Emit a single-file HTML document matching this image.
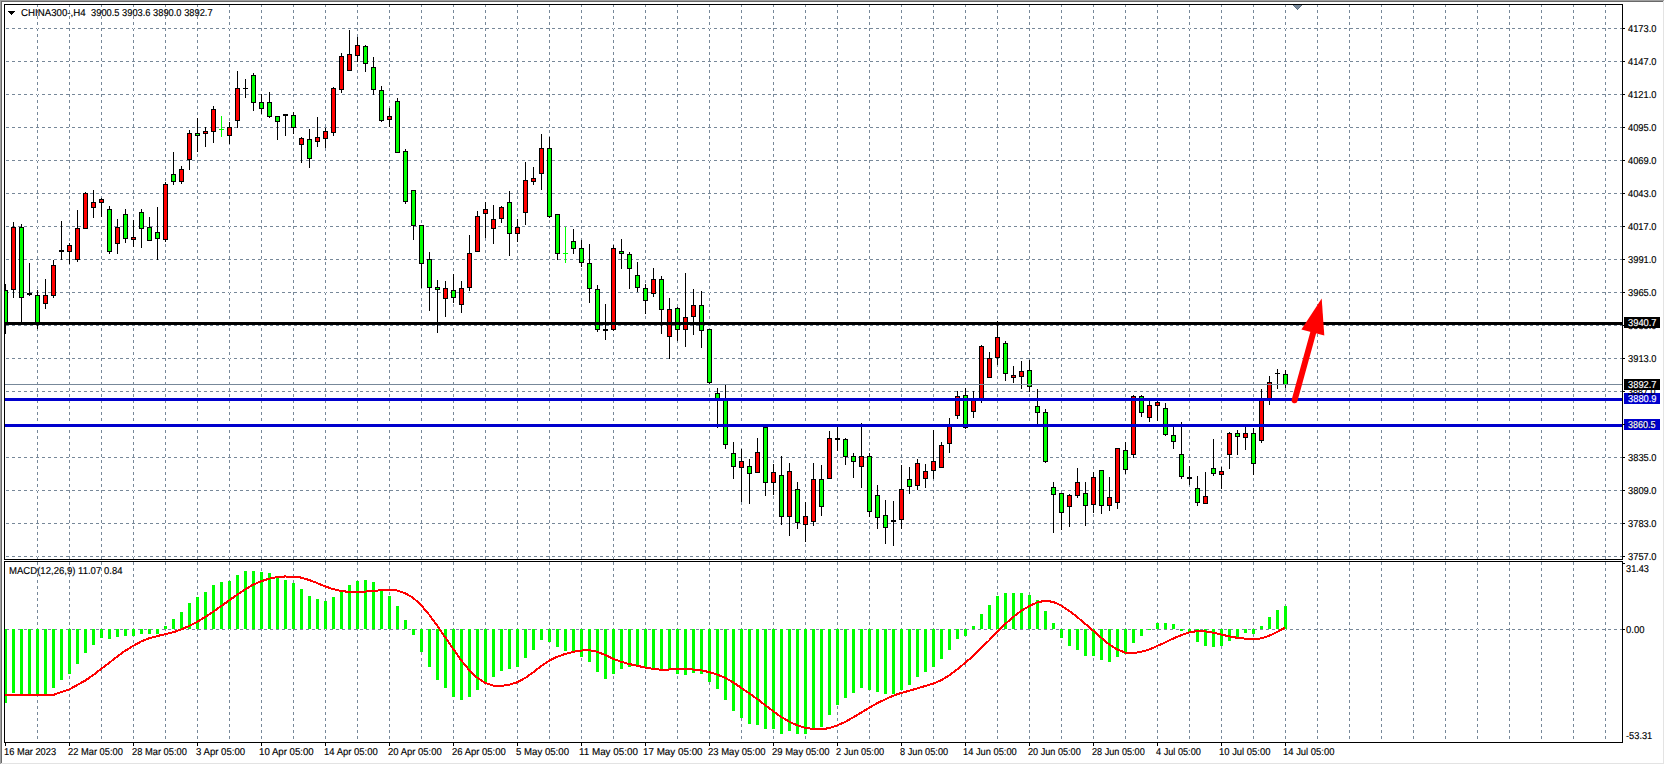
<!DOCTYPE html>
<html><head><meta charset="utf-8"><title>CHINA300-,H4</title>
<style>html,body{margin:0;padding:0;background:#fff;}body{width:1665px;height:765px;overflow:hidden;}svg{display:block;}</style>
</head><body><svg width="1665" height="765" viewBox="0 0 1665 765" shape-rendering="crispEdges"><rect x="0" y="0" width="1665" height="765" fill="#ffffff"/><rect x="0" y="0" width="1664" height="1" fill="#a0a0a0"/><rect x="0" y="0" width="1" height="764" fill="#a0a0a0"/><rect x="1" y="1" width="1662" height="1" fill="#696969"/><rect x="1" y="1" width="1" height="762" fill="#696969"/><rect x="1663" y="1" width="1" height="763" fill="#e3e3e3"/><rect x="1" y="763" width="1663" height="1" fill="#e3e3e3"/><path d="M6 28h3v1h-3zM12 28h3v1h-3zM18 28h3v1h-3zM24 28h3v1h-3zM30 28h3v1h-3zM36 28h3v1h-3zM42 28h3v1h-3zM48 28h3v1h-3zM54 28h3v1h-3zM60 28h3v1h-3zM66 28h3v1h-3zM72 28h3v1h-3zM78 28h3v1h-3zM84 28h3v1h-3zM90 28h3v1h-3zM96 28h3v1h-3zM102 28h3v1h-3zM108 28h3v1h-3zM114 28h3v1h-3zM120 28h3v1h-3zM126 28h3v1h-3zM132 28h3v1h-3zM138 28h3v1h-3zM144 28h3v1h-3zM150 28h3v1h-3zM156 28h3v1h-3zM162 28h3v1h-3zM168 28h3v1h-3zM174 28h3v1h-3zM180 28h3v1h-3zM186 28h3v1h-3zM192 28h3v1h-3zM198 28h3v1h-3zM204 28h3v1h-3zM210 28h3v1h-3zM216 28h3v1h-3zM222 28h3v1h-3zM228 28h3v1h-3zM234 28h3v1h-3zM240 28h3v1h-3zM246 28h3v1h-3zM252 28h3v1h-3zM258 28h3v1h-3zM264 28h3v1h-3zM270 28h3v1h-3zM276 28h3v1h-3zM282 28h3v1h-3zM288 28h3v1h-3zM294 28h3v1h-3zM300 28h3v1h-3zM306 28h3v1h-3zM312 28h3v1h-3zM318 28h3v1h-3zM324 28h3v1h-3zM330 28h3v1h-3zM336 28h3v1h-3zM342 28h3v1h-3zM348 28h3v1h-3zM354 28h3v1h-3zM360 28h3v1h-3zM366 28h3v1h-3zM372 28h3v1h-3zM378 28h3v1h-3zM384 28h3v1h-3zM390 28h3v1h-3zM396 28h3v1h-3zM402 28h3v1h-3zM408 28h3v1h-3zM414 28h3v1h-3zM420 28h3v1h-3zM426 28h3v1h-3zM432 28h3v1h-3zM438 28h3v1h-3zM444 28h3v1h-3zM450 28h3v1h-3zM456 28h3v1h-3zM462 28h3v1h-3zM468 28h3v1h-3zM474 28h3v1h-3zM480 28h3v1h-3zM486 28h3v1h-3zM492 28h3v1h-3zM498 28h3v1h-3zM504 28h3v1h-3zM510 28h3v1h-3zM516 28h3v1h-3zM522 28h3v1h-3zM528 28h3v1h-3zM534 28h3v1h-3zM540 28h3v1h-3zM546 28h3v1h-3zM552 28h3v1h-3zM558 28h3v1h-3zM564 28h3v1h-3zM570 28h3v1h-3zM576 28h3v1h-3zM582 28h3v1h-3zM588 28h3v1h-3zM594 28h3v1h-3zM600 28h3v1h-3zM606 28h3v1h-3zM612 28h3v1h-3zM618 28h3v1h-3zM624 28h3v1h-3zM630 28h3v1h-3zM636 28h3v1h-3zM642 28h3v1h-3zM648 28h3v1h-3zM654 28h3v1h-3zM660 28h3v1h-3zM666 28h3v1h-3zM672 28h3v1h-3zM678 28h3v1h-3zM684 28h3v1h-3zM690 28h3v1h-3zM696 28h3v1h-3zM702 28h3v1h-3zM708 28h3v1h-3zM714 28h3v1h-3zM720 28h3v1h-3zM726 28h3v1h-3zM732 28h3v1h-3zM738 28h3v1h-3zM744 28h3v1h-3zM750 28h3v1h-3zM756 28h3v1h-3zM762 28h3v1h-3zM768 28h3v1h-3zM774 28h3v1h-3zM780 28h3v1h-3zM786 28h3v1h-3zM792 28h3v1h-3zM798 28h3v1h-3zM804 28h3v1h-3zM810 28h3v1h-3zM816 28h3v1h-3zM822 28h3v1h-3zM828 28h3v1h-3zM834 28h3v1h-3zM840 28h3v1h-3zM846 28h3v1h-3zM852 28h3v1h-3zM858 28h3v1h-3zM864 28h3v1h-3zM870 28h3v1h-3zM876 28h3v1h-3zM882 28h3v1h-3zM888 28h3v1h-3zM894 28h3v1h-3zM900 28h3v1h-3zM906 28h3v1h-3zM912 28h3v1h-3zM918 28h3v1h-3zM924 28h3v1h-3zM930 28h3v1h-3zM936 28h3v1h-3zM942 28h3v1h-3zM948 28h3v1h-3zM954 28h3v1h-3zM960 28h3v1h-3zM966 28h3v1h-3zM972 28h3v1h-3zM978 28h3v1h-3zM984 28h3v1h-3zM990 28h3v1h-3zM996 28h3v1h-3zM1002 28h3v1h-3zM1008 28h3v1h-3zM1014 28h3v1h-3zM1020 28h3v1h-3zM1026 28h3v1h-3zM1032 28h3v1h-3zM1038 28h3v1h-3zM1044 28h3v1h-3zM1050 28h3v1h-3zM1056 28h3v1h-3zM1062 28h3v1h-3zM1068 28h3v1h-3zM1074 28h3v1h-3zM1080 28h3v1h-3zM1086 28h3v1h-3zM1092 28h3v1h-3zM1098 28h3v1h-3zM1104 28h3v1h-3zM1110 28h3v1h-3zM1116 28h3v1h-3zM1122 28h3v1h-3zM1128 28h3v1h-3zM1134 28h3v1h-3zM1140 28h3v1h-3zM1146 28h3v1h-3zM1152 28h3v1h-3zM1158 28h3v1h-3zM1164 28h3v1h-3zM1170 28h3v1h-3zM1176 28h3v1h-3zM1182 28h3v1h-3zM1188 28h3v1h-3zM1194 28h3v1h-3zM1200 28h3v1h-3zM1206 28h3v1h-3zM1212 28h3v1h-3zM1218 28h3v1h-3zM1224 28h3v1h-3zM1230 28h3v1h-3zM1236 28h3v1h-3zM1242 28h3v1h-3zM1248 28h3v1h-3zM1254 28h3v1h-3zM1260 28h3v1h-3zM1266 28h3v1h-3zM1272 28h3v1h-3zM1278 28h3v1h-3zM1284 28h3v1h-3zM1290 28h3v1h-3zM1296 28h3v1h-3zM1302 28h3v1h-3zM1308 28h3v1h-3zM1314 28h3v1h-3zM1320 28h3v1h-3zM1326 28h3v1h-3zM1332 28h3v1h-3zM1338 28h3v1h-3zM1344 28h3v1h-3zM1350 28h3v1h-3zM1356 28h3v1h-3zM1362 28h3v1h-3zM1368 28h3v1h-3zM1374 28h3v1h-3zM1380 28h3v1h-3zM1386 28h3v1h-3zM1392 28h3v1h-3zM1398 28h3v1h-3zM1404 28h3v1h-3zM1410 28h3v1h-3zM1416 28h3v1h-3zM1422 28h3v1h-3zM1428 28h3v1h-3zM1434 28h3v1h-3zM1440 28h3v1h-3zM1446 28h3v1h-3zM1452 28h3v1h-3zM1458 28h3v1h-3zM1464 28h3v1h-3zM1470 28h3v1h-3zM1476 28h3v1h-3zM1482 28h3v1h-3zM1488 28h3v1h-3zM1494 28h3v1h-3zM1500 28h3v1h-3zM1506 28h3v1h-3zM1512 28h3v1h-3zM1518 28h3v1h-3zM1524 28h3v1h-3zM1530 28h3v1h-3zM1536 28h3v1h-3zM1542 28h3v1h-3zM1548 28h3v1h-3zM1554 28h3v1h-3zM1560 28h3v1h-3zM1566 28h3v1h-3zM1572 28h3v1h-3zM1578 28h3v1h-3zM1584 28h3v1h-3zM1590 28h3v1h-3zM1596 28h3v1h-3zM1602 28h3v1h-3zM1608 28h3v1h-3zM1614 28h3v1h-3zM1620 28h2v1h-2zM6 61h3v1h-3zM12 61h3v1h-3zM18 61h3v1h-3zM24 61h3v1h-3zM30 61h3v1h-3zM36 61h3v1h-3zM42 61h3v1h-3zM48 61h3v1h-3zM54 61h3v1h-3zM60 61h3v1h-3zM66 61h3v1h-3zM72 61h3v1h-3zM78 61h3v1h-3zM84 61h3v1h-3zM90 61h3v1h-3zM96 61h3v1h-3zM102 61h3v1h-3zM108 61h3v1h-3zM114 61h3v1h-3zM120 61h3v1h-3zM126 61h3v1h-3zM132 61h3v1h-3zM138 61h3v1h-3zM144 61h3v1h-3zM150 61h3v1h-3zM156 61h3v1h-3zM162 61h3v1h-3zM168 61h3v1h-3zM174 61h3v1h-3zM180 61h3v1h-3zM186 61h3v1h-3zM192 61h3v1h-3zM198 61h3v1h-3zM204 61h3v1h-3zM210 61h3v1h-3zM216 61h3v1h-3zM222 61h3v1h-3zM228 61h3v1h-3zM234 61h3v1h-3zM240 61h3v1h-3zM246 61h3v1h-3zM252 61h3v1h-3zM258 61h3v1h-3zM264 61h3v1h-3zM270 61h3v1h-3zM276 61h3v1h-3zM282 61h3v1h-3zM288 61h3v1h-3zM294 61h3v1h-3zM300 61h3v1h-3zM306 61h3v1h-3zM312 61h3v1h-3zM318 61h3v1h-3zM324 61h3v1h-3zM330 61h3v1h-3zM336 61h3v1h-3zM342 61h3v1h-3zM348 61h3v1h-3zM354 61h3v1h-3zM360 61h3v1h-3zM366 61h3v1h-3zM372 61h3v1h-3zM378 61h3v1h-3zM384 61h3v1h-3zM390 61h3v1h-3zM396 61h3v1h-3zM402 61h3v1h-3zM408 61h3v1h-3zM414 61h3v1h-3zM420 61h3v1h-3zM426 61h3v1h-3zM432 61h3v1h-3zM438 61h3v1h-3zM444 61h3v1h-3zM450 61h3v1h-3zM456 61h3v1h-3zM462 61h3v1h-3zM468 61h3v1h-3zM474 61h3v1h-3zM480 61h3v1h-3zM486 61h3v1h-3zM492 61h3v1h-3zM498 61h3v1h-3zM504 61h3v1h-3zM510 61h3v1h-3zM516 61h3v1h-3zM522 61h3v1h-3zM528 61h3v1h-3zM534 61h3v1h-3zM540 61h3v1h-3zM546 61h3v1h-3zM552 61h3v1h-3zM558 61h3v1h-3zM564 61h3v1h-3zM570 61h3v1h-3zM576 61h3v1h-3zM582 61h3v1h-3zM588 61h3v1h-3zM594 61h3v1h-3zM600 61h3v1h-3zM606 61h3v1h-3zM612 61h3v1h-3zM618 61h3v1h-3zM624 61h3v1h-3zM630 61h3v1h-3zM636 61h3v1h-3zM642 61h3v1h-3zM648 61h3v1h-3zM654 61h3v1h-3zM660 61h3v1h-3zM666 61h3v1h-3zM672 61h3v1h-3zM678 61h3v1h-3zM684 61h3v1h-3zM690 61h3v1h-3zM696 61h3v1h-3zM702 61h3v1h-3zM708 61h3v1h-3zM714 61h3v1h-3zM720 61h3v1h-3zM726 61h3v1h-3zM732 61h3v1h-3zM738 61h3v1h-3zM744 61h3v1h-3zM750 61h3v1h-3zM756 61h3v1h-3zM762 61h3v1h-3zM768 61h3v1h-3zM774 61h3v1h-3zM780 61h3v1h-3zM786 61h3v1h-3zM792 61h3v1h-3zM798 61h3v1h-3zM804 61h3v1h-3zM810 61h3v1h-3zM816 61h3v1h-3zM822 61h3v1h-3zM828 61h3v1h-3zM834 61h3v1h-3zM840 61h3v1h-3zM846 61h3v1h-3zM852 61h3v1h-3zM858 61h3v1h-3zM864 61h3v1h-3zM870 61h3v1h-3zM876 61h3v1h-3zM882 61h3v1h-3zM888 61h3v1h-3zM894 61h3v1h-3zM900 61h3v1h-3zM906 61h3v1h-3zM912 61h3v1h-3zM918 61h3v1h-3zM924 61h3v1h-3zM930 61h3v1h-3zM936 61h3v1h-3zM942 61h3v1h-3zM948 61h3v1h-3zM954 61h3v1h-3zM960 61h3v1h-3zM966 61h3v1h-3zM972 61h3v1h-3zM978 61h3v1h-3zM984 61h3v1h-3zM990 61h3v1h-3zM996 61h3v1h-3zM1002 61h3v1h-3zM1008 61h3v1h-3zM1014 61h3v1h-3zM1020 61h3v1h-3zM1026 61h3v1h-3zM1032 61h3v1h-3zM1038 61h3v1h-3zM1044 61h3v1h-3zM1050 61h3v1h-3zM1056 61h3v1h-3zM1062 61h3v1h-3zM1068 61h3v1h-3zM1074 61h3v1h-3zM1080 61h3v1h-3zM1086 61h3v1h-3zM1092 61h3v1h-3zM1098 61h3v1h-3zM1104 61h3v1h-3zM1110 61h3v1h-3zM1116 61h3v1h-3zM1122 61h3v1h-3zM1128 61h3v1h-3zM1134 61h3v1h-3zM1140 61h3v1h-3zM1146 61h3v1h-3zM1152 61h3v1h-3zM1158 61h3v1h-3zM1164 61h3v1h-3zM1170 61h3v1h-3zM1176 61h3v1h-3zM1182 61h3v1h-3zM1188 61h3v1h-3zM1194 61h3v1h-3zM1200 61h3v1h-3zM1206 61h3v1h-3zM1212 61h3v1h-3zM1218 61h3v1h-3zM1224 61h3v1h-3zM1230 61h3v1h-3zM1236 61h3v1h-3zM1242 61h3v1h-3zM1248 61h3v1h-3zM1254 61h3v1h-3zM1260 61h3v1h-3zM1266 61h3v1h-3zM1272 61h3v1h-3zM1278 61h3v1h-3zM1284 61h3v1h-3zM1290 61h3v1h-3zM1296 61h3v1h-3zM1302 61h3v1h-3zM1308 61h3v1h-3zM1314 61h3v1h-3zM1320 61h3v1h-3zM1326 61h3v1h-3zM1332 61h3v1h-3zM1338 61h3v1h-3zM1344 61h3v1h-3zM1350 61h3v1h-3zM1356 61h3v1h-3zM1362 61h3v1h-3zM1368 61h3v1h-3zM1374 61h3v1h-3zM1380 61h3v1h-3zM1386 61h3v1h-3zM1392 61h3v1h-3zM1398 61h3v1h-3zM1404 61h3v1h-3zM1410 61h3v1h-3zM1416 61h3v1h-3zM1422 61h3v1h-3zM1428 61h3v1h-3zM1434 61h3v1h-3zM1440 61h3v1h-3zM1446 61h3v1h-3zM1452 61h3v1h-3zM1458 61h3v1h-3zM1464 61h3v1h-3zM1470 61h3v1h-3zM1476 61h3v1h-3zM1482 61h3v1h-3zM1488 61h3v1h-3zM1494 61h3v1h-3zM1500 61h3v1h-3zM1506 61h3v1h-3zM1512 61h3v1h-3zM1518 61h3v1h-3zM1524 61h3v1h-3zM1530 61h3v1h-3zM1536 61h3v1h-3zM1542 61h3v1h-3zM1548 61h3v1h-3zM1554 61h3v1h-3zM1560 61h3v1h-3zM1566 61h3v1h-3zM1572 61h3v1h-3zM1578 61h3v1h-3zM1584 61h3v1h-3zM1590 61h3v1h-3zM1596 61h3v1h-3zM1602 61h3v1h-3zM1608 61h3v1h-3zM1614 61h3v1h-3zM1620 61h2v1h-2zM6 94h3v1h-3zM12 94h3v1h-3zM18 94h3v1h-3zM24 94h3v1h-3zM30 94h3v1h-3zM36 94h3v1h-3zM42 94h3v1h-3zM48 94h3v1h-3zM54 94h3v1h-3zM60 94h3v1h-3zM66 94h3v1h-3zM72 94h3v1h-3zM78 94h3v1h-3zM84 94h3v1h-3zM90 94h3v1h-3zM96 94h3v1h-3zM102 94h3v1h-3zM108 94h3v1h-3zM114 94h3v1h-3zM120 94h3v1h-3zM126 94h3v1h-3zM132 94h3v1h-3zM138 94h3v1h-3zM144 94h3v1h-3zM150 94h3v1h-3zM156 94h3v1h-3zM162 94h3v1h-3zM168 94h3v1h-3zM174 94h3v1h-3zM180 94h3v1h-3zM186 94h3v1h-3zM192 94h3v1h-3zM198 94h3v1h-3zM204 94h3v1h-3zM210 94h3v1h-3zM216 94h3v1h-3zM222 94h3v1h-3zM228 94h3v1h-3zM234 94h3v1h-3zM240 94h3v1h-3zM246 94h3v1h-3zM252 94h3v1h-3zM258 94h3v1h-3zM264 94h3v1h-3zM270 94h3v1h-3zM276 94h3v1h-3zM282 94h3v1h-3zM288 94h3v1h-3zM294 94h3v1h-3zM300 94h3v1h-3zM306 94h3v1h-3zM312 94h3v1h-3zM318 94h3v1h-3zM324 94h3v1h-3zM330 94h3v1h-3zM336 94h3v1h-3zM342 94h3v1h-3zM348 94h3v1h-3zM354 94h3v1h-3zM360 94h3v1h-3zM366 94h3v1h-3zM372 94h3v1h-3zM378 94h3v1h-3zM384 94h3v1h-3zM390 94h3v1h-3zM396 94h3v1h-3zM402 94h3v1h-3zM408 94h3v1h-3zM414 94h3v1h-3zM420 94h3v1h-3zM426 94h3v1h-3zM432 94h3v1h-3zM438 94h3v1h-3zM444 94h3v1h-3zM450 94h3v1h-3zM456 94h3v1h-3zM462 94h3v1h-3zM468 94h3v1h-3zM474 94h3v1h-3zM480 94h3v1h-3zM486 94h3v1h-3zM492 94h3v1h-3zM498 94h3v1h-3zM504 94h3v1h-3zM510 94h3v1h-3zM516 94h3v1h-3zM522 94h3v1h-3zM528 94h3v1h-3zM534 94h3v1h-3zM540 94h3v1h-3zM546 94h3v1h-3zM552 94h3v1h-3zM558 94h3v1h-3zM564 94h3v1h-3zM570 94h3v1h-3zM576 94h3v1h-3zM582 94h3v1h-3zM588 94h3v1h-3zM594 94h3v1h-3zM600 94h3v1h-3zM606 94h3v1h-3zM612 94h3v1h-3zM618 94h3v1h-3zM624 94h3v1h-3zM630 94h3v1h-3zM636 94h3v1h-3zM642 94h3v1h-3zM648 94h3v1h-3zM654 94h3v1h-3zM660 94h3v1h-3zM666 94h3v1h-3zM672 94h3v1h-3zM678 94h3v1h-3zM684 94h3v1h-3zM690 94h3v1h-3zM696 94h3v1h-3zM702 94h3v1h-3zM708 94h3v1h-3zM714 94h3v1h-3zM720 94h3v1h-3zM726 94h3v1h-3zM732 94h3v1h-3zM738 94h3v1h-3zM744 94h3v1h-3zM750 94h3v1h-3zM756 94h3v1h-3zM762 94h3v1h-3zM768 94h3v1h-3zM774 94h3v1h-3zM780 94h3v1h-3zM786 94h3v1h-3zM792 94h3v1h-3zM798 94h3v1h-3zM804 94h3v1h-3zM810 94h3v1h-3zM816 94h3v1h-3zM822 94h3v1h-3zM828 94h3v1h-3zM834 94h3v1h-3zM840 94h3v1h-3zM846 94h3v1h-3zM852 94h3v1h-3zM858 94h3v1h-3zM864 94h3v1h-3zM870 94h3v1h-3zM876 94h3v1h-3zM882 94h3v1h-3zM888 94h3v1h-3zM894 94h3v1h-3zM900 94h3v1h-3zM906 94h3v1h-3zM912 94h3v1h-3zM918 94h3v1h-3zM924 94h3v1h-3zM930 94h3v1h-3zM936 94h3v1h-3zM942 94h3v1h-3zM948 94h3v1h-3zM954 94h3v1h-3zM960 94h3v1h-3zM966 94h3v1h-3zM972 94h3v1h-3zM978 94h3v1h-3zM984 94h3v1h-3zM990 94h3v1h-3zM996 94h3v1h-3zM1002 94h3v1h-3zM1008 94h3v1h-3zM1014 94h3v1h-3zM1020 94h3v1h-3zM1026 94h3v1h-3zM1032 94h3v1h-3zM1038 94h3v1h-3zM1044 94h3v1h-3zM1050 94h3v1h-3zM1056 94h3v1h-3zM1062 94h3v1h-3zM1068 94h3v1h-3zM1074 94h3v1h-3zM1080 94h3v1h-3zM1086 94h3v1h-3zM1092 94h3v1h-3zM1098 94h3v1h-3zM1104 94h3v1h-3zM1110 94h3v1h-3zM1116 94h3v1h-3zM1122 94h3v1h-3zM1128 94h3v1h-3zM1134 94h3v1h-3zM1140 94h3v1h-3zM1146 94h3v1h-3zM1152 94h3v1h-3zM1158 94h3v1h-3zM1164 94h3v1h-3zM1170 94h3v1h-3zM1176 94h3v1h-3zM1182 94h3v1h-3zM1188 94h3v1h-3zM1194 94h3v1h-3zM1200 94h3v1h-3zM1206 94h3v1h-3zM1212 94h3v1h-3zM1218 94h3v1h-3zM1224 94h3v1h-3zM1230 94h3v1h-3zM1236 94h3v1h-3zM1242 94h3v1h-3zM1248 94h3v1h-3zM1254 94h3v1h-3zM1260 94h3v1h-3zM1266 94h3v1h-3zM1272 94h3v1h-3zM1278 94h3v1h-3zM1284 94h3v1h-3zM1290 94h3v1h-3zM1296 94h3v1h-3zM1302 94h3v1h-3zM1308 94h3v1h-3zM1314 94h3v1h-3zM1320 94h3v1h-3zM1326 94h3v1h-3zM1332 94h3v1h-3zM1338 94h3v1h-3zM1344 94h3v1h-3zM1350 94h3v1h-3zM1356 94h3v1h-3zM1362 94h3v1h-3zM1368 94h3v1h-3zM1374 94h3v1h-3zM1380 94h3v1h-3zM1386 94h3v1h-3zM1392 94h3v1h-3zM1398 94h3v1h-3zM1404 94h3v1h-3zM1410 94h3v1h-3zM1416 94h3v1h-3zM1422 94h3v1h-3zM1428 94h3v1h-3zM1434 94h3v1h-3zM1440 94h3v1h-3zM1446 94h3v1h-3zM1452 94h3v1h-3zM1458 94h3v1h-3zM1464 94h3v1h-3zM1470 94h3v1h-3zM1476 94h3v1h-3zM1482 94h3v1h-3zM1488 94h3v1h-3zM1494 94h3v1h-3zM1500 94h3v1h-3zM1506 94h3v1h-3zM1512 94h3v1h-3zM1518 94h3v1h-3zM1524 94h3v1h-3zM1530 94h3v1h-3zM1536 94h3v1h-3zM1542 94h3v1h-3zM1548 94h3v1h-3zM1554 94h3v1h-3zM1560 94h3v1h-3zM1566 94h3v1h-3zM1572 94h3v1h-3zM1578 94h3v1h-3zM1584 94h3v1h-3zM1590 94h3v1h-3zM1596 94h3v1h-3zM1602 94h3v1h-3zM1608 94h3v1h-3zM1614 94h3v1h-3zM1620 94h2v1h-2zM6 127h3v1h-3zM12 127h3v1h-3zM18 127h3v1h-3zM24 127h3v1h-3zM30 127h3v1h-3zM36 127h3v1h-3zM42 127h3v1h-3zM48 127h3v1h-3zM54 127h3v1h-3zM60 127h3v1h-3zM66 127h3v1h-3zM72 127h3v1h-3zM78 127h3v1h-3zM84 127h3v1h-3zM90 127h3v1h-3zM96 127h3v1h-3zM102 127h3v1h-3zM108 127h3v1h-3zM114 127h3v1h-3zM120 127h3v1h-3zM126 127h3v1h-3zM132 127h3v1h-3zM138 127h3v1h-3zM144 127h3v1h-3zM150 127h3v1h-3zM156 127h3v1h-3zM162 127h3v1h-3zM168 127h3v1h-3zM174 127h3v1h-3zM180 127h3v1h-3zM186 127h3v1h-3zM192 127h3v1h-3zM198 127h3v1h-3zM204 127h3v1h-3zM210 127h3v1h-3zM216 127h3v1h-3zM222 127h3v1h-3zM228 127h3v1h-3zM234 127h3v1h-3zM240 127h3v1h-3zM246 127h3v1h-3zM252 127h3v1h-3zM258 127h3v1h-3zM264 127h3v1h-3zM270 127h3v1h-3zM276 127h3v1h-3zM282 127h3v1h-3zM288 127h3v1h-3zM294 127h3v1h-3zM300 127h3v1h-3zM306 127h3v1h-3zM312 127h3v1h-3zM318 127h3v1h-3zM324 127h3v1h-3zM330 127h3v1h-3zM336 127h3v1h-3zM342 127h3v1h-3zM348 127h3v1h-3zM354 127h3v1h-3zM360 127h3v1h-3zM366 127h3v1h-3zM372 127h3v1h-3zM378 127h3v1h-3zM384 127h3v1h-3zM390 127h3v1h-3zM396 127h3v1h-3zM402 127h3v1h-3zM408 127h3v1h-3zM414 127h3v1h-3zM420 127h3v1h-3zM426 127h3v1h-3zM432 127h3v1h-3zM438 127h3v1h-3zM444 127h3v1h-3zM450 127h3v1h-3zM456 127h3v1h-3zM462 127h3v1h-3zM468 127h3v1h-3zM474 127h3v1h-3zM480 127h3v1h-3zM486 127h3v1h-3zM492 127h3v1h-3zM498 127h3v1h-3zM504 127h3v1h-3zM510 127h3v1h-3zM516 127h3v1h-3zM522 127h3v1h-3zM528 127h3v1h-3zM534 127h3v1h-3zM540 127h3v1h-3zM546 127h3v1h-3zM552 127h3v1h-3zM558 127h3v1h-3zM564 127h3v1h-3zM570 127h3v1h-3zM576 127h3v1h-3zM582 127h3v1h-3zM588 127h3v1h-3zM594 127h3v1h-3zM600 127h3v1h-3zM606 127h3v1h-3zM612 127h3v1h-3zM618 127h3v1h-3zM624 127h3v1h-3zM630 127h3v1h-3zM636 127h3v1h-3zM642 127h3v1h-3zM648 127h3v1h-3zM654 127h3v1h-3zM660 127h3v1h-3zM666 127h3v1h-3zM672 127h3v1h-3zM678 127h3v1h-3zM684 127h3v1h-3zM690 127h3v1h-3zM696 127h3v1h-3zM702 127h3v1h-3zM708 127h3v1h-3zM714 127h3v1h-3zM720 127h3v1h-3zM726 127h3v1h-3zM732 127h3v1h-3zM738 127h3v1h-3zM744 127h3v1h-3zM750 127h3v1h-3zM756 127h3v1h-3zM762 127h3v1h-3zM768 127h3v1h-3zM774 127h3v1h-3zM780 127h3v1h-3zM786 127h3v1h-3zM792 127h3v1h-3zM798 127h3v1h-3zM804 127h3v1h-3zM810 127h3v1h-3zM816 127h3v1h-3zM822 127h3v1h-3zM828 127h3v1h-3zM834 127h3v1h-3zM840 127h3v1h-3zM846 127h3v1h-3zM852 127h3v1h-3zM858 127h3v1h-3zM864 127h3v1h-3zM870 127h3v1h-3zM876 127h3v1h-3zM882 127h3v1h-3zM888 127h3v1h-3zM894 127h3v1h-3zM900 127h3v1h-3zM906 127h3v1h-3zM912 127h3v1h-3zM918 127h3v1h-3zM924 127h3v1h-3zM930 127h3v1h-3zM936 127h3v1h-3zM942 127h3v1h-3zM948 127h3v1h-3zM954 127h3v1h-3zM960 127h3v1h-3zM966 127h3v1h-3zM972 127h3v1h-3zM978 127h3v1h-3zM984 127h3v1h-3zM990 127h3v1h-3zM996 127h3v1h-3zM1002 127h3v1h-3zM1008 127h3v1h-3zM1014 127h3v1h-3zM1020 127h3v1h-3zM1026 127h3v1h-3zM1032 127h3v1h-3zM1038 127h3v1h-3zM1044 127h3v1h-3zM1050 127h3v1h-3zM1056 127h3v1h-3zM1062 127h3v1h-3zM1068 127h3v1h-3zM1074 127h3v1h-3zM1080 127h3v1h-3zM1086 127h3v1h-3zM1092 127h3v1h-3zM1098 127h3v1h-3zM1104 127h3v1h-3zM1110 127h3v1h-3zM1116 127h3v1h-3zM1122 127h3v1h-3zM1128 127h3v1h-3zM1134 127h3v1h-3zM1140 127h3v1h-3zM1146 127h3v1h-3zM1152 127h3v1h-3zM1158 127h3v1h-3zM1164 127h3v1h-3zM1170 127h3v1h-3zM1176 127h3v1h-3zM1182 127h3v1h-3zM1188 127h3v1h-3zM1194 127h3v1h-3zM1200 127h3v1h-3zM1206 127h3v1h-3zM1212 127h3v1h-3zM1218 127h3v1h-3zM1224 127h3v1h-3zM1230 127h3v1h-3zM1236 127h3v1h-3zM1242 127h3v1h-3zM1248 127h3v1h-3zM1254 127h3v1h-3zM1260 127h3v1h-3zM1266 127h3v1h-3zM1272 127h3v1h-3zM1278 127h3v1h-3zM1284 127h3v1h-3zM1290 127h3v1h-3zM1296 127h3v1h-3zM1302 127h3v1h-3zM1308 127h3v1h-3zM1314 127h3v1h-3zM1320 127h3v1h-3zM1326 127h3v1h-3zM1332 127h3v1h-3zM1338 127h3v1h-3zM1344 127h3v1h-3zM1350 127h3v1h-3zM1356 127h3v1h-3zM1362 127h3v1h-3zM1368 127h3v1h-3zM1374 127h3v1h-3zM1380 127h3v1h-3zM1386 127h3v1h-3zM1392 127h3v1h-3zM1398 127h3v1h-3zM1404 127h3v1h-3zM1410 127h3v1h-3zM1416 127h3v1h-3zM1422 127h3v1h-3zM1428 127h3v1h-3zM1434 127h3v1h-3zM1440 127h3v1h-3zM1446 127h3v1h-3zM1452 127h3v1h-3zM1458 127h3v1h-3zM1464 127h3v1h-3zM1470 127h3v1h-3zM1476 127h3v1h-3zM1482 127h3v1h-3zM1488 127h3v1h-3zM1494 127h3v1h-3zM1500 127h3v1h-3zM1506 127h3v1h-3zM1512 127h3v1h-3zM1518 127h3v1h-3zM1524 127h3v1h-3zM1530 127h3v1h-3zM1536 127h3v1h-3zM1542 127h3v1h-3zM1548 127h3v1h-3zM1554 127h3v1h-3zM1560 127h3v1h-3zM1566 127h3v1h-3zM1572 127h3v1h-3zM1578 127h3v1h-3zM1584 127h3v1h-3zM1590 127h3v1h-3zM1596 127h3v1h-3zM1602 127h3v1h-3zM1608 127h3v1h-3zM1614 127h3v1h-3zM1620 127h2v1h-2zM6 160h3v1h-3zM12 160h3v1h-3zM18 160h3v1h-3zM24 160h3v1h-3zM30 160h3v1h-3zM36 160h3v1h-3zM42 160h3v1h-3zM48 160h3v1h-3zM54 160h3v1h-3zM60 160h3v1h-3zM66 160h3v1h-3zM72 160h3v1h-3zM78 160h3v1h-3zM84 160h3v1h-3zM90 160h3v1h-3zM96 160h3v1h-3zM102 160h3v1h-3zM108 160h3v1h-3zM114 160h3v1h-3zM120 160h3v1h-3zM126 160h3v1h-3zM132 160h3v1h-3zM138 160h3v1h-3zM144 160h3v1h-3zM150 160h3v1h-3zM156 160h3v1h-3zM162 160h3v1h-3zM168 160h3v1h-3zM174 160h3v1h-3zM180 160h3v1h-3zM186 160h3v1h-3zM192 160h3v1h-3zM198 160h3v1h-3zM204 160h3v1h-3zM210 160h3v1h-3zM216 160h3v1h-3zM222 160h3v1h-3zM228 160h3v1h-3zM234 160h3v1h-3zM240 160h3v1h-3zM246 160h3v1h-3zM252 160h3v1h-3zM258 160h3v1h-3zM264 160h3v1h-3zM270 160h3v1h-3zM276 160h3v1h-3zM282 160h3v1h-3zM288 160h3v1h-3zM294 160h3v1h-3zM300 160h3v1h-3zM306 160h3v1h-3zM312 160h3v1h-3zM318 160h3v1h-3zM324 160h3v1h-3zM330 160h3v1h-3zM336 160h3v1h-3zM342 160h3v1h-3zM348 160h3v1h-3zM354 160h3v1h-3zM360 160h3v1h-3zM366 160h3v1h-3zM372 160h3v1h-3zM378 160h3v1h-3zM384 160h3v1h-3zM390 160h3v1h-3zM396 160h3v1h-3zM402 160h3v1h-3zM408 160h3v1h-3zM414 160h3v1h-3zM420 160h3v1h-3zM426 160h3v1h-3zM432 160h3v1h-3zM438 160h3v1h-3zM444 160h3v1h-3zM450 160h3v1h-3zM456 160h3v1h-3zM462 160h3v1h-3zM468 160h3v1h-3zM474 160h3v1h-3zM480 160h3v1h-3zM486 160h3v1h-3zM492 160h3v1h-3zM498 160h3v1h-3zM504 160h3v1h-3zM510 160h3v1h-3zM516 160h3v1h-3zM522 160h3v1h-3zM528 160h3v1h-3zM534 160h3v1h-3zM540 160h3v1h-3zM546 160h3v1h-3zM552 160h3v1h-3zM558 160h3v1h-3zM564 160h3v1h-3zM570 160h3v1h-3zM576 160h3v1h-3zM582 160h3v1h-3zM588 160h3v1h-3zM594 160h3v1h-3zM600 160h3v1h-3zM606 160h3v1h-3zM612 160h3v1h-3zM618 160h3v1h-3zM624 160h3v1h-3zM630 160h3v1h-3zM636 160h3v1h-3zM642 160h3v1h-3zM648 160h3v1h-3zM654 160h3v1h-3zM660 160h3v1h-3zM666 160h3v1h-3zM672 160h3v1h-3zM678 160h3v1h-3zM684 160h3v1h-3zM690 160h3v1h-3zM696 160h3v1h-3zM702 160h3v1h-3zM708 160h3v1h-3zM714 160h3v1h-3zM720 160h3v1h-3zM726 160h3v1h-3zM732 160h3v1h-3zM738 160h3v1h-3zM744 160h3v1h-3zM750 160h3v1h-3zM756 160h3v1h-3zM762 160h3v1h-3zM768 160h3v1h-3zM774 160h3v1h-3zM780 160h3v1h-3zM786 160h3v1h-3zM792 160h3v1h-3zM798 160h3v1h-3zM804 160h3v1h-3zM810 160h3v1h-3zM816 160h3v1h-3zM822 160h3v1h-3zM828 160h3v1h-3zM834 160h3v1h-3zM840 160h3v1h-3zM846 160h3v1h-3zM852 160h3v1h-3zM858 160h3v1h-3zM864 160h3v1h-3zM870 160h3v1h-3zM876 160h3v1h-3zM882 160h3v1h-3zM888 160h3v1h-3zM894 160h3v1h-3zM900 160h3v1h-3zM906 160h3v1h-3zM912 160h3v1h-3zM918 160h3v1h-3zM924 160h3v1h-3zM930 160h3v1h-3zM936 160h3v1h-3zM942 160h3v1h-3zM948 160h3v1h-3zM954 160h3v1h-3zM960 160h3v1h-3zM966 160h3v1h-3zM972 160h3v1h-3zM978 160h3v1h-3zM984 160h3v1h-3zM990 160h3v1h-3zM996 160h3v1h-3zM1002 160h3v1h-3zM1008 160h3v1h-3zM1014 160h3v1h-3zM1020 160h3v1h-3zM1026 160h3v1h-3zM1032 160h3v1h-3zM1038 160h3v1h-3zM1044 160h3v1h-3zM1050 160h3v1h-3zM1056 160h3v1h-3zM1062 160h3v1h-3zM1068 160h3v1h-3zM1074 160h3v1h-3zM1080 160h3v1h-3zM1086 160h3v1h-3zM1092 160h3v1h-3zM1098 160h3v1h-3zM1104 160h3v1h-3zM1110 160h3v1h-3zM1116 160h3v1h-3zM1122 160h3v1h-3zM1128 160h3v1h-3zM1134 160h3v1h-3zM1140 160h3v1h-3zM1146 160h3v1h-3zM1152 160h3v1h-3zM1158 160h3v1h-3zM1164 160h3v1h-3zM1170 160h3v1h-3zM1176 160h3v1h-3zM1182 160h3v1h-3zM1188 160h3v1h-3zM1194 160h3v1h-3zM1200 160h3v1h-3zM1206 160h3v1h-3zM1212 160h3v1h-3zM1218 160h3v1h-3zM1224 160h3v1h-3zM1230 160h3v1h-3zM1236 160h3v1h-3zM1242 160h3v1h-3zM1248 160h3v1h-3zM1254 160h3v1h-3zM1260 160h3v1h-3zM1266 160h3v1h-3zM1272 160h3v1h-3zM1278 160h3v1h-3zM1284 160h3v1h-3zM1290 160h3v1h-3zM1296 160h3v1h-3zM1302 160h3v1h-3zM1308 160h3v1h-3zM1314 160h3v1h-3zM1320 160h3v1h-3zM1326 160h3v1h-3zM1332 160h3v1h-3zM1338 160h3v1h-3zM1344 160h3v1h-3zM1350 160h3v1h-3zM1356 160h3v1h-3zM1362 160h3v1h-3zM1368 160h3v1h-3zM1374 160h3v1h-3zM1380 160h3v1h-3zM1386 160h3v1h-3zM1392 160h3v1h-3zM1398 160h3v1h-3zM1404 160h3v1h-3zM1410 160h3v1h-3zM1416 160h3v1h-3zM1422 160h3v1h-3zM1428 160h3v1h-3zM1434 160h3v1h-3zM1440 160h3v1h-3zM1446 160h3v1h-3zM1452 160h3v1h-3zM1458 160h3v1h-3zM1464 160h3v1h-3zM1470 160h3v1h-3zM1476 160h3v1h-3zM1482 160h3v1h-3zM1488 160h3v1h-3zM1494 160h3v1h-3zM1500 160h3v1h-3zM1506 160h3v1h-3zM1512 160h3v1h-3zM1518 160h3v1h-3zM1524 160h3v1h-3zM1530 160h3v1h-3zM1536 160h3v1h-3zM1542 160h3v1h-3zM1548 160h3v1h-3zM1554 160h3v1h-3zM1560 160h3v1h-3zM1566 160h3v1h-3zM1572 160h3v1h-3zM1578 160h3v1h-3zM1584 160h3v1h-3zM1590 160h3v1h-3zM1596 160h3v1h-3zM1602 160h3v1h-3zM1608 160h3v1h-3zM1614 160h3v1h-3zM1620 160h2v1h-2zM6 193h3v1h-3zM12 193h3v1h-3zM18 193h3v1h-3zM24 193h3v1h-3zM30 193h3v1h-3zM36 193h3v1h-3zM42 193h3v1h-3zM48 193h3v1h-3zM54 193h3v1h-3zM60 193h3v1h-3zM66 193h3v1h-3zM72 193h3v1h-3zM78 193h3v1h-3zM84 193h3v1h-3zM90 193h3v1h-3zM96 193h3v1h-3zM102 193h3v1h-3zM108 193h3v1h-3zM114 193h3v1h-3zM120 193h3v1h-3zM126 193h3v1h-3zM132 193h3v1h-3zM138 193h3v1h-3zM144 193h3v1h-3zM150 193h3v1h-3zM156 193h3v1h-3zM162 193h3v1h-3zM168 193h3v1h-3zM174 193h3v1h-3zM180 193h3v1h-3zM186 193h3v1h-3zM192 193h3v1h-3zM198 193h3v1h-3zM204 193h3v1h-3zM210 193h3v1h-3zM216 193h3v1h-3zM222 193h3v1h-3zM228 193h3v1h-3zM234 193h3v1h-3zM240 193h3v1h-3zM246 193h3v1h-3zM252 193h3v1h-3zM258 193h3v1h-3zM264 193h3v1h-3zM270 193h3v1h-3zM276 193h3v1h-3zM282 193h3v1h-3zM288 193h3v1h-3zM294 193h3v1h-3zM300 193h3v1h-3zM306 193h3v1h-3zM312 193h3v1h-3zM318 193h3v1h-3zM324 193h3v1h-3zM330 193h3v1h-3zM336 193h3v1h-3zM342 193h3v1h-3zM348 193h3v1h-3zM354 193h3v1h-3zM360 193h3v1h-3zM366 193h3v1h-3zM372 193h3v1h-3zM378 193h3v1h-3zM384 193h3v1h-3zM390 193h3v1h-3zM396 193h3v1h-3zM402 193h3v1h-3zM408 193h3v1h-3zM414 193h3v1h-3zM420 193h3v1h-3zM426 193h3v1h-3zM432 193h3v1h-3zM438 193h3v1h-3zM444 193h3v1h-3zM450 193h3v1h-3zM456 193h3v1h-3zM462 193h3v1h-3zM468 193h3v1h-3zM474 193h3v1h-3zM480 193h3v1h-3zM486 193h3v1h-3zM492 193h3v1h-3zM498 193h3v1h-3zM504 193h3v1h-3zM510 193h3v1h-3zM516 193h3v1h-3zM522 193h3v1h-3zM528 193h3v1h-3zM534 193h3v1h-3zM540 193h3v1h-3zM546 193h3v1h-3zM552 193h3v1h-3zM558 193h3v1h-3zM564 193h3v1h-3zM570 193h3v1h-3zM576 193h3v1h-3zM582 193h3v1h-3zM588 193h3v1h-3zM594 193h3v1h-3zM600 193h3v1h-3zM606 193h3v1h-3zM612 193h3v1h-3zM618 193h3v1h-3zM624 193h3v1h-3zM630 193h3v1h-3zM636 193h3v1h-3zM642 193h3v1h-3zM648 193h3v1h-3zM654 193h3v1h-3zM660 193h3v1h-3zM666 193h3v1h-3zM672 193h3v1h-3zM678 193h3v1h-3zM684 193h3v1h-3zM690 193h3v1h-3zM696 193h3v1h-3zM702 193h3v1h-3zM708 193h3v1h-3zM714 193h3v1h-3zM720 193h3v1h-3zM726 193h3v1h-3zM732 193h3v1h-3zM738 193h3v1h-3zM744 193h3v1h-3zM750 193h3v1h-3zM756 193h3v1h-3zM762 193h3v1h-3zM768 193h3v1h-3zM774 193h3v1h-3zM780 193h3v1h-3zM786 193h3v1h-3zM792 193h3v1h-3zM798 193h3v1h-3zM804 193h3v1h-3zM810 193h3v1h-3zM816 193h3v1h-3zM822 193h3v1h-3zM828 193h3v1h-3zM834 193h3v1h-3zM840 193h3v1h-3zM846 193h3v1h-3zM852 193h3v1h-3zM858 193h3v1h-3zM864 193h3v1h-3zM870 193h3v1h-3zM876 193h3v1h-3zM882 193h3v1h-3zM888 193h3v1h-3zM894 193h3v1h-3zM900 193h3v1h-3zM906 193h3v1h-3zM912 193h3v1h-3zM918 193h3v1h-3zM924 193h3v1h-3zM930 193h3v1h-3zM936 193h3v1h-3zM942 193h3v1h-3zM948 193h3v1h-3zM954 193h3v1h-3zM960 193h3v1h-3zM966 193h3v1h-3zM972 193h3v1h-3zM978 193h3v1h-3zM984 193h3v1h-3zM990 193h3v1h-3zM996 193h3v1h-3zM1002 193h3v1h-3zM1008 193h3v1h-3zM1014 193h3v1h-3zM1020 193h3v1h-3zM1026 193h3v1h-3zM1032 193h3v1h-3zM1038 193h3v1h-3zM1044 193h3v1h-3zM1050 193h3v1h-3zM1056 193h3v1h-3zM1062 193h3v1h-3zM1068 193h3v1h-3zM1074 193h3v1h-3zM1080 193h3v1h-3zM1086 193h3v1h-3zM1092 193h3v1h-3zM1098 193h3v1h-3zM1104 193h3v1h-3zM1110 193h3v1h-3zM1116 193h3v1h-3zM1122 193h3v1h-3zM1128 193h3v1h-3zM1134 193h3v1h-3zM1140 193h3v1h-3zM1146 193h3v1h-3zM1152 193h3v1h-3zM1158 193h3v1h-3zM1164 193h3v1h-3zM1170 193h3v1h-3zM1176 193h3v1h-3zM1182 193h3v1h-3zM1188 193h3v1h-3zM1194 193h3v1h-3zM1200 193h3v1h-3zM1206 193h3v1h-3zM1212 193h3v1h-3zM1218 193h3v1h-3zM1224 193h3v1h-3zM1230 193h3v1h-3zM1236 193h3v1h-3zM1242 193h3v1h-3zM1248 193h3v1h-3zM1254 193h3v1h-3zM1260 193h3v1h-3zM1266 193h3v1h-3zM1272 193h3v1h-3zM1278 193h3v1h-3zM1284 193h3v1h-3zM1290 193h3v1h-3zM1296 193h3v1h-3zM1302 193h3v1h-3zM1308 193h3v1h-3zM1314 193h3v1h-3zM1320 193h3v1h-3zM1326 193h3v1h-3zM1332 193h3v1h-3zM1338 193h3v1h-3zM1344 193h3v1h-3zM1350 193h3v1h-3zM1356 193h3v1h-3zM1362 193h3v1h-3zM1368 193h3v1h-3zM1374 193h3v1h-3zM1380 193h3v1h-3zM1386 193h3v1h-3zM1392 193h3v1h-3zM1398 193h3v1h-3zM1404 193h3v1h-3zM1410 193h3v1h-3zM1416 193h3v1h-3zM1422 193h3v1h-3zM1428 193h3v1h-3zM1434 193h3v1h-3zM1440 193h3v1h-3zM1446 193h3v1h-3zM1452 193h3v1h-3zM1458 193h3v1h-3zM1464 193h3v1h-3zM1470 193h3v1h-3zM1476 193h3v1h-3zM1482 193h3v1h-3zM1488 193h3v1h-3zM1494 193h3v1h-3zM1500 193h3v1h-3zM1506 193h3v1h-3zM1512 193h3v1h-3zM1518 193h3v1h-3zM1524 193h3v1h-3zM1530 193h3v1h-3zM1536 193h3v1h-3zM1542 193h3v1h-3zM1548 193h3v1h-3zM1554 193h3v1h-3zM1560 193h3v1h-3zM1566 193h3v1h-3zM1572 193h3v1h-3zM1578 193h3v1h-3zM1584 193h3v1h-3zM1590 193h3v1h-3zM1596 193h3v1h-3zM1602 193h3v1h-3zM1608 193h3v1h-3zM1614 193h3v1h-3zM1620 193h2v1h-2zM6 226h3v1h-3zM12 226h3v1h-3zM18 226h3v1h-3zM24 226h3v1h-3zM30 226h3v1h-3zM36 226h3v1h-3zM42 226h3v1h-3zM48 226h3v1h-3zM54 226h3v1h-3zM60 226h3v1h-3zM66 226h3v1h-3zM72 226h3v1h-3zM78 226h3v1h-3zM84 226h3v1h-3zM90 226h3v1h-3zM96 226h3v1h-3zM102 226h3v1h-3zM108 226h3v1h-3zM114 226h3v1h-3zM120 226h3v1h-3zM126 226h3v1h-3zM132 226h3v1h-3zM138 226h3v1h-3zM144 226h3v1h-3zM150 226h3v1h-3zM156 226h3v1h-3zM162 226h3v1h-3zM168 226h3v1h-3zM174 226h3v1h-3zM180 226h3v1h-3zM186 226h3v1h-3zM192 226h3v1h-3zM198 226h3v1h-3zM204 226h3v1h-3zM210 226h3v1h-3zM216 226h3v1h-3zM222 226h3v1h-3zM228 226h3v1h-3zM234 226h3v1h-3zM240 226h3v1h-3zM246 226h3v1h-3zM252 226h3v1h-3zM258 226h3v1h-3zM264 226h3v1h-3zM270 226h3v1h-3zM276 226h3v1h-3zM282 226h3v1h-3zM288 226h3v1h-3zM294 226h3v1h-3zM300 226h3v1h-3zM306 226h3v1h-3zM312 226h3v1h-3zM318 226h3v1h-3zM324 226h3v1h-3zM330 226h3v1h-3zM336 226h3v1h-3zM342 226h3v1h-3zM348 226h3v1h-3zM354 226h3v1h-3zM360 226h3v1h-3zM366 226h3v1h-3zM372 226h3v1h-3zM378 226h3v1h-3zM384 226h3v1h-3zM390 226h3v1h-3zM396 226h3v1h-3zM402 226h3v1h-3zM408 226h3v1h-3zM414 226h3v1h-3zM420 226h3v1h-3zM426 226h3v1h-3zM432 226h3v1h-3zM438 226h3v1h-3zM444 226h3v1h-3zM450 226h3v1h-3zM456 226h3v1h-3zM462 226h3v1h-3zM468 226h3v1h-3zM474 226h3v1h-3zM480 226h3v1h-3zM486 226h3v1h-3zM492 226h3v1h-3zM498 226h3v1h-3zM504 226h3v1h-3zM510 226h3v1h-3zM516 226h3v1h-3zM522 226h3v1h-3zM528 226h3v1h-3zM534 226h3v1h-3zM540 226h3v1h-3zM546 226h3v1h-3zM552 226h3v1h-3zM558 226h3v1h-3zM564 226h3v1h-3zM570 226h3v1h-3zM576 226h3v1h-3zM582 226h3v1h-3zM588 226h3v1h-3zM594 226h3v1h-3zM600 226h3v1h-3zM606 226h3v1h-3zM612 226h3v1h-3zM618 226h3v1h-3zM624 226h3v1h-3zM630 226h3v1h-3zM636 226h3v1h-3zM642 226h3v1h-3zM648 226h3v1h-3zM654 226h3v1h-3zM660 226h3v1h-3zM666 226h3v1h-3zM672 226h3v1h-3zM678 226h3v1h-3zM684 226h3v1h-3zM690 226h3v1h-3zM696 226h3v1h-3zM702 226h3v1h-3zM708 226h3v1h-3zM714 226h3v1h-3zM720 226h3v1h-3zM726 226h3v1h-3zM732 226h3v1h-3zM738 226h3v1h-3zM744 226h3v1h-3zM750 226h3v1h-3zM756 226h3v1h-3zM762 226h3v1h-3zM768 226h3v1h-3zM774 226h3v1h-3zM780 226h3v1h-3zM786 226h3v1h-3zM792 226h3v1h-3zM798 226h3v1h-3zM804 226h3v1h-3zM810 226h3v1h-3zM816 226h3v1h-3zM822 226h3v1h-3zM828 226h3v1h-3zM834 226h3v1h-3zM840 226h3v1h-3zM846 226h3v1h-3zM852 226h3v1h-3zM858 226h3v1h-3zM864 226h3v1h-3zM870 226h3v1h-3zM876 226h3v1h-3zM882 226h3v1h-3zM888 226h3v1h-3zM894 226h3v1h-3zM900 226h3v1h-3zM906 226h3v1h-3zM912 226h3v1h-3zM918 226h3v1h-3zM924 226h3v1h-3zM930 226h3v1h-3zM936 226h3v1h-3zM942 226h3v1h-3zM948 226h3v1h-3zM954 226h3v1h-3zM960 226h3v1h-3zM966 226h3v1h-3zM972 226h3v1h-3zM978 226h3v1h-3zM984 226h3v1h-3zM990 226h3v1h-3zM996 226h3v1h-3zM1002 226h3v1h-3zM1008 226h3v1h-3zM1014 226h3v1h-3zM1020 226h3v1h-3zM1026 226h3v1h-3zM1032 226h3v1h-3zM1038 226h3v1h-3zM1044 226h3v1h-3zM1050 226h3v1h-3zM1056 226h3v1h-3zM1062 226h3v1h-3zM1068 226h3v1h-3zM1074 226h3v1h-3zM1080 226h3v1h-3zM1086 226h3v1h-3zM1092 226h3v1h-3zM1098 226h3v1h-3zM1104 226h3v1h-3zM1110 226h3v1h-3zM1116 226h3v1h-3zM1122 226h3v1h-3zM1128 226h3v1h-3zM1134 226h3v1h-3zM1140 226h3v1h-3zM1146 226h3v1h-3zM1152 226h3v1h-3zM1158 226h3v1h-3zM1164 226h3v1h-3zM1170 226h3v1h-3zM1176 226h3v1h-3zM1182 226h3v1h-3zM1188 226h3v1h-3zM1194 226h3v1h-3zM1200 226h3v1h-3zM1206 226h3v1h-3zM1212 226h3v1h-3zM1218 226h3v1h-3zM1224 226h3v1h-3zM1230 226h3v1h-3zM1236 226h3v1h-3zM1242 226h3v1h-3zM1248 226h3v1h-3zM1254 226h3v1h-3zM1260 226h3v1h-3zM1266 226h3v1h-3zM1272 226h3v1h-3zM1278 226h3v1h-3zM1284 226h3v1h-3zM1290 226h3v1h-3zM1296 226h3v1h-3zM1302 226h3v1h-3zM1308 226h3v1h-3zM1314 226h3v1h-3zM1320 226h3v1h-3zM1326 226h3v1h-3zM1332 226h3v1h-3zM1338 226h3v1h-3zM1344 226h3v1h-3zM1350 226h3v1h-3zM1356 226h3v1h-3zM1362 226h3v1h-3zM1368 226h3v1h-3zM1374 226h3v1h-3zM1380 226h3v1h-3zM1386 226h3v1h-3zM1392 226h3v1h-3zM1398 226h3v1h-3zM1404 226h3v1h-3zM1410 226h3v1h-3zM1416 226h3v1h-3zM1422 226h3v1h-3zM1428 226h3v1h-3zM1434 226h3v1h-3zM1440 226h3v1h-3zM1446 226h3v1h-3zM1452 226h3v1h-3zM1458 226h3v1h-3zM1464 226h3v1h-3zM1470 226h3v1h-3zM1476 226h3v1h-3zM1482 226h3v1h-3zM1488 226h3v1h-3zM1494 226h3v1h-3zM1500 226h3v1h-3zM1506 226h3v1h-3zM1512 226h3v1h-3zM1518 226h3v1h-3zM1524 226h3v1h-3zM1530 226h3v1h-3zM1536 226h3v1h-3zM1542 226h3v1h-3zM1548 226h3v1h-3zM1554 226h3v1h-3zM1560 226h3v1h-3zM1566 226h3v1h-3zM1572 226h3v1h-3zM1578 226h3v1h-3zM1584 226h3v1h-3zM1590 226h3v1h-3zM1596 226h3v1h-3zM1602 226h3v1h-3zM1608 226h3v1h-3zM1614 226h3v1h-3zM1620 226h2v1h-2zM6 259h3v1h-3zM12 259h3v1h-3zM18 259h3v1h-3zM24 259h3v1h-3zM30 259h3v1h-3zM36 259h3v1h-3zM42 259h3v1h-3zM48 259h3v1h-3zM54 259h3v1h-3zM60 259h3v1h-3zM66 259h3v1h-3zM72 259h3v1h-3zM78 259h3v1h-3zM84 259h3v1h-3zM90 259h3v1h-3zM96 259h3v1h-3zM102 259h3v1h-3zM108 259h3v1h-3zM114 259h3v1h-3zM120 259h3v1h-3zM126 259h3v1h-3zM132 259h3v1h-3zM138 259h3v1h-3zM144 259h3v1h-3zM150 259h3v1h-3zM156 259h3v1h-3zM162 259h3v1h-3zM168 259h3v1h-3zM174 259h3v1h-3zM180 259h3v1h-3zM186 259h3v1h-3zM192 259h3v1h-3zM198 259h3v1h-3zM204 259h3v1h-3zM210 259h3v1h-3zM216 259h3v1h-3zM222 259h3v1h-3zM228 259h3v1h-3zM234 259h3v1h-3zM240 259h3v1h-3zM246 259h3v1h-3zM252 259h3v1h-3zM258 259h3v1h-3zM264 259h3v1h-3zM270 259h3v1h-3zM276 259h3v1h-3zM282 259h3v1h-3zM288 259h3v1h-3zM294 259h3v1h-3zM300 259h3v1h-3zM306 259h3v1h-3zM312 259h3v1h-3zM318 259h3v1h-3zM324 259h3v1h-3zM330 259h3v1h-3zM336 259h3v1h-3zM342 259h3v1h-3zM348 259h3v1h-3zM354 259h3v1h-3zM360 259h3v1h-3zM366 259h3v1h-3zM372 259h3v1h-3zM378 259h3v1h-3zM384 259h3v1h-3zM390 259h3v1h-3zM396 259h3v1h-3zM402 259h3v1h-3zM408 259h3v1h-3zM414 259h3v1h-3zM420 259h3v1h-3zM426 259h3v1h-3zM432 259h3v1h-3zM438 259h3v1h-3zM444 259h3v1h-3zM450 259h3v1h-3zM456 259h3v1h-3zM462 259h3v1h-3zM468 259h3v1h-3zM474 259h3v1h-3zM480 259h3v1h-3zM486 259h3v1h-3zM492 259h3v1h-3zM498 259h3v1h-3zM504 259h3v1h-3zM510 259h3v1h-3zM516 259h3v1h-3zM522 259h3v1h-3zM528 259h3v1h-3zM534 259h3v1h-3zM540 259h3v1h-3zM546 259h3v1h-3zM552 259h3v1h-3zM558 259h3v1h-3zM564 259h3v1h-3zM570 259h3v1h-3zM576 259h3v1h-3zM582 259h3v1h-3zM588 259h3v1h-3zM594 259h3v1h-3zM600 259h3v1h-3zM606 259h3v1h-3zM612 259h3v1h-3zM618 259h3v1h-3zM624 259h3v1h-3zM630 259h3v1h-3zM636 259h3v1h-3zM642 259h3v1h-3zM648 259h3v1h-3zM654 259h3v1h-3zM660 259h3v1h-3zM666 259h3v1h-3zM672 259h3v1h-3zM678 259h3v1h-3zM684 259h3v1h-3zM690 259h3v1h-3zM696 259h3v1h-3zM702 259h3v1h-3zM708 259h3v1h-3zM714 259h3v1h-3zM720 259h3v1h-3zM726 259h3v1h-3zM732 259h3v1h-3zM738 259h3v1h-3zM744 259h3v1h-3zM750 259h3v1h-3zM756 259h3v1h-3zM762 259h3v1h-3zM768 259h3v1h-3zM774 259h3v1h-3zM780 259h3v1h-3zM786 259h3v1h-3zM792 259h3v1h-3zM798 259h3v1h-3zM804 259h3v1h-3zM810 259h3v1h-3zM816 259h3v1h-3zM822 259h3v1h-3zM828 259h3v1h-3zM834 259h3v1h-3zM840 259h3v1h-3zM846 259h3v1h-3zM852 259h3v1h-3zM858 259h3v1h-3zM864 259h3v1h-3zM870 259h3v1h-3zM876 259h3v1h-3zM882 259h3v1h-3zM888 259h3v1h-3zM894 259h3v1h-3zM900 259h3v1h-3zM906 259h3v1h-3zM912 259h3v1h-3zM918 259h3v1h-3zM924 259h3v1h-3zM930 259h3v1h-3zM936 259h3v1h-3zM942 259h3v1h-3zM948 259h3v1h-3zM954 259h3v1h-3zM960 259h3v1h-3zM966 259h3v1h-3zM972 259h3v1h-3zM978 259h3v1h-3zM984 259h3v1h-3zM990 259h3v1h-3zM996 259h3v1h-3zM1002 259h3v1h-3zM1008 259h3v1h-3zM1014 259h3v1h-3zM1020 259h3v1h-3zM1026 259h3v1h-3zM1032 259h3v1h-3zM1038 259h3v1h-3zM1044 259h3v1h-3zM1050 259h3v1h-3zM1056 259h3v1h-3zM1062 259h3v1h-3zM1068 259h3v1h-3zM1074 259h3v1h-3zM1080 259h3v1h-3zM1086 259h3v1h-3zM1092 259h3v1h-3zM1098 259h3v1h-3zM1104 259h3v1h-3zM1110 259h3v1h-3zM1116 259h3v1h-3zM1122 259h3v1h-3zM1128 259h3v1h-3zM1134 259h3v1h-3zM1140 259h3v1h-3zM1146 259h3v1h-3zM1152 259h3v1h-3zM1158 259h3v1h-3zM1164 259h3v1h-3zM1170 259h3v1h-3zM1176 259h3v1h-3zM1182 259h3v1h-3zM1188 259h3v1h-3zM1194 259h3v1h-3zM1200 259h3v1h-3zM1206 259h3v1h-3zM1212 259h3v1h-3zM1218 259h3v1h-3zM1224 259h3v1h-3zM1230 259h3v1h-3zM1236 259h3v1h-3zM1242 259h3v1h-3zM1248 259h3v1h-3zM1254 259h3v1h-3zM1260 259h3v1h-3zM1266 259h3v1h-3zM1272 259h3v1h-3zM1278 259h3v1h-3zM1284 259h3v1h-3zM1290 259h3v1h-3zM1296 259h3v1h-3zM1302 259h3v1h-3zM1308 259h3v1h-3zM1314 259h3v1h-3zM1320 259h3v1h-3zM1326 259h3v1h-3zM1332 259h3v1h-3zM1338 259h3v1h-3zM1344 259h3v1h-3zM1350 259h3v1h-3zM1356 259h3v1h-3zM1362 259h3v1h-3zM1368 259h3v1h-3zM1374 259h3v1h-3zM1380 259h3v1h-3zM1386 259h3v1h-3zM1392 259h3v1h-3zM1398 259h3v1h-3zM1404 259h3v1h-3zM1410 259h3v1h-3zM1416 259h3v1h-3zM1422 259h3v1h-3zM1428 259h3v1h-3zM1434 259h3v1h-3zM1440 259h3v1h-3zM1446 259h3v1h-3zM1452 259h3v1h-3zM1458 259h3v1h-3zM1464 259h3v1h-3zM1470 259h3v1h-3zM1476 259h3v1h-3zM1482 259h3v1h-3zM1488 259h3v1h-3zM1494 259h3v1h-3zM1500 259h3v1h-3zM1506 259h3v1h-3zM1512 259h3v1h-3zM1518 259h3v1h-3zM1524 259h3v1h-3zM1530 259h3v1h-3zM1536 259h3v1h-3zM1542 259h3v1h-3zM1548 259h3v1h-3zM1554 259h3v1h-3zM1560 259h3v1h-3zM1566 259h3v1h-3zM1572 259h3v1h-3zM1578 259h3v1h-3zM1584 259h3v1h-3zM1590 259h3v1h-3zM1596 259h3v1h-3zM1602 259h3v1h-3zM1608 259h3v1h-3zM1614 259h3v1h-3zM1620 259h2v1h-2zM6 292h3v1h-3zM12 292h3v1h-3zM18 292h3v1h-3zM24 292h3v1h-3zM30 292h3v1h-3zM36 292h3v1h-3zM42 292h3v1h-3zM48 292h3v1h-3zM54 292h3v1h-3zM60 292h3v1h-3zM66 292h3v1h-3zM72 292h3v1h-3zM78 292h3v1h-3zM84 292h3v1h-3zM90 292h3v1h-3zM96 292h3v1h-3zM102 292h3v1h-3zM108 292h3v1h-3zM114 292h3v1h-3zM120 292h3v1h-3zM126 292h3v1h-3zM132 292h3v1h-3zM138 292h3v1h-3zM144 292h3v1h-3zM150 292h3v1h-3zM156 292h3v1h-3zM162 292h3v1h-3zM168 292h3v1h-3zM174 292h3v1h-3zM180 292h3v1h-3zM186 292h3v1h-3zM192 292h3v1h-3zM198 292h3v1h-3zM204 292h3v1h-3zM210 292h3v1h-3zM216 292h3v1h-3zM222 292h3v1h-3zM228 292h3v1h-3zM234 292h3v1h-3zM240 292h3v1h-3zM246 292h3v1h-3zM252 292h3v1h-3zM258 292h3v1h-3zM264 292h3v1h-3zM270 292h3v1h-3zM276 292h3v1h-3zM282 292h3v1h-3zM288 292h3v1h-3zM294 292h3v1h-3zM300 292h3v1h-3zM306 292h3v1h-3zM312 292h3v1h-3zM318 292h3v1h-3zM324 292h3v1h-3zM330 292h3v1h-3zM336 292h3v1h-3zM342 292h3v1h-3zM348 292h3v1h-3zM354 292h3v1h-3zM360 292h3v1h-3zM366 292h3v1h-3zM372 292h3v1h-3zM378 292h3v1h-3zM384 292h3v1h-3zM390 292h3v1h-3zM396 292h3v1h-3zM402 292h3v1h-3zM408 292h3v1h-3zM414 292h3v1h-3zM420 292h3v1h-3zM426 292h3v1h-3zM432 292h3v1h-3zM438 292h3v1h-3zM444 292h3v1h-3zM450 292h3v1h-3zM456 292h3v1h-3zM462 292h3v1h-3zM468 292h3v1h-3zM474 292h3v1h-3zM480 292h3v1h-3zM486 292h3v1h-3zM492 292h3v1h-3zM498 292h3v1h-3zM504 292h3v1h-3zM510 292h3v1h-3zM516 292h3v1h-3zM522 292h3v1h-3zM528 292h3v1h-3zM534 292h3v1h-3zM540 292h3v1h-3zM546 292h3v1h-3zM552 292h3v1h-3zM558 292h3v1h-3zM564 292h3v1h-3zM570 292h3v1h-3zM576 292h3v1h-3zM582 292h3v1h-3zM588 292h3v1h-3zM594 292h3v1h-3zM600 292h3v1h-3zM606 292h3v1h-3zM612 292h3v1h-3zM618 292h3v1h-3zM624 292h3v1h-3zM630 292h3v1h-3zM636 292h3v1h-3zM642 292h3v1h-3zM648 292h3v1h-3zM654 292h3v1h-3zM660 292h3v1h-3zM666 292h3v1h-3zM672 292h3v1h-3zM678 292h3v1h-3zM684 292h3v1h-3zM690 292h3v1h-3zM696 292h3v1h-3zM702 292h3v1h-3zM708 292h3v1h-3zM714 292h3v1h-3zM720 292h3v1h-3zM726 292h3v1h-3zM732 292h3v1h-3zM738 292h3v1h-3zM744 292h3v1h-3zM750 292h3v1h-3zM756 292h3v1h-3zM762 292h3v1h-3zM768 292h3v1h-3zM774 292h3v1h-3zM780 292h3v1h-3zM786 292h3v1h-3zM792 292h3v1h-3zM798 292h3v1h-3zM804 292h3v1h-3zM810 292h3v1h-3zM816 292h3v1h-3zM822 292h3v1h-3zM828 292h3v1h-3zM834 292h3v1h-3zM840 292h3v1h-3zM846 292h3v1h-3zM852 292h3v1h-3zM858 292h3v1h-3zM864 292h3v1h-3zM870 292h3v1h-3zM876 292h3v1h-3zM882 292h3v1h-3zM888 292h3v1h-3zM894 292h3v1h-3zM900 292h3v1h-3zM906 292h3v1h-3zM912 292h3v1h-3zM918 292h3v1h-3zM924 292h3v1h-3zM930 292h3v1h-3zM936 292h3v1h-3zM942 292h3v1h-3zM948 292h3v1h-3zM954 292h3v1h-3zM960 292h3v1h-3zM966 292h3v1h-3zM972 292h3v1h-3zM978 292h3v1h-3zM984 292h3v1h-3zM990 292h3v1h-3zM996 292h3v1h-3zM1002 292h3v1h-3zM1008 292h3v1h-3zM1014 292h3v1h-3zM1020 292h3v1h-3zM1026 292h3v1h-3zM1032 292h3v1h-3zM1038 292h3v1h-3zM1044 292h3v1h-3zM1050 292h3v1h-3zM1056 292h3v1h-3zM1062 292h3v1h-3zM1068 292h3v1h-3zM1074 292h3v1h-3zM1080 292h3v1h-3zM1086 292h3v1h-3zM1092 292h3v1h-3zM1098 292h3v1h-3zM1104 292h3v1h-3zM1110 292h3v1h-3zM1116 292h3v1h-3zM1122 292h3v1h-3zM1128 292h3v1h-3zM1134 292h3v1h-3zM1140 292h3v1h-3zM1146 292h3v1h-3zM1152 292h3v1h-3zM1158 292h3v1h-3zM1164 292h3v1h-3zM1170 292h3v1h-3zM1176 292h3v1h-3zM1182 292h3v1h-3zM1188 292h3v1h-3zM1194 292h3v1h-3zM1200 292h3v1h-3zM1206 292h3v1h-3zM1212 292h3v1h-3zM1218 292h3v1h-3zM1224 292h3v1h-3zM1230 292h3v1h-3zM1236 292h3v1h-3zM1242 292h3v1h-3zM1248 292h3v1h-3zM1254 292h3v1h-3zM1260 292h3v1h-3zM1266 292h3v1h-3zM1272 292h3v1h-3zM1278 292h3v1h-3zM1284 292h3v1h-3zM1290 292h3v1h-3zM1296 292h3v1h-3zM1302 292h3v1h-3zM1308 292h3v1h-3zM1314 292h3v1h-3zM1320 292h3v1h-3zM1326 292h3v1h-3zM1332 292h3v1h-3zM1338 292h3v1h-3zM1344 292h3v1h-3zM1350 292h3v1h-3zM1356 292h3v1h-3zM1362 292h3v1h-3zM1368 292h3v1h-3zM1374 292h3v1h-3zM1380 292h3v1h-3zM1386 292h3v1h-3zM1392 292h3v1h-3zM1398 292h3v1h-3zM1404 292h3v1h-3zM1410 292h3v1h-3zM1416 292h3v1h-3zM1422 292h3v1h-3zM1428 292h3v1h-3zM1434 292h3v1h-3zM1440 292h3v1h-3zM1446 292h3v1h-3zM1452 292h3v1h-3zM1458 292h3v1h-3zM1464 292h3v1h-3zM1470 292h3v1h-3zM1476 292h3v1h-3zM1482 292h3v1h-3zM1488 292h3v1h-3zM1494 292h3v1h-3zM1500 292h3v1h-3zM1506 292h3v1h-3zM1512 292h3v1h-3zM1518 292h3v1h-3zM1524 292h3v1h-3zM1530 292h3v1h-3zM1536 292h3v1h-3zM1542 292h3v1h-3zM1548 292h3v1h-3zM1554 292h3v1h-3zM1560 292h3v1h-3zM1566 292h3v1h-3zM1572 292h3v1h-3zM1578 292h3v1h-3zM1584 292h3v1h-3zM1590 292h3v1h-3zM1596 292h3v1h-3zM1602 292h3v1h-3zM1608 292h3v1h-3zM1614 292h3v1h-3zM1620 292h2v1h-2zM6 325h3v1h-3zM12 325h3v1h-3zM18 325h3v1h-3zM24 325h3v1h-3zM30 325h3v1h-3zM36 325h3v1h-3zM42 325h3v1h-3zM48 325h3v1h-3zM54 325h3v1h-3zM60 325h3v1h-3zM66 325h3v1h-3zM72 325h3v1h-3zM78 325h3v1h-3zM84 325h3v1h-3zM90 325h3v1h-3zM96 325h3v1h-3zM102 325h3v1h-3zM108 325h3v1h-3zM114 325h3v1h-3zM120 325h3v1h-3zM126 325h3v1h-3zM132 325h3v1h-3zM138 325h3v1h-3zM144 325h3v1h-3zM150 325h3v1h-3zM156 325h3v1h-3zM162 325h3v1h-3zM168 325h3v1h-3zM174 325h3v1h-3zM180 325h3v1h-3zM186 325h3v1h-3zM192 325h3v1h-3zM198 325h3v1h-3zM204 325h3v1h-3zM210 325h3v1h-3zM216 325h3v1h-3zM222 325h3v1h-3zM228 325h3v1h-3zM234 325h3v1h-3zM240 325h3v1h-3zM246 325h3v1h-3zM252 325h3v1h-3zM258 325h3v1h-3zM264 325h3v1h-3zM270 325h3v1h-3zM276 325h3v1h-3zM282 325h3v1h-3zM288 325h3v1h-3zM294 325h3v1h-3zM300 325h3v1h-3zM306 325h3v1h-3zM312 325h3v1h-3zM318 325h3v1h-3zM324 325h3v1h-3zM330 325h3v1h-3zM336 325h3v1h-3zM342 325h3v1h-3zM348 325h3v1h-3zM354 325h3v1h-3zM360 325h3v1h-3zM366 325h3v1h-3zM372 325h3v1h-3zM378 325h3v1h-3zM384 325h3v1h-3zM390 325h3v1h-3zM396 325h3v1h-3zM402 325h3v1h-3zM408 325h3v1h-3zM414 325h3v1h-3zM420 325h3v1h-3zM426 325h3v1h-3zM432 325h3v1h-3zM438 325h3v1h-3zM444 325h3v1h-3zM450 325h3v1h-3zM456 325h3v1h-3zM462 325h3v1h-3zM468 325h3v1h-3zM474 325h3v1h-3zM480 325h3v1h-3zM486 325h3v1h-3zM492 325h3v1h-3zM498 325h3v1h-3zM504 325h3v1h-3zM510 325h3v1h-3zM516 325h3v1h-3zM522 325h3v1h-3zM528 325h3v1h-3zM534 325h3v1h-3zM540 325h3v1h-3zM546 325h3v1h-3zM552 325h3v1h-3zM558 325h3v1h-3zM564 325h3v1h-3zM570 325h3v1h-3zM576 325h3v1h-3zM582 325h3v1h-3zM588 325h3v1h-3zM594 325h3v1h-3zM600 325h3v1h-3zM606 325h3v1h-3zM612 325h3v1h-3zM618 325h3v1h-3zM624 325h3v1h-3zM630 325h3v1h-3zM636 325h3v1h-3zM642 325h3v1h-3zM648 325h3v1h-3zM654 325h3v1h-3zM660 325h3v1h-3zM666 325h3v1h-3zM672 325h3v1h-3zM678 325h3v1h-3zM684 325h3v1h-3zM690 325h3v1h-3zM696 325h3v1h-3zM702 325h3v1h-3zM708 325h3v1h-3zM714 325h3v1h-3zM720 325h3v1h-3zM726 325h3v1h-3zM732 325h3v1h-3zM738 325h3v1h-3zM744 325h3v1h-3zM750 325h3v1h-3zM756 325h3v1h-3zM762 325h3v1h-3zM768 325h3v1h-3zM774 325h3v1h-3zM780 325h3v1h-3zM786 325h3v1h-3zM792 325h3v1h-3zM798 325h3v1h-3zM804 325h3v1h-3zM810 325h3v1h-3zM816 325h3v1h-3zM822 325h3v1h-3zM828 325h3v1h-3zM834 325h3v1h-3zM840 325h3v1h-3zM846 325h3v1h-3zM852 325h3v1h-3zM858 325h3v1h-3zM864 325h3v1h-3zM870 325h3v1h-3zM876 325h3v1h-3zM882 325h3v1h-3zM888 325h3v1h-3zM894 325h3v1h-3zM900 325h3v1h-3zM906 325h3v1h-3zM912 325h3v1h-3zM918 325h3v1h-3zM924 325h3v1h-3zM930 325h3v1h-3zM936 325h3v1h-3zM942 325h3v1h-3zM948 325h3v1h-3zM954 325h3v1h-3zM960 325h3v1h-3zM966 325h3v1h-3zM972 325h3v1h-3zM978 325h3v1h-3zM984 325h3v1h-3zM990 325h3v1h-3zM996 325h3v1h-3zM1002 325h3v1h-3zM1008 325h3v1h-3zM1014 325h3v1h-3zM1020 325h3v1h-3zM1026 325h3v1h-3zM1032 325h3v1h-3zM1038 325h3v1h-3zM1044 325h3v1h-3zM1050 325h3v1h-3zM1056 325h3v1h-3zM1062 325h3v1h-3zM1068 325h3v1h-3zM1074 325h3v1h-3zM1080 325h3v1h-3zM1086 325h3v1h-3zM1092 325h3v1h-3zM1098 325h3v1h-3zM1104 325h3v1h-3zM1110 325h3v1h-3zM1116 325h3v1h-3zM1122 325h3v1h-3zM1128 325h3v1h-3zM1134 325h3v1h-3zM1140 325h3v1h-3zM1146 325h3v1h-3zM1152 325h3v1h-3zM1158 325h3v1h-3zM1164 325h3v1h-3zM1170 325h3v1h-3zM1176 325h3v1h-3zM1182 325h3v1h-3zM1188 325h3v1h-3zM1194 325h3v1h-3zM1200 325h3v1h-3zM1206 325h3v1h-3zM1212 325h3v1h-3zM1218 325h3v1h-3zM1224 325h3v1h-3zM1230 325h3v1h-3zM1236 325h3v1h-3zM1242 325h3v1h-3zM1248 325h3v1h-3zM1254 325h3v1h-3zM1260 325h3v1h-3zM1266 325h3v1h-3zM1272 325h3v1h-3zM1278 325h3v1h-3zM1284 325h3v1h-3zM1290 325h3v1h-3zM1296 325h3v1h-3zM1302 325h3v1h-3zM1308 325h3v1h-3zM1314 325h3v1h-3zM1320 325h3v1h-3zM1326 325h3v1h-3zM1332 325h3v1h-3zM1338 325h3v1h-3zM1344 325h3v1h-3zM1350 325h3v1h-3zM1356 325h3v1h-3zM1362 325h3v1h-3zM1368 325h3v1h-3zM1374 325h3v1h-3zM1380 325h3v1h-3zM1386 325h3v1h-3zM1392 325h3v1h-3zM1398 325h3v1h-3zM1404 325h3v1h-3zM1410 325h3v1h-3zM1416 325h3v1h-3zM1422 325h3v1h-3zM1428 325h3v1h-3zM1434 325h3v1h-3zM1440 325h3v1h-3zM1446 325h3v1h-3zM1452 325h3v1h-3zM1458 325h3v1h-3zM1464 325h3v1h-3zM1470 325h3v1h-3zM1476 325h3v1h-3zM1482 325h3v1h-3zM1488 325h3v1h-3zM1494 325h3v1h-3zM1500 325h3v1h-3zM1506 325h3v1h-3zM1512 325h3v1h-3zM1518 325h3v1h-3zM1524 325h3v1h-3zM1530 325h3v1h-3zM1536 325h3v1h-3zM1542 325h3v1h-3zM1548 325h3v1h-3zM1554 325h3v1h-3zM1560 325h3v1h-3zM1566 325h3v1h-3zM1572 325h3v1h-3zM1578 325h3v1h-3zM1584 325h3v1h-3zM1590 325h3v1h-3zM1596 325h3v1h-3zM1602 325h3v1h-3zM1608 325h3v1h-3zM1614 325h3v1h-3zM1620 325h2v1h-2zM6 358h3v1h-3zM12 358h3v1h-3zM18 358h3v1h-3zM24 358h3v1h-3zM30 358h3v1h-3zM36 358h3v1h-3zM42 358h3v1h-3zM48 358h3v1h-3zM54 358h3v1h-3zM60 358h3v1h-3zM66 358h3v1h-3zM72 358h3v1h-3zM78 358h3v1h-3zM84 358h3v1h-3zM90 358h3v1h-3zM96 358h3v1h-3zM102 358h3v1h-3zM108 358h3v1h-3zM114 358h3v1h-3zM120 358h3v1h-3zM126 358h3v1h-3zM132 358h3v1h-3zM138 358h3v1h-3zM144 358h3v1h-3zM150 358h3v1h-3zM156 358h3v1h-3zM162 358h3v1h-3zM168 358h3v1h-3zM174 358h3v1h-3zM180 358h3v1h-3zM186 358h3v1h-3zM192 358h3v1h-3zM198 358h3v1h-3zM204 358h3v1h-3zM210 358h3v1h-3zM216 358h3v1h-3zM222 358h3v1h-3zM228 358h3v1h-3zM234 358h3v1h-3zM240 358h3v1h-3zM246 358h3v1h-3zM252 358h3v1h-3zM258 358h3v1h-3zM264 358h3v1h-3zM270 358h3v1h-3zM276 358h3v1h-3zM282 358h3v1h-3zM288 358h3v1h-3zM294 358h3v1h-3zM300 358h3v1h-3zM306 358h3v1h-3zM312 358h3v1h-3zM318 358h3v1h-3zM324 358h3v1h-3zM330 358h3v1h-3zM336 358h3v1h-3zM342 358h3v1h-3zM348 358h3v1h-3zM354 358h3v1h-3zM360 358h3v1h-3zM366 358h3v1h-3zM372 358h3v1h-3zM378 358h3v1h-3zM384 358h3v1h-3zM390 358h3v1h-3zM396 358h3v1h-3zM402 358h3v1h-3zM408 358h3v1h-3zM414 358h3v1h-3zM420 358h3v1h-3zM426 358h3v1h-3zM432 358h3v1h-3zM438 358h3v1h-3zM444 358h3v1h-3zM450 358h3v1h-3zM456 358h3v1h-3zM462 358h3v1h-3zM468 358h3v1h-3zM474 358h3v1h-3zM480 358h3v1h-3zM486 358h3v1h-3zM492 358h3v1h-3zM498 358h3v1h-3zM504 358h3v1h-3zM510 358h3v1h-3zM516 358h3v1h-3zM522 358h3v1h-3zM528 358h3v1h-3zM534 358h3v1h-3zM540 358h3v1h-3zM546 358h3v1h-3zM552 358h3v1h-3zM558 358h3v1h-3zM564 358h3v1h-3zM570 358h3v1h-3zM576 358h3v1h-3zM582 358h3v1h-3zM588 358h3v1h-3zM594 358h3v1h-3zM600 358h3v1h-3zM606 358h3v1h-3zM612 358h3v1h-3zM618 358h3v1h-3zM624 358h3v1h-3zM630 358h3v1h-3zM636 358h3v1h-3zM642 358h3v1h-3zM648 358h3v1h-3zM654 358h3v1h-3zM660 358h3v1h-3zM666 358h3v1h-3zM672 358h3v1h-3zM678 358h3v1h-3zM684 358h3v1h-3zM690 358h3v1h-3zM696 358h3v1h-3zM702 358h3v1h-3zM708 358h3v1h-3zM714 358h3v1h-3zM720 358h3v1h-3zM726 358h3v1h-3zM732 358h3v1h-3zM738 358h3v1h-3zM744 358h3v1h-3zM750 358h3v1h-3zM756 358h3v1h-3zM762 358h3v1h-3zM768 358h3v1h-3zM774 358h3v1h-3zM780 358h3v1h-3zM786 358h3v1h-3zM792 358h3v1h-3zM798 358h3v1h-3zM804 358h3v1h-3zM810 358h3v1h-3zM816 358h3v1h-3zM822 358h3v1h-3zM828 358h3v1h-3zM834 358h3v1h-3zM840 358h3v1h-3zM846 358h3v1h-3zM852 358h3v1h-3zM858 358h3v1h-3zM864 358h3v1h-3zM870 358h3v1h-3zM876 358h3v1h-3zM882 358h3v1h-3zM888 358h3v1h-3zM894 358h3v1h-3zM900 358h3v1h-3zM906 358h3v1h-3zM912 358h3v1h-3zM918 358h3v1h-3zM924 358h3v1h-3zM930 358h3v1h-3zM936 358h3v1h-3zM942 358h3v1h-3zM948 358h3v1h-3zM954 358h3v1h-3zM960 358h3v1h-3zM966 358h3v1h-3zM972 358h3v1h-3zM978 358h3v1h-3zM984 358h3v1h-3zM990 358h3v1h-3zM996 358h3v1h-3zM1002 358h3v1h-3zM1008 358h3v1h-3zM1014 358h3v1h-3zM1020 358h3v1h-3zM1026 358h3v1h-3zM1032 358h3v1h-3zM1038 358h3v1h-3zM1044 358h3v1h-3zM1050 358h3v1h-3zM1056 358h3v1h-3zM1062 358h3v1h-3zM1068 358h3v1h-3zM1074 358h3v1h-3zM1080 358h3v1h-3zM1086 358h3v1h-3zM1092 358h3v1h-3zM1098 358h3v1h-3zM1104 358h3v1h-3zM1110 358h3v1h-3zM1116 358h3v1h-3zM1122 358h3v1h-3zM1128 358h3v1h-3zM1134 358h3v1h-3zM1140 358h3v1h-3zM1146 358h3v1h-3zM1152 358h3v1h-3zM1158 358h3v1h-3zM1164 358h3v1h-3zM1170 358h3v1h-3zM1176 358h3v1h-3zM1182 358h3v1h-3zM1188 358h3v1h-3zM1194 358h3v1h-3zM1200 358h3v1h-3zM1206 358h3v1h-3zM1212 358h3v1h-3zM1218 358h3v1h-3zM1224 358h3v1h-3zM1230 358h3v1h-3zM1236 358h3v1h-3zM1242 358h3v1h-3zM1248 358h3v1h-3zM1254 358h3v1h-3zM1260 358h3v1h-3zM1266 358h3v1h-3zM1272 358h3v1h-3zM1278 358h3v1h-3zM1284 358h3v1h-3zM1290 358h3v1h-3zM1296 358h3v1h-3zM1302 358h3v1h-3zM1308 358h3v1h-3zM1314 358h3v1h-3zM1320 358h3v1h-3zM1326 358h3v1h-3zM1332 358h3v1h-3zM1338 358h3v1h-3zM1344 358h3v1h-3zM1350 358h3v1h-3zM1356 358h3v1h-3zM1362 358h3v1h-3zM1368 358h3v1h-3zM1374 358h3v1h-3zM1380 358h3v1h-3zM1386 358h3v1h-3zM1392 358h3v1h-3zM1398 358h3v1h-3zM1404 358h3v1h-3zM1410 358h3v1h-3zM1416 358h3v1h-3zM1422 358h3v1h-3zM1428 358h3v1h-3zM1434 358h3v1h-3zM1440 358h3v1h-3zM1446 358h3v1h-3zM1452 358h3v1h-3zM1458 358h3v1h-3zM1464 358h3v1h-3zM1470 358h3v1h-3zM1476 358h3v1h-3zM1482 358h3v1h-3zM1488 358h3v1h-3zM1494 358h3v1h-3zM1500 358h3v1h-3zM1506 358h3v1h-3zM1512 358h3v1h-3zM1518 358h3v1h-3zM1524 358h3v1h-3zM1530 358h3v1h-3zM1536 358h3v1h-3zM1542 358h3v1h-3zM1548 358h3v1h-3zM1554 358h3v1h-3zM1560 358h3v1h-3zM1566 358h3v1h-3zM1572 358h3v1h-3zM1578 358h3v1h-3zM1584 358h3v1h-3zM1590 358h3v1h-3zM1596 358h3v1h-3zM1602 358h3v1h-3zM1608 358h3v1h-3zM1614 358h3v1h-3zM1620 358h2v1h-2zM6 391h3v1h-3zM12 391h3v1h-3zM18 391h3v1h-3zM24 391h3v1h-3zM30 391h3v1h-3zM36 391h3v1h-3zM42 391h3v1h-3zM48 391h3v1h-3zM54 391h3v1h-3zM60 391h3v1h-3zM66 391h3v1h-3zM72 391h3v1h-3zM78 391h3v1h-3zM84 391h3v1h-3zM90 391h3v1h-3zM96 391h3v1h-3zM102 391h3v1h-3zM108 391h3v1h-3zM114 391h3v1h-3zM120 391h3v1h-3zM126 391h3v1h-3zM132 391h3v1h-3zM138 391h3v1h-3zM144 391h3v1h-3zM150 391h3v1h-3zM156 391h3v1h-3zM162 391h3v1h-3zM168 391h3v1h-3zM174 391h3v1h-3zM180 391h3v1h-3zM186 391h3v1h-3zM192 391h3v1h-3zM198 391h3v1h-3zM204 391h3v1h-3zM210 391h3v1h-3zM216 391h3v1h-3zM222 391h3v1h-3zM228 391h3v1h-3zM234 391h3v1h-3zM240 391h3v1h-3zM246 391h3v1h-3zM252 391h3v1h-3zM258 391h3v1h-3zM264 391h3v1h-3zM270 391h3v1h-3zM276 391h3v1h-3zM282 391h3v1h-3zM288 391h3v1h-3zM294 391h3v1h-3zM300 391h3v1h-3zM306 391h3v1h-3zM312 391h3v1h-3zM318 391h3v1h-3zM324 391h3v1h-3zM330 391h3v1h-3zM336 391h3v1h-3zM342 391h3v1h-3zM348 391h3v1h-3zM354 391h3v1h-3zM360 391h3v1h-3zM366 391h3v1h-3zM372 391h3v1h-3zM378 391h3v1h-3zM384 391h3v1h-3zM390 391h3v1h-3zM396 391h3v1h-3zM402 391h3v1h-3zM408 391h3v1h-3zM414 391h3v1h-3zM420 391h3v1h-3zM426 391h3v1h-3zM432 391h3v1h-3zM438 391h3v1h-3zM444 391h3v1h-3zM450 391h3v1h-3zM456 391h3v1h-3zM462 391h3v1h-3zM468 391h3v1h-3zM474 391h3v1h-3zM480 391h3v1h-3zM486 391h3v1h-3zM492 391h3v1h-3zM498 391h3v1h-3zM504 391h3v1h-3zM510 391h3v1h-3zM516 391h3v1h-3zM522 391h3v1h-3zM528 391h3v1h-3zM534 391h3v1h-3zM540 391h3v1h-3zM546 391h3v1h-3zM552 391h3v1h-3zM558 391h3v1h-3zM564 391h3v1h-3zM570 391h3v1h-3zM576 391h3v1h-3zM582 391h3v1h-3zM588 391h3v1h-3zM594 391h3v1h-3zM600 391h3v1h-3zM606 391h3v1h-3zM612 391h3v1h-3zM618 391h3v1h-3zM624 391h3v1h-3zM630 391h3v1h-3zM636 391h3v1h-3zM642 391h3v1h-3zM648 391h3v1h-3zM654 391h3v1h-3zM660 391h3v1h-3zM666 391h3v1h-3zM672 391h3v1h-3zM678 391h3v1h-3zM684 391h3v1h-3zM690 391h3v1h-3zM696 391h3v1h-3zM702 391h3v1h-3zM708 391h3v1h-3zM714 391h3v1h-3zM720 391h3v1h-3zM726 391h3v1h-3zM732 391h3v1h-3zM738 391h3v1h-3zM744 391h3v1h-3zM750 391h3v1h-3zM756 391h3v1h-3zM762 391h3v1h-3zM768 391h3v1h-3zM774 391h3v1h-3zM780 391h3v1h-3zM786 391h3v1h-3zM792 391h3v1h-3zM798 391h3v1h-3zM804 391h3v1h-3zM810 391h3v1h-3zM816 391h3v1h-3zM822 391h3v1h-3zM828 391h3v1h-3zM834 391h3v1h-3zM840 391h3v1h-3zM846 391h3v1h-3zM852 391h3v1h-3zM858 391h3v1h-3zM864 391h3v1h-3zM870 391h3v1h-3zM876 391h3v1h-3zM882 391h3v1h-3zM888 391h3v1h-3zM894 391h3v1h-3zM900 391h3v1h-3zM906 391h3v1h-3zM912 391h3v1h-3zM918 391h3v1h-3zM924 391h3v1h-3zM930 391h3v1h-3zM936 391h3v1h-3zM942 391h3v1h-3zM948 391h3v1h-3zM954 391h3v1h-3zM960 391h3v1h-3zM966 391h3v1h-3zM972 391h3v1h-3zM978 391h3v1h-3zM984 391h3v1h-3zM990 391h3v1h-3zM996 391h3v1h-3zM1002 391h3v1h-3zM1008 391h3v1h-3zM1014 391h3v1h-3zM1020 391h3v1h-3zM1026 391h3v1h-3zM1032 391h3v1h-3zM1038 391h3v1h-3zM1044 391h3v1h-3zM1050 391h3v1h-3zM1056 391h3v1h-3zM1062 391h3v1h-3zM1068 391h3v1h-3zM1074 391h3v1h-3zM1080 391h3v1h-3zM1086 391h3v1h-3zM1092 391h3v1h-3zM1098 391h3v1h-3zM1104 391h3v1h-3zM1110 391h3v1h-3zM1116 391h3v1h-3zM1122 391h3v1h-3zM1128 391h3v1h-3zM1134 391h3v1h-3zM1140 391h3v1h-3zM1146 391h3v1h-3zM1152 391h3v1h-3zM1158 391h3v1h-3zM1164 391h3v1h-3zM1170 391h3v1h-3zM1176 391h3v1h-3zM1182 391h3v1h-3zM1188 391h3v1h-3zM1194 391h3v1h-3zM1200 391h3v1h-3zM1206 391h3v1h-3zM1212 391h3v1h-3zM1218 391h3v1h-3zM1224 391h3v1h-3zM1230 391h3v1h-3zM1236 391h3v1h-3zM1242 391h3v1h-3zM1248 391h3v1h-3zM1254 391h3v1h-3zM1260 391h3v1h-3zM1266 391h3v1h-3zM1272 391h3v1h-3zM1278 391h3v1h-3zM1284 391h3v1h-3zM1290 391h3v1h-3zM1296 391h3v1h-3zM1302 391h3v1h-3zM1308 391h3v1h-3zM1314 391h3v1h-3zM1320 391h3v1h-3zM1326 391h3v1h-3zM1332 391h3v1h-3zM1338 391h3v1h-3zM1344 391h3v1h-3zM1350 391h3v1h-3zM1356 391h3v1h-3zM1362 391h3v1h-3zM1368 391h3v1h-3zM1374 391h3v1h-3zM1380 391h3v1h-3zM1386 391h3v1h-3zM1392 391h3v1h-3zM1398 391h3v1h-3zM1404 391h3v1h-3zM1410 391h3v1h-3zM1416 391h3v1h-3zM1422 391h3v1h-3zM1428 391h3v1h-3zM1434 391h3v1h-3zM1440 391h3v1h-3zM1446 391h3v1h-3zM1452 391h3v1h-3zM1458 391h3v1h-3zM1464 391h3v1h-3zM1470 391h3v1h-3zM1476 391h3v1h-3zM1482 391h3v1h-3zM1488 391h3v1h-3zM1494 391h3v1h-3zM1500 391h3v1h-3zM1506 391h3v1h-3zM1512 391h3v1h-3zM1518 391h3v1h-3zM1524 391h3v1h-3zM1530 391h3v1h-3zM1536 391h3v1h-3zM1542 391h3v1h-3zM1548 391h3v1h-3zM1554 391h3v1h-3zM1560 391h3v1h-3zM1566 391h3v1h-3zM1572 391h3v1h-3zM1578 391h3v1h-3zM1584 391h3v1h-3zM1590 391h3v1h-3zM1596 391h3v1h-3zM1602 391h3v1h-3zM1608 391h3v1h-3zM1614 391h3v1h-3zM1620 391h2v1h-2zM6 424h3v1h-3zM12 424h3v1h-3zM18 424h3v1h-3zM24 424h3v1h-3zM30 424h3v1h-3zM36 424h3v1h-3zM42 424h3v1h-3zM48 424h3v1h-3zM54 424h3v1h-3zM60 424h3v1h-3zM66 424h3v1h-3zM72 424h3v1h-3zM78 424h3v1h-3zM84 424h3v1h-3zM90 424h3v1h-3zM96 424h3v1h-3zM102 424h3v1h-3zM108 424h3v1h-3zM114 424h3v1h-3zM120 424h3v1h-3zM126 424h3v1h-3zM132 424h3v1h-3zM138 424h3v1h-3zM144 424h3v1h-3zM150 424h3v1h-3zM156 424h3v1h-3zM162 424h3v1h-3zM168 424h3v1h-3zM174 424h3v1h-3zM180 424h3v1h-3zM186 424h3v1h-3zM192 424h3v1h-3zM198 424h3v1h-3zM204 424h3v1h-3zM210 424h3v1h-3zM216 424h3v1h-3zM222 424h3v1h-3zM228 424h3v1h-3zM234 424h3v1h-3zM240 424h3v1h-3zM246 424h3v1h-3zM252 424h3v1h-3zM258 424h3v1h-3zM264 424h3v1h-3zM270 424h3v1h-3zM276 424h3v1h-3zM282 424h3v1h-3zM288 424h3v1h-3zM294 424h3v1h-3zM300 424h3v1h-3zM306 424h3v1h-3zM312 424h3v1h-3zM318 424h3v1h-3zM324 424h3v1h-3zM330 424h3v1h-3zM336 424h3v1h-3zM342 424h3v1h-3zM348 424h3v1h-3zM354 424h3v1h-3zM360 424h3v1h-3zM366 424h3v1h-3zM372 424h3v1h-3zM378 424h3v1h-3zM384 424h3v1h-3zM390 424h3v1h-3zM396 424h3v1h-3zM402 424h3v1h-3zM408 424h3v1h-3zM414 424h3v1h-3zM420 424h3v1h-3zM426 424h3v1h-3zM432 424h3v1h-3zM438 424h3v1h-3zM444 424h3v1h-3zM450 424h3v1h-3zM456 424h3v1h-3zM462 424h3v1h-3zM468 424h3v1h-3zM474 424h3v1h-3zM480 424h3v1h-3zM486 424h3v1h-3zM492 424h3v1h-3zM498 424h3v1h-3zM504 424h3v1h-3zM510 424h3v1h-3zM516 424h3v1h-3zM522 424h3v1h-3zM528 424h3v1h-3zM534 424h3v1h-3zM540 424h3v1h-3zM546 424h3v1h-3zM552 424h3v1h-3zM558 424h3v1h-3zM564 424h3v1h-3zM570 424h3v1h-3zM576 424h3v1h-3zM582 424h3v1h-3zM588 424h3v1h-3zM594 424h3v1h-3zM600 424h3v1h-3zM606 424h3v1h-3zM612 424h3v1h-3zM618 424h3v1h-3zM624 424h3v1h-3zM630 424h3v1h-3zM636 424h3v1h-3zM642 424h3v1h-3zM648 424h3v1h-3zM654 424h3v1h-3zM660 424h3v1h-3zM666 424h3v1h-3zM672 424h3v1h-3zM678 424h3v1h-3zM684 424h3v1h-3zM690 424h3v1h-3zM696 424h3v1h-3zM702 424h3v1h-3zM708 424h3v1h-3zM714 424h3v1h-3zM720 424h3v1h-3zM726 424h3v1h-3zM732 424h3v1h-3zM738 424h3v1h-3zM744 424h3v1h-3zM750 424h3v1h-3zM756 424h3v1h-3zM762 424h3v1h-3zM768 424h3v1h-3zM774 424h3v1h-3zM780 424h3v1h-3zM786 424h3v1h-3zM792 424h3v1h-3zM798 424h3v1h-3zM804 424h3v1h-3zM810 424h3v1h-3zM816 424h3v1h-3zM822 424h3v1h-3zM828 424h3v1h-3zM834 424h3v1h-3zM840 424h3v1h-3zM846 424h3v1h-3zM852 424h3v1h-3zM858 424h3v1h-3zM864 424h3v1h-3zM870 424h3v1h-3zM876 424h3v1h-3zM882 424h3v1h-3zM888 424h3v1h-3zM894 424h3v1h-3zM900 424h3v1h-3zM906 424h3v1h-3zM912 424h3v1h-3zM918 424h3v1h-3zM924 424h3v1h-3zM930 424h3v1h-3zM936 424h3v1h-3zM942 424h3v1h-3zM948 424h3v1h-3zM954 424h3v1h-3zM960 424h3v1h-3zM966 424h3v1h-3zM972 424h3v1h-3zM978 424h3v1h-3zM984 424h3v1h-3zM990 424h3v1h-3zM996 424h3v1h-3zM1002 424h3v1h-3zM1008 424h3v1h-3zM1014 424h3v1h-3zM1020 424h3v1h-3zM1026 424h3v1h-3zM1032 424h3v1h-3zM1038 424h3v1h-3zM1044 424h3v1h-3zM1050 424h3v1h-3zM1056 424h3v1h-3zM1062 424h3v1h-3zM1068 424h3v1h-3zM1074 424h3v1h-3zM1080 424h3v1h-3zM1086 424h3v1h-3zM1092 424h3v1h-3zM1098 424h3v1h-3zM1104 424h3v1h-3zM1110 424h3v1h-3zM1116 424h3v1h-3zM1122 424h3v1h-3zM1128 424h3v1h-3zM1134 424h3v1h-3zM1140 424h3v1h-3zM1146 424h3v1h-3zM1152 424h3v1h-3zM1158 424h3v1h-3zM1164 424h3v1h-3zM1170 424h3v1h-3zM1176 424h3v1h-3zM1182 424h3v1h-3zM1188 424h3v1h-3zM1194 424h3v1h-3zM1200 424h3v1h-3zM1206 424h3v1h-3zM1212 424h3v1h-3zM1218 424h3v1h-3zM1224 424h3v1h-3zM1230 424h3v1h-3zM1236 424h3v1h-3zM1242 424h3v1h-3zM1248 424h3v1h-3zM1254 424h3v1h-3zM1260 424h3v1h-3zM1266 424h3v1h-3zM1272 424h3v1h-3zM1278 424h3v1h-3zM1284 424h3v1h-3zM1290 424h3v1h-3zM1296 424h3v1h-3zM1302 424h3v1h-3zM1308 424h3v1h-3zM1314 424h3v1h-3zM1320 424h3v1h-3zM1326 424h3v1h-3zM1332 424h3v1h-3zM1338 424h3v1h-3zM1344 424h3v1h-3zM1350 424h3v1h-3zM1356 424h3v1h-3zM1362 424h3v1h-3zM1368 424h3v1h-3zM1374 424h3v1h-3zM1380 424h3v1h-3zM1386 424h3v1h-3zM1392 424h3v1h-3zM1398 424h3v1h-3zM1404 424h3v1h-3zM1410 424h3v1h-3zM1416 424h3v1h-3zM1422 424h3v1h-3zM1428 424h3v1h-3zM1434 424h3v1h-3zM1440 424h3v1h-3zM1446 424h3v1h-3zM1452 424h3v1h-3zM1458 424h3v1h-3zM1464 424h3v1h-3zM1470 424h3v1h-3zM1476 424h3v1h-3zM1482 424h3v1h-3zM1488 424h3v1h-3zM1494 424h3v1h-3zM1500 424h3v1h-3zM1506 424h3v1h-3zM1512 424h3v1h-3zM1518 424h3v1h-3zM1524 424h3v1h-3zM1530 424h3v1h-3zM1536 424h3v1h-3zM1542 424h3v1h-3zM1548 424h3v1h-3zM1554 424h3v1h-3zM1560 424h3v1h-3zM1566 424h3v1h-3zM1572 424h3v1h-3zM1578 424h3v1h-3zM1584 424h3v1h-3zM1590 424h3v1h-3zM1596 424h3v1h-3zM1602 424h3v1h-3zM1608 424h3v1h-3zM1614 424h3v1h-3zM1620 424h2v1h-2zM6 457h3v1h-3zM12 457h3v1h-3zM18 457h3v1h-3zM24 457h3v1h-3zM30 457h3v1h-3zM36 457h3v1h-3zM42 457h3v1h-3zM48 457h3v1h-3zM54 457h3v1h-3zM60 457h3v1h-3zM66 457h3v1h-3zM72 457h3v1h-3zM78 457h3v1h-3zM84 457h3v1h-3zM90 457h3v1h-3zM96 457h3v1h-3zM102 457h3v1h-3zM108 457h3v1h-3zM114 457h3v1h-3zM120 457h3v1h-3zM126 457h3v1h-3zM132 457h3v1h-3zM138 457h3v1h-3zM144 457h3v1h-3zM150 457h3v1h-3zM156 457h3v1h-3zM162 457h3v1h-3zM168 457h3v1h-3zM174 457h3v1h-3zM180 457h3v1h-3zM186 457h3v1h-3zM192 457h3v1h-3zM198 457h3v1h-3zM204 457h3v1h-3zM210 457h3v1h-3zM216 457h3v1h-3zM222 457h3v1h-3zM228 457h3v1h-3zM234 457h3v1h-3zM240 457h3v1h-3zM246 457h3v1h-3zM252 457h3v1h-3zM258 457h3v1h-3zM264 457h3v1h-3zM270 457h3v1h-3zM276 457h3v1h-3zM282 457h3v1h-3zM288 457h3v1h-3zM294 457h3v1h-3zM300 457h3v1h-3zM306 457h3v1h-3zM312 457h3v1h-3zM318 457h3v1h-3zM324 457h3v1h-3zM330 457h3v1h-3zM336 457h3v1h-3zM342 457h3v1h-3zM348 457h3v1h-3zM354 457h3v1h-3zM360 457h3v1h-3zM366 457h3v1h-3zM372 457h3v1h-3zM378 457h3v1h-3zM384 457h3v1h-3zM390 457h3v1h-3zM396 457h3v1h-3zM402 457h3v1h-3zM408 457h3v1h-3zM414 457h3v1h-3zM420 457h3v1h-3zM426 457h3v1h-3zM432 457h3v1h-3zM438 457h3v1h-3zM444 457h3v1h-3zM450 457h3v1h-3zM456 457h3v1h-3zM462 457h3v1h-3zM468 457h3v1h-3zM474 457h3v1h-3zM480 457h3v1h-3zM486 457h3v1h-3zM492 457h3v1h-3zM498 457h3v1h-3zM504 457h3v1h-3zM510 457h3v1h-3zM516 457h3v1h-3zM522 457h3v1h-3zM528 457h3v1h-3zM534 457h3v1h-3zM540 457h3v1h-3zM546 457h3v1h-3zM552 457h3v1h-3zM558 457h3v1h-3zM564 457h3v1h-3zM570 457h3v1h-3zM576 457h3v1h-3zM582 457h3v1h-3zM588 457h3v1h-3zM594 457h3v1h-3zM600 457h3v1h-3zM606 457h3v1h-3zM612 457h3v1h-3zM618 457h3v1h-3zM624 457h3v1h-3zM630 457h3v1h-3zM636 457h3v1h-3zM642 457h3v1h-3zM648 457h3v1h-3zM654 457h3v1h-3zM660 457h3v1h-3zM666 457h3v1h-3zM672 457h3v1h-3zM678 457h3v1h-3zM684 457h3v1h-3zM690 457h3v1h-3zM696 457h3v1h-3zM702 457h3v1h-3zM708 457h3v1h-3zM714 457h3v1h-3zM720 457h3v1h-3zM726 457h3v1h-3zM732 457h3v1h-3zM738 457h3v1h-3zM744 457h3v1h-3zM750 457h3v1h-3zM756 457h3v1h-3zM762 457h3v1h-3zM768 457h3v1h-3zM774 457h3v1h-3zM780 457h3v1h-3zM786 457h3v1h-3zM792 457h3v1h-3zM798 457h3v1h-3zM804 457h3v1h-3zM810 457h3v1h-3zM816 457h3v1h-3zM822 457h3v1h-3zM828 457h3v1h-3zM834 457h3v1h-3zM840 457h3v1h-3zM846 457h3v1h-3zM852 457h3v1h-3zM858 457h3v1h-3zM864 457h3v1h-3zM870 457h3v1h-3zM876 457h3v1h-3zM882 457h3v1h-3zM888 457h3v1h-3zM894 457h3v1h-3zM900 457h3v1h-3zM906 457h3v1h-3zM912 457h3v1h-3zM918 457h3v1h-3zM924 457h3v1h-3zM930 457h3v1h-3zM936 457h3v1h-3zM942 457h3v1h-3zM948 457h3v1h-3zM954 457h3v1h-3zM960 457h3v1h-3zM966 457h3v1h-3zM972 457h3v1h-3zM978 457h3v1h-3zM984 457h3v1h-3zM990 457h3v1h-3zM996 457h3v1h-3zM1002 457h3v1h-3zM1008 457h3v1h-3zM1014 457h3v1h-3zM1020 457h3v1h-3zM1026 457h3v1h-3zM1032 457h3v1h-3zM1038 457h3v1h-3zM1044 457h3v1h-3zM1050 457h3v1h-3zM1056 457h3v1h-3zM1062 457h3v1h-3zM1068 457h3v1h-3zM1074 457h3v1h-3zM1080 457h3v1h-3zM1086 457h3v1h-3zM1092 457h3v1h-3zM1098 457h3v1h-3zM1104 457h3v1h-3zM1110 457h3v1h-3zM1116 457h3v1h-3zM1122 457h3v1h-3zM1128 457h3v1h-3zM1134 457h3v1h-3zM1140 457h3v1h-3zM1146 457h3v1h-3zM1152 457h3v1h-3zM1158 457h3v1h-3zM1164 457h3v1h-3zM1170 457h3v1h-3zM1176 457h3v1h-3zM1182 457h3v1h-3zM1188 457h3v1h-3zM1194 457h3v1h-3zM1200 457h3v1h-3zM1206 457h3v1h-3zM1212 457h3v1h-3zM1218 457h3v1h-3zM1224 457h3v1h-3zM1230 457h3v1h-3zM1236 457h3v1h-3zM1242 457h3v1h-3zM1248 457h3v1h-3zM1254 457h3v1h-3zM1260 457h3v1h-3zM1266 457h3v1h-3zM1272 457h3v1h-3zM1278 457h3v1h-3zM1284 457h3v1h-3zM1290 457h3v1h-3zM1296 457h3v1h-3zM1302 457h3v1h-3zM1308 457h3v1h-3zM1314 457h3v1h-3zM1320 457h3v1h-3zM1326 457h3v1h-3zM1332 457h3v1h-3zM1338 457h3v1h-3zM1344 457h3v1h-3zM1350 457h3v1h-3zM1356 457h3v1h-3zM1362 457h3v1h-3zM1368 457h3v1h-3zM1374 457h3v1h-3zM1380 457h3v1h-3zM1386 457h3v1h-3zM1392 457h3v1h-3zM1398 457h3v1h-3zM1404 457h3v1h-3zM1410 457h3v1h-3zM1416 457h3v1h-3zM1422 457h3v1h-3zM1428 457h3v1h-3zM1434 457h3v1h-3zM1440 457h3v1h-3zM1446 457h3v1h-3zM1452 457h3v1h-3zM1458 457h3v1h-3zM1464 457h3v1h-3zM1470 457h3v1h-3zM1476 457h3v1h-3zM1482 457h3v1h-3zM1488 457h3v1h-3zM1494 457h3v1h-3zM1500 457h3v1h-3zM1506 457h3v1h-3zM1512 457h3v1h-3zM1518 457h3v1h-3zM1524 457h3v1h-3zM1530 457h3v1h-3zM1536 457h3v1h-3zM1542 457h3v1h-3zM1548 457h3v1h-3zM1554 457h3v1h-3zM1560 457h3v1h-3zM1566 457h3v1h-3zM1572 457h3v1h-3zM1578 457h3v1h-3zM1584 457h3v1h-3zM1590 457h3v1h-3zM1596 457h3v1h-3zM1602 457h3v1h-3zM1608 457h3v1h-3zM1614 457h3v1h-3zM1620 457h2v1h-2zM6 490h3v1h-3zM12 490h3v1h-3zM18 490h3v1h-3zM24 490h3v1h-3zM30 490h3v1h-3zM36 490h3v1h-3zM42 490h3v1h-3zM48 490h3v1h-3zM54 490h3v1h-3zM60 490h3v1h-3zM66 490h3v1h-3zM72 490h3v1h-3zM78 490h3v1h-3zM84 490h3v1h-3zM90 490h3v1h-3zM96 490h3v1h-3zM102 490h3v1h-3zM108 490h3v1h-3zM114 490h3v1h-3zM120 490h3v1h-3zM126 490h3v1h-3zM132 490h3v1h-3zM138 490h3v1h-3zM144 490h3v1h-3zM150 490h3v1h-3zM156 490h3v1h-3zM162 490h3v1h-3zM168 490h3v1h-3zM174 490h3v1h-3zM180 490h3v1h-3zM186 490h3v1h-3zM192 490h3v1h-3zM198 490h3v1h-3zM204 490h3v1h-3zM210 490h3v1h-3zM216 490h3v1h-3zM222 490h3v1h-3zM228 490h3v1h-3zM234 490h3v1h-3zM240 490h3v1h-3zM246 490h3v1h-3zM252 490h3v1h-3zM258 490h3v1h-3zM264 490h3v1h-3zM270 490h3v1h-3zM276 490h3v1h-3zM282 490h3v1h-3zM288 490h3v1h-3zM294 490h3v1h-3zM300 490h3v1h-3zM306 490h3v1h-3zM312 490h3v1h-3zM318 490h3v1h-3zM324 490h3v1h-3zM330 490h3v1h-3zM336 490h3v1h-3zM342 490h3v1h-3zM348 490h3v1h-3zM354 490h3v1h-3zM360 490h3v1h-3zM366 490h3v1h-3zM372 490h3v1h-3zM378 490h3v1h-3zM384 490h3v1h-3zM390 490h3v1h-3zM396 490h3v1h-3zM402 490h3v1h-3zM408 490h3v1h-3zM414 490h3v1h-3zM420 490h3v1h-3zM426 490h3v1h-3zM432 490h3v1h-3zM438 490h3v1h-3zM444 490h3v1h-3zM450 490h3v1h-3zM456 490h3v1h-3zM462 490h3v1h-3zM468 490h3v1h-3zM474 490h3v1h-3zM480 490h3v1h-3zM486 490h3v1h-3zM492 490h3v1h-3zM498 490h3v1h-3zM504 490h3v1h-3zM510 490h3v1h-3zM516 490h3v1h-3zM522 490h3v1h-3zM528 490h3v1h-3zM534 490h3v1h-3zM540 490h3v1h-3zM546 490h3v1h-3zM552 490h3v1h-3zM558 490h3v1h-3zM564 490h3v1h-3zM570 490h3v1h-3zM576 490h3v1h-3zM582 490h3v1h-3zM588 490h3v1h-3zM594 490h3v1h-3zM600 490h3v1h-3zM606 490h3v1h-3zM612 490h3v1h-3zM618 490h3v1h-3zM624 490h3v1h-3zM630 490h3v1h-3zM636 490h3v1h-3zM642 490h3v1h-3zM648 490h3v1h-3zM654 490h3v1h-3zM660 490h3v1h-3zM666 490h3v1h-3zM672 490h3v1h-3zM678 490h3v1h-3zM684 490h3v1h-3zM690 490h3v1h-3zM696 490h3v1h-3zM702 490h3v1h-3zM708 490h3v1h-3zM714 490h3v1h-3zM720 490h3v1h-3zM726 490h3v1h-3zM732 490h3v1h-3zM738 490h3v1h-3zM744 490h3v1h-3zM750 490h3v1h-3zM756 490h3v1h-3zM762 490h3v1h-3zM768 490h3v1h-3zM774 490h3v1h-3zM780 490h3v1h-3zM786 490h3v1h-3zM792 490h3v1h-3zM798 490h3v1h-3zM804 490h3v1h-3zM810 490h3v1h-3zM816 490h3v1h-3zM822 490h3v1h-3zM828 490h3v1h-3zM834 490h3v1h-3zM840 490h3v1h-3zM846 490h3v1h-3zM852 490h3v1h-3zM858 490h3v1h-3zM864 490h3v1h-3zM870 490h3v1h-3zM876 490h3v1h-3zM882 490h3v1h-3zM888 490h3v1h-3zM894 490h3v1h-3zM900 490h3v1h-3zM906 490h3v1h-3zM912 490h3v1h-3zM918 490h3v1h-3zM924 490h3v1h-3zM930 490h3v1h-3zM936 490h3v1h-3zM942 490h3v1h-3zM948 490h3v1h-3zM954 490h3v1h-3zM960 490h3v1h-3zM966 490h3v1h-3zM972 490h3v1h-3zM978 490h3v1h-3zM984 490h3v1h-3zM990 490h3v1h-3zM996 490h3v1h-3zM1002 490h3v1h-3zM1008 490h3v1h-3zM1014 490h3v1h-3zM1020 490h3v1h-3zM1026 490h3v1h-3zM1032 490h3v1h-3zM1038 490h3v1h-3zM1044 490h3v1h-3zM1050 490h3v1h-3zM1056 490h3v1h-3zM1062 490h3v1h-3zM1068 490h3v1h-3zM1074 490h3v1h-3zM1080 490h3v1h-3zM1086 490h3v1h-3zM1092 490h3v1h-3zM1098 490h3v1h-3zM1104 490h3v1h-3zM1110 490h3v1h-3zM1116 490h3v1h-3zM1122 490h3v1h-3zM1128 490h3v1h-3zM1134 490h3v1h-3zM1140 490h3v1h-3zM1146 490h3v1h-3zM1152 490h3v1h-3zM1158 490h3v1h-3zM1164 490h3v1h-3zM1170 490h3v1h-3zM1176 490h3v1h-3zM1182 490h3v1h-3zM1188 490h3v1h-3zM1194 490h3v1h-3zM1200 490h3v1h-3zM1206 490h3v1h-3zM1212 490h3v1h-3zM1218 490h3v1h-3zM1224 490h3v1h-3zM1230 490h3v1h-3zM1236 490h3v1h-3zM1242 490h3v1h-3zM1248 490h3v1h-3zM1254 490h3v1h-3zM1260 490h3v1h-3zM1266 490h3v1h-3zM1272 490h3v1h-3zM1278 490h3v1h-3zM1284 490h3v1h-3zM1290 490h3v1h-3zM1296 490h3v1h-3zM1302 490h3v1h-3zM1308 490h3v1h-3zM1314 490h3v1h-3zM1320 490h3v1h-3zM1326 490h3v1h-3zM1332 490h3v1h-3zM1338 490h3v1h-3zM1344 490h3v1h-3zM1350 490h3v1h-3zM1356 490h3v1h-3zM1362 490h3v1h-3zM1368 490h3v1h-3zM1374 490h3v1h-3zM1380 490h3v1h-3zM1386 490h3v1h-3zM1392 490h3v1h-3zM1398 490h3v1h-3zM1404 490h3v1h-3zM1410 490h3v1h-3zM1416 490h3v1h-3zM1422 490h3v1h-3zM1428 490h3v1h-3zM1434 490h3v1h-3zM1440 490h3v1h-3zM1446 490h3v1h-3zM1452 490h3v1h-3zM1458 490h3v1h-3zM1464 490h3v1h-3zM1470 490h3v1h-3zM1476 490h3v1h-3zM1482 490h3v1h-3zM1488 490h3v1h-3zM1494 490h3v1h-3zM1500 490h3v1h-3zM1506 490h3v1h-3zM1512 490h3v1h-3zM1518 490h3v1h-3zM1524 490h3v1h-3zM1530 490h3v1h-3zM1536 490h3v1h-3zM1542 490h3v1h-3zM1548 490h3v1h-3zM1554 490h3v1h-3zM1560 490h3v1h-3zM1566 490h3v1h-3zM1572 490h3v1h-3zM1578 490h3v1h-3zM1584 490h3v1h-3zM1590 490h3v1h-3zM1596 490h3v1h-3zM1602 490h3v1h-3zM1608 490h3v1h-3zM1614 490h3v1h-3zM1620 490h2v1h-2zM6 523h3v1h-3zM12 523h3v1h-3zM18 523h3v1h-3zM24 523h3v1h-3zM30 523h3v1h-3zM36 523h3v1h-3zM42 523h3v1h-3zM48 523h3v1h-3zM54 523h3v1h-3zM60 523h3v1h-3zM66 523h3v1h-3zM72 523h3v1h-3zM78 523h3v1h-3zM84 523h3v1h-3zM90 523h3v1h-3zM96 523h3v1h-3zM102 523h3v1h-3zM108 523h3v1h-3zM114 523h3v1h-3zM120 523h3v1h-3zM126 523h3v1h-3zM132 523h3v1h-3zM138 523h3v1h-3zM144 523h3v1h-3zM150 523h3v1h-3zM156 523h3v1h-3zM162 523h3v1h-3zM168 523h3v1h-3zM174 523h3v1h-3zM180 523h3v1h-3zM186 523h3v1h-3zM192 523h3v1h-3zM198 523h3v1h-3zM204 523h3v1h-3zM210 523h3v1h-3zM216 523h3v1h-3zM222 523h3v1h-3zM228 523h3v1h-3zM234 523h3v1h-3zM240 523h3v1h-3zM246 523h3v1h-3zM252 523h3v1h-3zM258 523h3v1h-3zM264 523h3v1h-3zM270 523h3v1h-3zM276 523h3v1h-3zM282 523h3v1h-3zM288 523h3v1h-3zM294 523h3v1h-3zM300 523h3v1h-3zM306 523h3v1h-3zM312 523h3v1h-3zM318 523h3v1h-3zM324 523h3v1h-3zM330 523h3v1h-3zM336 523h3v1h-3zM342 523h3v1h-3zM348 523h3v1h-3zM354 523h3v1h-3zM360 523h3v1h-3zM366 523h3v1h-3zM372 523h3v1h-3zM378 523h3v1h-3zM384 523h3v1h-3zM390 523h3v1h-3zM396 523h3v1h-3zM402 523h3v1h-3zM408 523h3v1h-3zM414 523h3v1h-3zM420 523h3v1h-3zM426 523h3v1h-3zM432 523h3v1h-3zM438 523h3v1h-3zM444 523h3v1h-3zM450 523h3v1h-3zM456 523h3v1h-3zM462 523h3v1h-3zM468 523h3v1h-3zM474 523h3v1h-3zM480 523h3v1h-3zM486 523h3v1h-3zM492 523h3v1h-3zM498 523h3v1h-3zM504 523h3v1h-3zM510 523h3v1h-3zM516 523h3v1h-3zM522 523h3v1h-3zM528 523h3v1h-3zM534 523h3v1h-3zM540 523h3v1h-3zM546 523h3v1h-3zM552 523h3v1h-3zM558 523h3v1h-3zM564 523h3v1h-3zM570 523h3v1h-3zM576 523h3v1h-3zM582 523h3v1h-3zM588 523h3v1h-3zM594 523h3v1h-3zM600 523h3v1h-3zM606 523h3v1h-3zM612 523h3v1h-3zM618 523h3v1h-3zM624 523h3v1h-3zM630 523h3v1h-3zM636 523h3v1h-3zM642 523h3v1h-3zM648 523h3v1h-3zM654 523h3v1h-3zM660 523h3v1h-3zM666 523h3v1h-3zM672 523h3v1h-3zM678 523h3v1h-3zM684 523h3v1h-3zM690 523h3v1h-3zM696 523h3v1h-3zM702 523h3v1h-3zM708 523h3v1h-3zM714 523h3v1h-3zM720 523h3v1h-3zM726 523h3v1h-3zM732 523h3v1h-3zM738 523h3v1h-3zM744 523h3v1h-3zM750 523h3v1h-3zM756 523h3v1h-3zM762 523h3v1h-3zM768 523h3v1h-3zM774 523h3v1h-3zM780 523h3v1h-3zM786 523h3v1h-3zM792 523h3v1h-3zM798 523h3v1h-3zM804 523h3v1h-3zM810 523h3v1h-3zM816 523h3v1h-3zM822 523h3v1h-3zM828 523h3v1h-3zM834 523h3v1h-3zM840 523h3v1h-3zM846 523h3v1h-3zM852 523h3v1h-3zM858 523h3v1h-3zM864 523h3v1h-3zM870 523h3v1h-3zM876 523h3v1h-3zM882 523h3v1h-3zM888 523h3v1h-3zM894 523h3v1h-3zM900 523h3v1h-3zM906 523h3v1h-3zM912 523h3v1h-3zM918 523h3v1h-3zM924 523h3v1h-3zM930 523h3v1h-3zM936 523h3v1h-3zM942 523h3v1h-3zM948 523h3v1h-3zM954 523h3v1h-3zM960 523h3v1h-3zM966 523h3v1h-3zM972 523h3v1h-3zM978 523h3v1h-3zM984 523h3v1h-3zM990 523h3v1h-3zM996 523h3v1h-3zM1002 523h3v1h-3zM1008 523h3v1h-3zM1014 523h3v1h-3zM1020 523h3v1h-3zM1026 523h3v1h-3zM1032 523h3v1h-3zM1038 523h3v1h-3zM1044 523h3v1h-3zM1050 523h3v1h-3zM1056 523h3v1h-3zM1062 523h3v1h-3zM1068 523h3v1h-3zM1074 523h3v1h-3zM1080 523h3v1h-3zM1086 523h3v1h-3zM1092 523h3v1h-3zM1098 523h3v1h-3zM1104 523h3v1h-3zM1110 523h3v1h-3zM1116 523h3v1h-3zM1122 523h3v1h-3zM1128 523h3v1h-3zM1134 523h3v1h-3zM1140 523h3v1h-3zM1146 523h3v1h-3zM1152 523h3v1h-3zM1158 523h3v1h-3zM1164 523h3v1h-3zM1170 523h3v1h-3zM1176 523h3v1h-3zM1182 523h3v1h-3zM1188 523h3v1h-3zM1194 523h3v1h-3zM1200 523h3v1h-3zM1206 523h3v1h-3zM1212 523h3v1h-3zM1218 523h3v1h-3zM1224 523h3v1h-3zM1230 523h3v1h-3zM1236 523h3v1h-3zM1242 523h3v1h-3zM1248 523h3v1h-3zM1254 523h3v1h-3zM1260 523h3v1h-3zM1266 523h3v1h-3zM1272 523h3v1h-3zM1278 523h3v1h-3zM1284 523h3v1h-3zM1290 523h3v1h-3zM1296 523h3v1h-3zM1302 523h3v1h-3zM1308 523h3v1h-3zM1314 523h3v1h-3zM1320 523h3v1h-3zM1326 523h3v1h-3zM1332 523h3v1h-3zM1338 523h3v1h-3zM1344 523h3v1h-3zM1350 523h3v1h-3zM1356 523h3v1h-3zM1362 523h3v1h-3zM1368 523h3v1h-3zM1374 523h3v1h-3zM1380 523h3v1h-3zM1386 523h3v1h-3zM1392 523h3v1h-3zM1398 523h3v1h-3zM1404 523h3v1h-3zM1410 523h3v1h-3zM1416 523h3v1h-3zM1422 523h3v1h-3zM1428 523h3v1h-3zM1434 523h3v1h-3zM1440 523h3v1h-3zM1446 523h3v1h-3zM1452 523h3v1h-3zM1458 523h3v1h-3zM1464 523h3v1h-3zM1470 523h3v1h-3zM1476 523h3v1h-3zM1482 523h3v1h-3zM1488 523h3v1h-3zM1494 523h3v1h-3zM1500 523h3v1h-3zM1506 523h3v1h-3zM1512 523h3v1h-3zM1518 523h3v1h-3zM1524 523h3v1h-3zM1530 523h3v1h-3zM1536 523h3v1h-3zM1542 523h3v1h-3zM1548 523h3v1h-3zM1554 523h3v1h-3zM1560 523h3v1h-3zM1566 523h3v1h-3zM1572 523h3v1h-3zM1578 523h3v1h-3zM1584 523h3v1h-3zM1590 523h3v1h-3zM1596 523h3v1h-3zM1602 523h3v1h-3zM1608 523h3v1h-3zM1614 523h3v1h-3zM1620 523h2v1h-2zM6 556h3v1h-3zM12 556h3v1h-3zM18 556h3v1h-3zM24 556h3v1h-3zM30 556h3v1h-3zM36 556h3v1h-3zM42 556h3v1h-3zM48 556h3v1h-3zM54 556h3v1h-3zM60 556h3v1h-3zM66 556h3v1h-3zM72 556h3v1h-3zM78 556h3v1h-3zM84 556h3v1h-3zM90 556h3v1h-3zM96 556h3v1h-3zM102 556h3v1h-3zM108 556h3v1h-3zM114 556h3v1h-3zM120 556h3v1h-3zM126 556h3v1h-3zM132 556h3v1h-3zM138 556h3v1h-3zM144 556h3v1h-3zM150 556h3v1h-3zM156 556h3v1h-3zM162 556h3v1h-3zM168 556h3v1h-3zM174 556h3v1h-3zM180 556h3v1h-3zM186 556h3v1h-3zM192 556h3v1h-3zM198 556h3v1h-3zM204 556h3v1h-3zM210 556h3v1h-3zM216 556h3v1h-3zM222 556h3v1h-3zM228 556h3v1h-3zM234 556h3v1h-3zM240 556h3v1h-3zM246 556h3v1h-3zM252 556h3v1h-3zM258 556h3v1h-3zM264 556h3v1h-3zM270 556h3v1h-3zM276 556h3v1h-3zM282 556h3v1h-3zM288 556h3v1h-3zM294 556h3v1h-3zM300 556h3v1h-3zM306 556h3v1h-3zM312 556h3v1h-3zM318 556h3v1h-3zM324 556h3v1h-3zM330 556h3v1h-3zM336 556h3v1h-3zM342 556h3v1h-3zM348 556h3v1h-3zM354 556h3v1h-3zM360 556h3v1h-3zM366 556h3v1h-3zM372 556h3v1h-3zM378 556h3v1h-3zM384 556h3v1h-3zM390 556h3v1h-3zM396 556h3v1h-3zM402 556h3v1h-3zM408 556h3v1h-3zM414 556h3v1h-3zM420 556h3v1h-3zM426 556h3v1h-3zM432 556h3v1h-3zM438 556h3v1h-3zM444 556h3v1h-3zM450 556h3v1h-3zM456 556h3v1h-3zM462 556h3v1h-3zM468 556h3v1h-3zM474 556h3v1h-3zM480 556h3v1h-3zM486 556h3v1h-3zM492 556h3v1h-3zM498 556h3v1h-3zM504 556h3v1h-3zM510 556h3v1h-3zM516 556h3v1h-3zM522 556h3v1h-3zM528 556h3v1h-3zM534 556h3v1h-3zM540 556h3v1h-3zM546 556h3v1h-3zM552 556h3v1h-3zM558 556h3v1h-3zM564 556h3v1h-3zM570 556h3v1h-3zM576 556h3v1h-3zM582 556h3v1h-3zM588 556h3v1h-3zM594 556h3v1h-3zM600 556h3v1h-3zM606 556h3v1h-3zM612 556h3v1h-3zM618 556h3v1h-3zM624 556h3v1h-3zM630 556h3v1h-3zM636 556h3v1h-3zM642 556h3v1h-3zM648 556h3v1h-3zM654 556h3v1h-3zM660 556h3v1h-3zM666 556h3v1h-3zM672 556h3v1h-3zM678 556h3v1h-3zM684 556h3v1h-3zM690 556h3v1h-3zM696 556h3v1h-3zM702 556h3v1h-3zM708 556h3v1h-3zM714 556h3v1h-3zM720 556h3v1h-3zM726 556h3v1h-3zM732 556h3v1h-3zM738 556h3v1h-3zM744 556h3v1h-3zM750 556h3v1h-3zM756 556h3v1h-3zM762 556h3v1h-3zM768 556h3v1h-3zM774 556h3v1h-3zM780 556h3v1h-3zM786 556h3v1h-3zM792 556h3v1h-3zM798 556h3v1h-3zM804 556h3v1h-3zM810 556h3v1h-3zM816 556h3v1h-3zM822 556h3v1h-3zM828 556h3v1h-3zM834 556h3v1h-3zM840 556h3v1h-3zM846 556h3v1h-3zM852 556h3v1h-3zM858 556h3v1h-3zM864 556h3v1h-3zM870 556h3v1h-3zM876 556h3v1h-3zM882 556h3v1h-3zM888 556h3v1h-3zM894 556h3v1h-3zM900 556h3v1h-3zM906 556h3v1h-3zM912 556h3v1h-3zM918 556h3v1h-3zM924 556h3v1h-3zM930 556h3v1h-3zM936 556h3v1h-3zM942 556h3v1h-3zM948 556h3v1h-3zM954 556h3v1h-3zM960 556h3v1h-3zM966 556h3v1h-3zM972 556h3v1h-3zM978 556h3v1h-3zM984 556h3v1h-3zM990 556h3v1h-3zM996 556h3v1h-3zM1002 556h3v1h-3zM1008 556h3v1h-3zM1014 556h3v1h-3zM1020 556h3v1h-3zM1026 556h3v1h-3zM1032 556h3v1h-3zM1038 556h3v1h-3zM1044 556h3v1h-3zM1050 556h3v1h-3zM1056 556h3v1h-3zM1062 556h3v1h-3zM1068 556h3v1h-3zM1074 556h3v1h-3zM1080 556h3v1h-3zM1086 556h3v1h-3zM1092 556h3v1h-3zM1098 556h3v1h-3zM1104 556h3v1h-3zM1110 556h3v1h-3zM1116 556h3v1h-3zM1122 556h3v1h-3zM1128 556h3v1h-3zM1134 556h3v1h-3zM1140 556h3v1h-3zM1146 556h3v1h-3zM1152 556h3v1h-3zM1158 556h3v1h-3zM1164 556h3v1h-3zM1170 556h3v1h-3zM1176 556h3v1h-3zM1182 556h3v1h-3zM1188 556h3v1h-3zM1194 556h3v1h-3zM1200 556h3v1h-3zM1206 556h3v1h-3zM1212 556h3v1h-3zM1218 556h3v1h-3zM1224 556h3v1h-3zM1230 556h3v1h-3zM1236 556h3v1h-3zM1242 556h3v1h-3zM1248 556h3v1h-3zM1254 556h3v1h-3zM1260 556h3v1h-3zM1266 556h3v1h-3zM1272 556h3v1h-3zM1278 556h3v1h-3zM1284 556h3v1h-3zM1290 556h3v1h-3zM1296 556h3v1h-3zM1302 556h3v1h-3zM1308 556h3v1h-3zM1314 556h3v1h-3zM1320 556h3v1h-3zM1326 556h3v1h-3zM1332 556h3v1h-3zM1338 556h3v1h-3zM1344 556h3v1h-3zM1350 556h3v1h-3zM1356 556h3v1h-3zM1362 556h3v1h-3zM1368 556h3v1h-3zM1374 556h3v1h-3zM1380 556h3v1h-3zM1386 556h3v1h-3zM1392 556h3v1h-3zM1398 556h3v1h-3zM1404 556h3v1h-3zM1410 556h3v1h-3zM1416 556h3v1h-3zM1422 556h3v1h-3zM1428 556h3v1h-3zM1434 556h3v1h-3zM1440 556h3v1h-3zM1446 556h3v1h-3zM1452 556h3v1h-3zM1458 556h3v1h-3zM1464 556h3v1h-3zM1470 556h3v1h-3zM1476 556h3v1h-3zM1482 556h3v1h-3zM1488 556h3v1h-3zM1494 556h3v1h-3zM1500 556h3v1h-3zM1506 556h3v1h-3zM1512 556h3v1h-3zM1518 556h3v1h-3zM1524 556h3v1h-3zM1530 556h3v1h-3zM1536 556h3v1h-3zM1542 556h3v1h-3zM1548 556h3v1h-3zM1554 556h3v1h-3zM1560 556h3v1h-3zM1566 556h3v1h-3zM1572 556h3v1h-3zM1578 556h3v1h-3zM1584 556h3v1h-3zM1590 556h3v1h-3zM1596 556h3v1h-3zM1602 556h3v1h-3zM1608 556h3v1h-3zM1614 556h3v1h-3zM1620 556h2v1h-2zM37 5v2h1v-2zM37 10v3h1v-3zM37 16v3h1v-3zM37 22v3h1v-3zM37 28v3h1v-3zM37 34v3h1v-3zM37 40v3h1v-3zM37 46v3h1v-3zM37 52v3h1v-3zM37 58v3h1v-3zM37 64v3h1v-3zM37 70v3h1v-3zM37 76v3h1v-3zM37 82v3h1v-3zM37 88v3h1v-3zM37 94v3h1v-3zM37 100v3h1v-3zM37 106v3h1v-3zM37 112v3h1v-3zM37 118v3h1v-3zM37 124v3h1v-3zM37 130v3h1v-3zM37 136v3h1v-3zM37 142v3h1v-3zM37 148v3h1v-3zM37 154v3h1v-3zM37 160v3h1v-3zM37 166v3h1v-3zM37 172v3h1v-3zM37 178v3h1v-3zM37 184v3h1v-3zM37 190v3h1v-3zM37 196v3h1v-3zM37 202v3h1v-3zM37 208v3h1v-3zM37 214v3h1v-3zM37 220v3h1v-3zM37 226v3h1v-3zM37 232v3h1v-3zM37 238v3h1v-3zM37 244v3h1v-3zM37 250v3h1v-3zM37 256v3h1v-3zM37 262v3h1v-3zM37 268v3h1v-3zM37 274v3h1v-3zM37 280v3h1v-3zM37 286v3h1v-3zM37 292v3h1v-3zM37 298v3h1v-3zM37 304v3h1v-3zM37 310v3h1v-3zM37 316v3h1v-3zM37 322v3h1v-3zM37 328v3h1v-3zM37 334v3h1v-3zM37 340v3h1v-3zM37 346v3h1v-3zM37 352v3h1v-3zM37 358v3h1v-3zM37 364v3h1v-3zM37 370v3h1v-3zM37 376v3h1v-3zM37 382v3h1v-3zM37 388v3h1v-3zM37 394v3h1v-3zM37 400v3h1v-3zM37 406v3h1v-3zM37 412v3h1v-3zM37 418v3h1v-3zM37 424v3h1v-3zM37 430v3h1v-3zM37 436v3h1v-3zM37 442v3h1v-3zM37 448v3h1v-3zM37 454v3h1v-3zM37 460v3h1v-3zM37 466v3h1v-3zM37 472v3h1v-3zM37 478v3h1v-3zM37 484v3h1v-3zM37 490v3h1v-3zM37 496v3h1v-3zM37 502v3h1v-3zM37 508v3h1v-3zM37 514v3h1v-3zM37 520v3h1v-3zM37 526v3h1v-3zM37 532v3h1v-3zM37 538v3h1v-3zM37 544v3h1v-3zM37 550v3h1v-3zM37 556v3h1v-3zM69 5v2h1v-2zM69 10v3h1v-3zM69 16v3h1v-3zM69 22v3h1v-3zM69 28v3h1v-3zM69 34v3h1v-3zM69 40v3h1v-3zM69 46v3h1v-3zM69 52v3h1v-3zM69 58v3h1v-3zM69 64v3h1v-3zM69 70v3h1v-3zM69 76v3h1v-3zM69 82v3h1v-3zM69 88v3h1v-3zM69 94v3h1v-3zM69 100v3h1v-3zM69 106v3h1v-3zM69 112v3h1v-3zM69 118v3h1v-3zM69 124v3h1v-3zM69 130v3h1v-3zM69 136v3h1v-3zM69 142v3h1v-3zM69 148v3h1v-3zM69 154v3h1v-3zM69 160v3h1v-3zM69 166v3h1v-3zM69 172v3h1v-3zM69 178v3h1v-3zM69 184v3h1v-3zM69 190v3h1v-3zM69 196v3h1v-3zM69 202v3h1v-3zM69 208v3h1v-3zM69 214v3h1v-3zM69 220v3h1v-3zM69 226v3h1v-3zM69 232v3h1v-3zM69 238v3h1v-3zM69 244v3h1v-3zM69 250v3h1v-3zM69 256v3h1v-3zM69 262v3h1v-3zM69 268v3h1v-3zM69 274v3h1v-3zM69 280v3h1v-3zM69 286v3h1v-3zM69 292v3h1v-3zM69 298v3h1v-3zM69 304v3h1v-3zM69 310v3h1v-3zM69 316v3h1v-3zM69 322v3h1v-3zM69 328v3h1v-3zM69 334v3h1v-3zM69 340v3h1v-3zM69 346v3h1v-3zM69 352v3h1v-3zM69 358v3h1v-3zM69 364v3h1v-3zM69 370v3h1v-3zM69 376v3h1v-3zM69 382v3h1v-3zM69 388v3h1v-3zM69 394v3h1v-3zM69 400v3h1v-3zM69 406v3h1v-3zM69 412v3h1v-3zM69 418v3h1v-3zM69 424v3h1v-3zM69 430v3h1v-3zM69 436v3h1v-3zM69 442v3h1v-3zM69 448v3h1v-3zM69 454v3h1v-3zM69 460v3h1v-3zM69 466v3h1v-3zM69 472v3h1v-3zM69 478v3h1v-3zM69 484v3h1v-3zM69 490v3h1v-3zM69 496v3h1v-3zM69 502v3h1v-3zM69 508v3h1v-3zM69 514v3h1v-3zM69 520v3h1v-3zM69 526v3h1v-3zM69 532v3h1v-3zM69 538v3h1v-3zM69 544v3h1v-3zM69 550v3h1v-3zM69 556v3h1v-3zM101 5v2h1v-2zM101 10v3h1v-3zM101 16v3h1v-3zM101 22v3h1v-3zM101 28v3h1v-3zM101 34v3h1v-3zM101 40v3h1v-3zM101 46v3h1v-3zM101 52v3h1v-3zM101 58v3h1v-3zM101 64v3h1v-3zM101 70v3h1v-3zM101 76v3h1v-3zM101 82v3h1v-3zM101 88v3h1v-3zM101 94v3h1v-3zM101 100v3h1v-3zM101 106v3h1v-3zM101 112v3h1v-3zM101 118v3h1v-3zM101 124v3h1v-3zM101 130v3h1v-3zM101 136v3h1v-3zM101 142v3h1v-3zM101 148v3h1v-3zM101 154v3h1v-3zM101 160v3h1v-3zM101 166v3h1v-3zM101 172v3h1v-3zM101 178v3h1v-3zM101 184v3h1v-3zM101 190v3h1v-3zM101 196v3h1v-3zM101 202v3h1v-3zM101 208v3h1v-3zM101 214v3h1v-3zM101 220v3h1v-3zM101 226v3h1v-3zM101 232v3h1v-3zM101 238v3h1v-3zM101 244v3h1v-3zM101 250v3h1v-3zM101 256v3h1v-3zM101 262v3h1v-3zM101 268v3h1v-3zM101 274v3h1v-3zM101 280v3h1v-3zM101 286v3h1v-3zM101 292v3h1v-3zM101 298v3h1v-3zM101 304v3h1v-3zM101 310v3h1v-3zM101 316v3h1v-3zM101 322v3h1v-3zM101 328v3h1v-3zM101 334v3h1v-3zM101 340v3h1v-3zM101 346v3h1v-3zM101 352v3h1v-3zM101 358v3h1v-3zM101 364v3h1v-3zM101 370v3h1v-3zM101 376v3h1v-3zM101 382v3h1v-3zM101 388v3h1v-3zM101 394v3h1v-3zM101 400v3h1v-3zM101 406v3h1v-3zM101 412v3h1v-3zM101 418v3h1v-3zM101 424v3h1v-3zM101 430v3h1v-3zM101 436v3h1v-3zM101 442v3h1v-3zM101 448v3h1v-3zM101 454v3h1v-3zM101 460v3h1v-3zM101 466v3h1v-3zM101 472v3h1v-3zM101 478v3h1v-3zM101 484v3h1v-3zM101 490v3h1v-3zM101 496v3h1v-3zM101 502v3h1v-3zM101 508v3h1v-3zM101 514v3h1v-3zM101 520v3h1v-3zM101 526v3h1v-3zM101 532v3h1v-3zM101 538v3h1v-3zM101 544v3h1v-3zM101 550v3h1v-3zM101 556v3h1v-3zM133 5v2h1v-2zM133 10v3h1v-3zM133 16v3h1v-3zM133 22v3h1v-3zM133 28v3h1v-3zM133 34v3h1v-3zM133 40v3h1v-3zM133 46v3h1v-3zM133 52v3h1v-3zM133 58v3h1v-3zM133 64v3h1v-3zM133 70v3h1v-3zM133 76v3h1v-3zM133 82v3h1v-3zM133 88v3h1v-3zM133 94v3h1v-3zM133 100v3h1v-3zM133 106v3h1v-3zM133 112v3h1v-3zM133 118v3h1v-3zM133 124v3h1v-3zM133 130v3h1v-3zM133 136v3h1v-3zM133 142v3h1v-3zM133 148v3h1v-3zM133 154v3h1v-3zM133 160v3h1v-3zM133 166v3h1v-3zM133 172v3h1v-3zM133 178v3h1v-3zM133 184v3h1v-3zM133 190v3h1v-3zM133 196v3h1v-3zM133 202v3h1v-3zM133 208v3h1v-3zM133 214v3h1v-3zM133 220v3h1v-3zM133 226v3h1v-3zM133 232v3h1v-3zM133 238v3h1v-3zM133 244v3h1v-3zM133 250v3h1v-3zM133 256v3h1v-3zM133 262v3h1v-3zM133 268v3h1v-3zM133 274v3h1v-3zM133 280v3h1v-3zM133 286v3h1v-3zM133 292v3h1v-3zM133 298v3h1v-3zM133 304v3h1v-3zM133 310v3h1v-3zM133 316v3h1v-3zM133 322v3h1v-3zM133 328v3h1v-3zM133 334v3h1v-3zM133 340v3h1v-3zM133 346v3h1v-3zM133 352v3h1v-3zM133 358v3h1v-3zM133 364v3h1v-3zM133 370v3h1v-3zM133 376v3h1v-3zM133 382v3h1v-3zM133 388v3h1v-3zM133 394v3h1v-3zM133 400v3h1v-3zM133 406v3h1v-3zM133 412v3h1v-3zM133 418v3h1v-3zM133 424v3h1v-3zM133 430v3h1v-3zM133 436v3h1v-3zM133 442v3h1v-3zM133 448v3h1v-3zM133 454v3h1v-3zM133 460v3h1v-3zM133 466v3h1v-3zM133 472v3h1v-3zM133 478v3h1v-3zM133 484v3h1v-3zM133 490v3h1v-3zM133 496v3h1v-3zM133 502v3h1v-3zM133 508v3h1v-3zM133 514v3h1v-3zM133 520v3h1v-3zM133 526v3h1v-3zM133 532v3h1v-3zM133 538v3h1v-3zM133 544v3h1v-3zM133 550v3h1v-3zM133 556v3h1v-3zM165 5v2h1v-2zM165 10v3h1v-3zM165 16v3h1v-3zM165 22v3h1v-3zM165 28v3h1v-3zM165 34v3h1v-3zM165 40v3h1v-3zM165 46v3h1v-3zM165 52v3h1v-3zM165 58v3h1v-3zM165 64v3h1v-3zM165 70v3h1v-3zM165 76v3h1v-3zM165 82v3h1v-3zM165 88v3h1v-3zM165 94v3h1v-3zM165 100v3h1v-3zM165 106v3h1v-3zM165 112v3h1v-3zM165 118v3h1v-3zM165 124v3h1v-3zM165 130v3h1v-3zM165 136v3h1v-3zM165 142v3h1v-3zM165 148v3h1v-3zM165 154v3h1v-3zM165 160v3h1v-3zM165 166v3h1v-3zM165 172v3h1v-3zM165 178v3h1v-3zM165 184v3h1v-3zM165 190v3h1v-3zM165 196v3h1v-3zM165 202v3h1v-3zM165 208v3h1v-3zM165 214v3h1v-3zM165 220v3h1v-3zM165 226v3h1v-3zM165 232v3h1v-3zM165 238v3h1v-3zM165 244v3h1v-3zM165 250v3h1v-3zM165 256v3h1v-3zM165 262v3h1v-3zM165 268v3h1v-3zM165 274v3h1v-3zM165 280v3h1v-3zM165 286v3h1v-3zM165 292v3h1v-3zM165 298v3h1v-3zM165 304v3h1v-3zM165 310v3h1v-3zM165 316v3h1v-3zM165 322v3h1v-3zM165 328v3h1v-3zM165 334v3h1v-3zM165 340v3h1v-3zM165 346v3h1v-3zM165 352v3h1v-3zM165 358v3h1v-3zM165 364v3h1v-3zM165 370v3h1v-3zM165 376v3h1v-3zM165 382v3h1v-3zM165 388v3h1v-3zM165 394v3h1v-3zM165 400v3h1v-3zM165 406v3h1v-3zM165 412v3h1v-3zM165 418v3h1v-3zM165 424v3h1v-3zM165 430v3h1v-3zM165 436v3h1v-3zM165 442v3h1v-3zM165 448v3h1v-3zM165 454v3h1v-3zM165 460v3h1v-3zM165 466v3h1v-3zM165 472v3h1v-3zM165 478v3h1v-3zM165 484v3h1v-3zM165 490v3h1v-3zM165 496v3h1v-3zM165 502v3h1v-3zM165 508v3h1v-3zM165 514v3h1v-3zM165 520v3h1v-3zM165 526v3h1v-3zM165 532v3h1v-3zM165 538v3h1v-3zM165 544v3h1v-3zM165 550v3h1v-3zM165 556v3h1v-3zM197 5v2h1v-2zM197 10v3h1v-3zM197 16v3h1v-3zM197 22v3h1v-3zM197 28v3h1v-3zM197 34v3h1v-3zM197 40v3h1v-3zM197 46v3h1v-3zM197 52v3h1v-3zM197 58v3h1v-3zM197 64v3h1v-3zM197 70v3h1v-3zM197 76v3h1v-3zM197 82v3h1v-3zM197 88v3h1v-3zM197 94v3h1v-3zM197 100v3h1v-3zM197 106v3h1v-3zM197 112v3h1v-3zM197 118v3h1v-3zM197 124v3h1v-3zM197 130v3h1v-3zM197 136v3h1v-3zM197 142v3h1v-3zM197 148v3h1v-3zM197 154v3h1v-3zM197 160v3h1v-3zM197 166v3h1v-3zM197 172v3h1v-3zM197 178v3h1v-3zM197 184v3h1v-3zM197 190v3h1v-3zM197 196v3h1v-3zM197 202v3h1v-3zM197 208v3h1v-3zM197 214v3h1v-3zM197 220v3h1v-3zM197 226v3h1v-3zM197 232v3h1v-3zM197 238v3h1v-3zM197 244v3h1v-3zM197 250v3h1v-3zM197 256v3h1v-3zM197 262v3h1v-3zM197 268v3h1v-3zM197 274v3h1v-3zM197 280v3h1v-3zM197 286v3h1v-3zM197 292v3h1v-3zM197 298v3h1v-3zM197 304v3h1v-3zM197 310v3h1v-3zM197 316v3h1v-3zM197 322v3h1v-3zM197 328v3h1v-3zM197 334v3h1v-3zM197 340v3h1v-3zM197 346v3h1v-3zM197 352v3h1v-3zM197 358v3h1v-3zM197 364v3h1v-3zM197 370v3h1v-3zM197 376v3h1v-3zM197 382v3h1v-3zM197 388v3h1v-3zM197 394v3h1v-3zM197 400v3h1v-3zM197 406v3h1v-3zM197 412v3h1v-3zM197 418v3h1v-3zM197 424v3h1v-3zM197 430v3h1v-3zM197 436v3h1v-3zM197 442v3h1v-3zM197 448v3h1v-3zM197 454v3h1v-3zM197 460v3h1v-3zM197 466v3h1v-3zM197 472v3h1v-3zM197 478v3h1v-3zM197 484v3h1v-3zM197 490v3h1v-3zM197 496v3h1v-3zM197 502v3h1v-3zM197 508v3h1v-3zM197 514v3h1v-3zM197 520v3h1v-3zM197 526v3h1v-3zM197 532v3h1v-3zM197 538v3h1v-3zM197 544v3h1v-3zM197 550v3h1v-3zM197 556v3h1v-3zM229 5v2h1v-2zM229 10v3h1v-3zM229 16v3h1v-3zM229 22v3h1v-3zM229 28v3h1v-3zM229 34v3h1v-3zM229 40v3h1v-3zM229 46v3h1v-3zM229 52v3h1v-3zM229 58v3h1v-3zM229 64v3h1v-3zM229 70v3h1v-3zM229 76v3h1v-3zM229 82v3h1v-3zM229 88v3h1v-3zM229 94v3h1v-3zM229 100v3h1v-3zM229 106v3h1v-3zM229 112v3h1v-3zM229 118v3h1v-3zM229 124v3h1v-3zM229 130v3h1v-3zM229 136v3h1v-3zM229 142v3h1v-3zM229 148v3h1v-3zM229 154v3h1v-3zM229 160v3h1v-3zM229 166v3h1v-3zM229 172v3h1v-3zM229 178v3h1v-3zM229 184v3h1v-3zM229 190v3h1v-3zM229 196v3h1v-3zM229 202v3h1v-3zM229 208v3h1v-3zM229 214v3h1v-3zM229 220v3h1v-3zM229 226v3h1v-3zM229 232v3h1v-3zM229 238v3h1v-3zM229 244v3h1v-3zM229 250v3h1v-3zM229 256v3h1v-3zM229 262v3h1v-3zM229 268v3h1v-3zM229 274v3h1v-3zM229 280v3h1v-3zM229 286v3h1v-3zM229 292v3h1v-3zM229 298v3h1v-3zM229 304v3h1v-3zM229 310v3h1v-3zM229 316v3h1v-3zM229 322v3h1v-3zM229 328v3h1v-3zM229 334v3h1v-3zM229 340v3h1v-3zM229 346v3h1v-3zM229 352v3h1v-3zM229 358v3h1v-3zM229 364v3h1v-3zM229 370v3h1v-3zM229 376v3h1v-3zM229 382v3h1v-3zM229 388v3h1v-3zM229 394v3h1v-3zM229 400v3h1v-3zM229 406v3h1v-3zM229 412v3h1v-3zM229 418v3h1v-3zM229 424v3h1v-3zM229 430v3h1v-3zM229 436v3h1v-3zM229 442v3h1v-3zM229 448v3h1v-3zM229 454v3h1v-3zM229 460v3h1v-3zM229 466v3h1v-3zM229 472v3h1v-3zM229 478v3h1v-3zM229 484v3h1v-3zM229 490v3h1v-3zM229 496v3h1v-3zM229 502v3h1v-3zM229 508v3h1v-3zM229 514v3h1v-3zM229 520v3h1v-3zM229 526v3h1v-3zM229 532v3h1v-3zM229 538v3h1v-3zM229 544v3h1v-3zM229 550v3h1v-3zM229 556v3h1v-3zM261 5v2h1v-2zM261 10v3h1v-3zM261 16v3h1v-3zM261 22v3h1v-3zM261 28v3h1v-3zM261 34v3h1v-3zM261 40v3h1v-3zM261 46v3h1v-3zM261 52v3h1v-3zM261 58v3h1v-3zM261 64v3h1v-3zM261 70v3h1v-3zM261 76v3h1v-3zM261 82v3h1v-3zM261 88v3h1v-3zM261 94v3h1v-3zM261 100v3h1v-3zM261 106v3h1v-3zM261 112v3h1v-3zM261 118v3h1v-3zM261 124v3h1v-3zM261 130v3h1v-3zM261 136v3h1v-3zM261 142v3h1v-3zM261 148v3h1v-3zM261 154v3h1v-3zM261 160v3h1v-3zM261 166v3h1v-3zM261 172v3h1v-3zM261 178v3h1v-3zM261 184v3h1v-3zM261 190v3h1v-3zM261 196v3h1v-3zM261 202v3h1v-3zM261 208v3h1v-3zM261 214v3h1v-3zM261 220v3h1v-3zM261 226v3h1v-3zM261 232v3h1v-3zM261 238v3h1v-3zM261 244v3h1v-3zM261 250v3h1v-3zM261 256v3h1v-3zM261 262v3h1v-3zM261 268v3h1v-3zM261 274v3h1v-3zM261 280v3h1v-3zM261 286v3h1v-3zM261 292v3h1v-3zM261 298v3h1v-3zM261 304v3h1v-3zM261 310v3h1v-3zM261 316v3h1v-3zM261 322v3h1v-3zM261 328v3h1v-3zM261 334v3h1v-3zM261 340v3h1v-3zM261 346v3h1v-3zM261 352v3h1v-3zM261 358v3h1v-3zM261 364v3h1v-3zM261 370v3h1v-3zM261 376v3h1v-3zM261 382v3h1v-3zM261 388v3h1v-3zM261 394v3h1v-3zM261 400v3h1v-3zM261 406v3h1v-3zM261 412v3h1v-3zM261 418v3h1v-3zM261 424v3h1v-3zM261 430v3h1v-3zM261 436v3h1v-3zM261 442v3h1v-3zM261 448v3h1v-3zM261 454v3h1v-3zM261 460v3h1v-3zM261 466v3h1v-3zM261 472v3h1v-3zM261 478v3h1v-3zM261 484v3h1v-3zM261 490v3h1v-3zM261 496v3h1v-3zM261 502v3h1v-3zM261 508v3h1v-3zM261 514v3h1v-3zM261 520v3h1v-3zM261 526v3h1v-3zM261 532v3h1v-3zM261 538v3h1v-3zM261 544v3h1v-3zM261 550v3h1v-3zM261 556v3h1v-3zM293 5v2h1v-2zM293 10v3h1v-3zM293 16v3h1v-3zM293 22v3h1v-3zM293 28v3h1v-3zM293 34v3h1v-3zM293 40v3h1v-3zM293 46v3h1v-3zM293 52v3h1v-3zM293 58v3h1v-3zM293 64v3h1v-3zM293 70v3h1v-3zM293 76v3h1v-3zM293 82v3h1v-3zM293 88v3h1v-3zM293 94v3h1v-3zM293 100v3h1v-3zM293 106v3h1v-3zM293 112v3h1v-3zM293 118v3h1v-3zM293 124v3h1v-3zM293 130v3h1v-3zM293 136v3h1v-3zM293 142v3h1v-3zM293 148v3h1v-3zM293 154v3h1v-3zM293 160v3h1v-3zM293 166v3h1v-3zM293 172v3h1v-3zM293 178v3h1v-3zM293 184v3h1v-3zM293 190v3h1v-3zM293 196v3h1v-3zM293 202v3h1v-3zM293 208v3h1v-3zM293 214v3h1v-3zM293 220v3h1v-3zM293 226v3h1v-3zM293 232v3h1v-3zM293 238v3h1v-3zM293 244v3h1v-3zM293 250v3h1v-3zM293 256v3h1v-3zM293 262v3h1v-3zM293 268v3h1v-3zM293 274v3h1v-3zM293 280v3h1v-3zM293 286v3h1v-3zM293 292v3h1v-3zM293 298v3h1v-3zM293 304v3h1v-3zM293 310v3h1v-3zM293 316v3h1v-3zM293 322v3h1v-3zM293 328v3h1v-3zM293 334v3h1v-3zM293 340v3h1v-3zM293 346v3h1v-3zM293 352v3h1v-3zM293 358v3h1v-3zM293 364v3h1v-3zM293 370v3h1v-3zM293 376v3h1v-3zM293 382v3h1v-3zM293 388v3h1v-3zM293 394v3h1v-3zM293 400v3h1v-3zM293 406v3h1v-3zM293 412v3h1v-3zM293 418v3h1v-3zM293 424v3h1v-3zM293 430v3h1v-3zM293 436v3h1v-3zM293 442v3h1v-3zM293 448v3h1v-3zM293 454v3h1v-3zM293 460v3h1v-3zM293 466v3h1v-3zM293 472v3h1v-3zM293 478v3h1v-3zM293 484v3h1v-3zM293 490v3h1v-3zM293 496v3h1v-3zM293 502v3h1v-3zM293 508v3h1v-3zM293 514v3h1v-3zM293 520v3h1v-3zM293 526v3h1v-3zM293 532v3h1v-3zM293 538v3h1v-3zM293 544v3h1v-3zM293 550v3h1v-3zM293 556v3h1v-3zM325 5v2h1v-2zM325 10v3h1v-3zM325 16v3h1v-3zM325 22v3h1v-3zM325 28v3h1v-3zM325 34v3h1v-3zM325 40v3h1v-3zM325 46v3h1v-3zM325 52v3h1v-3zM325 58v3h1v-3zM325 64v3h1v-3zM325 70v3h1v-3zM325 76v3h1v-3zM325 82v3h1v-3zM325 88v3h1v-3zM325 94v3h1v-3zM325 100v3h1v-3zM325 106v3h1v-3zM325 112v3h1v-3zM325 118v3h1v-3zM325 124v3h1v-3zM325 130v3h1v-3zM325 136v3h1v-3zM325 142v3h1v-3zM325 148v3h1v-3zM325 154v3h1v-3zM325 160v3h1v-3zM325 166v3h1v-3zM325 172v3h1v-3zM325 178v3h1v-3zM325 184v3h1v-3zM325 190v3h1v-3zM325 196v3h1v-3zM325 202v3h1v-3zM325 208v3h1v-3zM325 214v3h1v-3zM325 220v3h1v-3zM325 226v3h1v-3zM325 232v3h1v-3zM325 238v3h1v-3zM325 244v3h1v-3zM325 250v3h1v-3zM325 256v3h1v-3zM325 262v3h1v-3zM325 268v3h1v-3zM325 274v3h1v-3zM325 280v3h1v-3zM325 286v3h1v-3zM325 292v3h1v-3zM325 298v3h1v-3zM325 304v3h1v-3zM325 310v3h1v-3zM325 316v3h1v-3zM325 322v3h1v-3zM325 328v3h1v-3zM325 334v3h1v-3zM325 340v3h1v-3zM325 346v3h1v-3zM325 352v3h1v-3zM325 358v3h1v-3zM325 364v3h1v-3zM325 370v3h1v-3zM325 376v3h1v-3zM325 382v3h1v-3zM325 388v3h1v-3zM325 394v3h1v-3zM325 400v3h1v-3zM325 406v3h1v-3zM325 412v3h1v-3zM325 418v3h1v-3zM325 424v3h1v-3zM325 430v3h1v-3zM325 436v3h1v-3zM325 442v3h1v-3zM325 448v3h1v-3zM325 454v3h1v-3zM325 460v3h1v-3zM325 466v3h1v-3zM325 472v3h1v-3zM325 478v3h1v-3zM325 484v3h1v-3zM325 490v3h1v-3zM325 496v3h1v-3zM325 502v3h1v-3zM325 508v3h1v-3zM325 514v3h1v-3zM325 520v3h1v-3zM325 526v3h1v-3zM325 532v3h1v-3zM325 538v3h1v-3zM325 544v3h1v-3zM325 550v3h1v-3zM325 556v3h1v-3zM357 5v2h1v-2zM357 10v3h1v-3zM357 16v3h1v-3zM357 22v3h1v-3zM357 28v3h1v-3zM357 34v3h1v-3zM357 40v3h1v-3zM357 46v3h1v-3zM357 52v3h1v-3zM357 58v3h1v-3zM357 64v3h1v-3zM357 70v3h1v-3zM357 76v3h1v-3zM357 82v3h1v-3zM357 88v3h1v-3zM357 94v3h1v-3zM357 100v3h1v-3zM357 106v3h1v-3zM357 112v3h1v-3zM357 118v3h1v-3zM357 124v3h1v-3zM357 130v3h1v-3zM357 136v3h1v-3zM357 142v3h1v-3zM357 148v3h1v-3zM357 154v3h1v-3zM357 160v3h1v-3zM357 166v3h1v-3zM357 172v3h1v-3zM357 178v3h1v-3zM357 184v3h1v-3zM357 190v3h1v-3zM357 196v3h1v-3zM357 202v3h1v-3zM357 208v3h1v-3zM357 214v3h1v-3zM357 220v3h1v-3zM357 226v3h1v-3zM357 232v3h1v-3zM357 238v3h1v-3zM357 244v3h1v-3zM357 250v3h1v-3zM357 256v3h1v-3zM357 262v3h1v-3zM357 268v3h1v-3zM357 274v3h1v-3zM357 280v3h1v-3zM357 286v3h1v-3zM357 292v3h1v-3zM357 298v3h1v-3zM357 304v3h1v-3zM357 310v3h1v-3zM357 316v3h1v-3zM357 322v3h1v-3zM357 328v3h1v-3zM357 334v3h1v-3zM357 340v3h1v-3zM357 346v3h1v-3zM357 352v3h1v-3zM357 358v3h1v-3zM357 364v3h1v-3zM357 370v3h1v-3zM357 376v3h1v-3zM357 382v3h1v-3zM357 388v3h1v-3zM357 394v3h1v-3zM357 400v3h1v-3zM357 406v3h1v-3zM357 412v3h1v-3zM357 418v3h1v-3zM357 424v3h1v-3zM357 430v3h1v-3zM357 436v3h1v-3zM357 442v3h1v-3zM357 448v3h1v-3zM357 454v3h1v-3zM357 460v3h1v-3zM357 466v3h1v-3zM357 472v3h1v-3zM357 478v3h1v-3zM357 484v3h1v-3zM357 490v3h1v-3zM357 496v3h1v-3zM357 502v3h1v-3zM357 508v3h1v-3zM357 514v3h1v-3zM357 520v3h1v-3zM357 526v3h1v-3zM357 532v3h1v-3zM357 538v3h1v-3zM357 544v3h1v-3zM357 550v3h1v-3zM357 556v3h1v-3zM389 5v2h1v-2zM389 10v3h1v-3zM389 16v3h1v-3zM389 22v3h1v-3zM389 28v3h1v-3zM389 34v3h1v-3zM389 40v3h1v-3zM389 46v3h1v-3zM389 52v3h1v-3zM389 58v3h1v-3zM389 64v3h1v-3zM389 70v3h1v-3zM389 76v3h1v-3zM389 82v3h1v-3zM389 88v3h1v-3zM389 94v3h1v-3zM389 100v3h1v-3zM389 106v3h1v-3zM389 112v3h1v-3zM389 118v3h1v-3zM389 124v3h1v-3zM389 130v3h1v-3zM389 136v3h1v-3zM389 142v3h1v-3zM389 148v3h1v-3zM389 154v3h1v-3zM389 160v3h1v-3zM389 166v3h1v-3zM389 172v3h1v-3zM389 178v3h1v-3zM389 184v3h1v-3zM389 190v3h1v-3zM389 196v3h1v-3zM389 202v3h1v-3zM389 208v3h1v-3zM389 214v3h1v-3zM389 220v3h1v-3zM389 226v3h1v-3zM389 232v3h1v-3zM389 238v3h1v-3zM389 244v3h1v-3zM389 250v3h1v-3zM389 256v3h1v-3zM389 262v3h1v-3zM389 268v3h1v-3zM389 274v3h1v-3zM389 280v3h1v-3zM389 286v3h1v-3zM389 292v3h1v-3zM389 298v3h1v-3zM389 304v3h1v-3zM389 310v3h1v-3zM389 316v3h1v-3zM389 322v3h1v-3zM389 328v3h1v-3zM389 334v3h1v-3zM389 340v3h1v-3zM389 346v3h1v-3zM389 352v3h1v-3zM389 358v3h1v-3zM389 364v3h1v-3zM389 370v3h1v-3zM389 376v3h1v-3zM389 382v3h1v-3zM389 388v3h1v-3zM389 394v3h1v-3zM389 400v3h1v-3zM389 406v3h1v-3zM389 412v3h1v-3zM389 418v3h1v-3zM389 424v3h1v-3zM389 430v3h1v-3zM389 436v3h1v-3zM389 442v3h1v-3zM389 448v3h1v-3zM389 454v3h1v-3zM389 460v3h1v-3zM389 466v3h1v-3zM389 472v3h1v-3zM389 478v3h1v-3zM389 484v3h1v-3zM389 490v3h1v-3zM389 496v3h1v-3zM389 502v3h1v-3zM389 508v3h1v-3zM389 514v3h1v-3zM389 520v3h1v-3zM389 526v3h1v-3zM389 532v3h1v-3zM389 538v3h1v-3zM389 544v3h1v-3zM389 550v3h1v-3zM389 556v3h1v-3zM421 5v2h1v-2zM421 10v3h1v-3zM421 16v3h1v-3zM421 22v3h1v-3zM421 28v3h1v-3zM421 34v3h1v-3zM421 40v3h1v-3zM421 46v3h1v-3zM421 52v3h1v-3zM421 58v3h1v-3zM421 64v3h1v-3zM421 70v3h1v-3zM421 76v3h1v-3zM421 82v3h1v-3zM421 88v3h1v-3zM421 94v3h1v-3zM421 100v3h1v-3zM421 106v3h1v-3zM421 112v3h1v-3zM421 118v3h1v-3zM421 124v3h1v-3zM421 130v3h1v-3zM421 136v3h1v-3zM421 142v3h1v-3zM421 148v3h1v-3zM421 154v3h1v-3zM421 160v3h1v-3zM421 166v3h1v-3zM421 172v3h1v-3zM421 178v3h1v-3zM421 184v3h1v-3zM421 190v3h1v-3zM421 196v3h1v-3zM421 202v3h1v-3zM421 208v3h1v-3zM421 214v3h1v-3zM421 220v3h1v-3zM421 226v3h1v-3zM421 232v3h1v-3zM421 238v3h1v-3zM421 244v3h1v-3zM421 250v3h1v-3zM421 256v3h1v-3zM421 262v3h1v-3zM421 268v3h1v-3zM421 274v3h1v-3zM421 280v3h1v-3zM421 286v3h1v-3zM421 292v3h1v-3zM421 298v3h1v-3zM421 304v3h1v-3zM421 310v3h1v-3zM421 316v3h1v-3zM421 322v3h1v-3zM421 328v3h1v-3zM421 334v3h1v-3zM421 340v3h1v-3zM421 346v3h1v-3zM421 352v3h1v-3zM421 358v3h1v-3zM421 364v3h1v-3zM421 370v3h1v-3zM421 376v3h1v-3zM421 382v3h1v-3zM421 388v3h1v-3zM421 394v3h1v-3zM421 400v3h1v-3zM421 406v3h1v-3zM421 412v3h1v-3zM421 418v3h1v-3zM421 424v3h1v-3zM421 430v3h1v-3zM421 436v3h1v-3zM421 442v3h1v-3zM421 448v3h1v-3zM421 454v3h1v-3zM421 460v3h1v-3zM421 466v3h1v-3zM421 472v3h1v-3zM421 478v3h1v-3zM421 484v3h1v-3zM421 490v3h1v-3zM421 496v3h1v-3zM421 502v3h1v-3zM421 508v3h1v-3zM421 514v3h1v-3zM421 520v3h1v-3zM421 526v3h1v-3zM421 532v3h1v-3zM421 538v3h1v-3zM421 544v3h1v-3zM421 550v3h1v-3zM421 556v3h1v-3zM453 5v2h1v-2zM453 10v3h1v-3zM453 16v3h1v-3zM453 22v3h1v-3zM453 28v3h1v-3zM453 34v3h1v-3zM453 40v3h1v-3zM453 46v3h1v-3zM453 52v3h1v-3zM453 58v3h1v-3zM453 64v3h1v-3zM453 70v3h1v-3zM453 76v3h1v-3zM453 82v3h1v-3zM453 88v3h1v-3zM453 94v3h1v-3zM453 100v3h1v-3zM453 106v3h1v-3zM453 112v3h1v-3zM453 118v3h1v-3zM453 124v3h1v-3zM453 130v3h1v-3zM453 136v3h1v-3zM453 142v3h1v-3zM453 148v3h1v-3zM453 154v3h1v-3zM453 160v3h1v-3zM453 166v3h1v-3zM453 172v3h1v-3zM453 178v3h1v-3zM453 184v3h1v-3zM453 190v3h1v-3zM453 196v3h1v-3zM453 202v3h1v-3zM453 208v3h1v-3zM453 214v3h1v-3zM453 220v3h1v-3zM453 226v3h1v-3zM453 232v3h1v-3zM453 238v3h1v-3zM453 244v3h1v-3zM453 250v3h1v-3zM453 256v3h1v-3zM453 262v3h1v-3zM453 268v3h1v-3zM453 274v3h1v-3zM453 280v3h1v-3zM453 286v3h1v-3zM453 292v3h1v-3zM453 298v3h1v-3zM453 304v3h1v-3zM453 310v3h1v-3zM453 316v3h1v-3zM453 322v3h1v-3zM453 328v3h1v-3zM453 334v3h1v-3zM453 340v3h1v-3zM453 346v3h1v-3zM453 352v3h1v-3zM453 358v3h1v-3zM453 364v3h1v-3zM453 370v3h1v-3zM453 376v3h1v-3zM453 382v3h1v-3zM453 388v3h1v-3zM453 394v3h1v-3zM453 400v3h1v-3zM453 406v3h1v-3zM453 412v3h1v-3zM453 418v3h1v-3zM453 424v3h1v-3zM453 430v3h1v-3zM453 436v3h1v-3zM453 442v3h1v-3zM453 448v3h1v-3zM453 454v3h1v-3zM453 460v3h1v-3zM453 466v3h1v-3zM453 472v3h1v-3zM453 478v3h1v-3zM453 484v3h1v-3zM453 490v3h1v-3zM453 496v3h1v-3zM453 502v3h1v-3zM453 508v3h1v-3zM453 514v3h1v-3zM453 520v3h1v-3zM453 526v3h1v-3zM453 532v3h1v-3zM453 538v3h1v-3zM453 544v3h1v-3zM453 550v3h1v-3zM453 556v3h1v-3zM485 5v2h1v-2zM485 10v3h1v-3zM485 16v3h1v-3zM485 22v3h1v-3zM485 28v3h1v-3zM485 34v3h1v-3zM485 40v3h1v-3zM485 46v3h1v-3zM485 52v3h1v-3zM485 58v3h1v-3zM485 64v3h1v-3zM485 70v3h1v-3zM485 76v3h1v-3zM485 82v3h1v-3zM485 88v3h1v-3zM485 94v3h1v-3zM485 100v3h1v-3zM485 106v3h1v-3zM485 112v3h1v-3zM485 118v3h1v-3zM485 124v3h1v-3zM485 130v3h1v-3zM485 136v3h1v-3zM485 142v3h1v-3zM485 148v3h1v-3zM485 154v3h1v-3zM485 160v3h1v-3zM485 166v3h1v-3zM485 172v3h1v-3zM485 178v3h1v-3zM485 184v3h1v-3zM485 190v3h1v-3zM485 196v3h1v-3zM485 202v3h1v-3zM485 208v3h1v-3zM485 214v3h1v-3zM485 220v3h1v-3zM485 226v3h1v-3zM485 232v3h1v-3zM485 238v3h1v-3zM485 244v3h1v-3zM485 250v3h1v-3zM485 256v3h1v-3zM485 262v3h1v-3zM485 268v3h1v-3zM485 274v3h1v-3zM485 280v3h1v-3zM485 286v3h1v-3zM485 292v3h1v-3zM485 298v3h1v-3zM485 304v3h1v-3zM485 310v3h1v-3zM485 316v3h1v-3zM485 322v3h1v-3zM485 328v3h1v-3zM485 334v3h1v-3zM485 340v3h1v-3zM485 346v3h1v-3zM485 352v3h1v-3zM485 358v3h1v-3zM485 364v3h1v-3zM485 370v3h1v-3zM485 376v3h1v-3zM485 382v3h1v-3zM485 388v3h1v-3zM485 394v3h1v-3zM485 400v3h1v-3zM485 406v3h1v-3zM485 412v3h1v-3zM485 418v3h1v-3zM485 424v3h1v-3zM485 430v3h1v-3zM485 436v3h1v-3zM485 442v3h1v-3zM485 448v3h1v-3zM485 454v3h1v-3zM485 460v3h1v-3zM485 466v3h1v-3zM485 472v3h1v-3zM485 478v3h1v-3zM485 484v3h1v-3zM485 490v3h1v-3zM485 496v3h1v-3zM485 502v3h1v-3zM485 508v3h1v-3zM485 514v3h1v-3zM485 520v3h1v-3zM485 526v3h1v-3zM485 532v3h1v-3zM485 538v3h1v-3zM485 544v3h1v-3zM485 550v3h1v-3zM485 556v3h1v-3zM517 5v2h1v-2zM517 10v3h1v-3zM517 16v3h1v-3zM517 22v3h1v-3zM517 28v3h1v-3zM517 34v3h1v-3zM517 40v3h1v-3zM517 46v3h1v-3zM517 52v3h1v-3zM517 58v3h1v-3zM517 64v3h1v-3zM517 70v3h1v-3zM517 76v3h1v-3zM517 82v3h1v-3zM517 88v3h1v-3zM517 94v3h1v-3zM517 100v3h1v-3zM517 106v3h1v-3zM517 112v3h1v-3zM517 118v3h1v-3zM517 124v3h1v-3zM517 130v3h1v-3zM517 136v3h1v-3zM517 142v3h1v-3zM517 148v3h1v-3zM517 154v3h1v-3zM517 160v3h1v-3zM517 166v3h1v-3zM517 172v3h1v-3zM517 178v3h1v-3zM517 184v3h1v-3zM517 190v3h1v-3zM517 196v3h1v-3zM517 202v3h1v-3zM517 208v3h1v-3zM517 214v3h1v-3zM517 220v3h1v-3zM517 226v3h1v-3zM517 232v3h1v-3zM517 238v3h1v-3zM517 244v3h1v-3zM517 250v3h1v-3zM517 256v3h1v-3zM517 262v3h1v-3zM517 268v3h1v-3zM517 274v3h1v-3zM517 280v3h1v-3zM517 286v3h1v-3zM517 292v3h1v-3zM517 298v3h1v-3zM517 304v3h1v-3zM517 310v3h1v-3zM517 316v3h1v-3zM517 322v3h1v-3zM517 328v3h1v-3zM517 334v3h1v-3zM517 340v3h1v-3zM517 346v3h1v-3zM517 352v3h1v-3zM517 358v3h1v-3zM517 364v3h1v-3zM517 370v3h1v-3zM517 376v3h1v-3zM517 382v3h1v-3zM517 388v3h1v-3zM517 394v3h1v-3zM517 400v3h1v-3zM517 406v3h1v-3zM517 412v3h1v-3zM517 418v3h1v-3zM517 424v3h1v-3zM517 430v3h1v-3zM517 436v3h1v-3zM517 442v3h1v-3zM517 448v3h1v-3zM517 454v3h1v-3zM517 460v3h1v-3zM517 466v3h1v-3zM517 472v3h1v-3zM517 478v3h1v-3zM517 484v3h1v-3zM517 490v3h1v-3zM517 496v3h1v-3zM517 502v3h1v-3zM517 508v3h1v-3zM517 514v3h1v-3zM517 520v3h1v-3zM517 526v3h1v-3zM517 532v3h1v-3zM517 538v3h1v-3zM517 544v3h1v-3zM517 550v3h1v-3zM517 556v3h1v-3zM549 5v2h1v-2zM549 10v3h1v-3zM549 16v3h1v-3zM549 22v3h1v-3zM549 28v3h1v-3zM549 34v3h1v-3zM549 40v3h1v-3zM549 46v3h1v-3zM549 52v3h1v-3zM549 58v3h1v-3zM549 64v3h1v-3zM549 70v3h1v-3zM549 76v3h1v-3zM549 82v3h1v-3zM549 88v3h1v-3zM549 94v3h1v-3zM549 100v3h1v-3zM549 106v3h1v-3zM549 112v3h1v-3zM549 118v3h1v-3zM549 124v3h1v-3zM549 130v3h1v-3zM549 136v3h1v-3zM549 142v3h1v-3zM549 148v3h1v-3zM549 154v3h1v-3zM549 160v3h1v-3zM549 166v3h1v-3zM549 172v3h1v-3zM549 178v3h1v-3zM549 184v3h1v-3zM549 190v3h1v-3zM549 196v3h1v-3zM549 202v3h1v-3zM549 208v3h1v-3zM549 214v3h1v-3zM549 220v3h1v-3zM549 226v3h1v-3zM549 232v3h1v-3zM549 238v3h1v-3zM549 244v3h1v-3zM549 250v3h1v-3zM549 256v3h1v-3zM549 262v3h1v-3zM549 268v3h1v-3zM549 274v3h1v-3zM549 280v3h1v-3zM549 286v3h1v-3zM549 292v3h1v-3zM549 298v3h1v-3zM549 304v3h1v-3zM549 310v3h1v-3zM549 316v3h1v-3zM549 322v3h1v-3zM549 328v3h1v-3zM549 334v3h1v-3zM549 340v3h1v-3zM549 346v3h1v-3zM549 352v3h1v-3zM549 358v3h1v-3zM549 364v3h1v-3zM549 370v3h1v-3zM549 376v3h1v-3zM549 382v3h1v-3zM549 388v3h1v-3zM549 394v3h1v-3zM549 400v3h1v-3zM549 406v3h1v-3zM549 412v3h1v-3zM549 418v3h1v-3zM549 424v3h1v-3zM549 430v3h1v-3zM549 436v3h1v-3zM549 442v3h1v-3zM549 448v3h1v-3zM549 454v3h1v-3zM549 460v3h1v-3zM549 466v3h1v-3zM549 472v3h1v-3zM549 478v3h1v-3zM549 484v3h1v-3zM549 490v3h1v-3zM549 496v3h1v-3zM549 502v3h1v-3zM549 508v3h1v-3zM549 514v3h1v-3zM549 520v3h1v-3zM549 526v3h1v-3zM549 532v3h1v-3zM549 538v3h1v-3zM549 544v3h1v-3zM549 550v3h1v-3zM549 556v3h1v-3zM581 5v2h1v-2zM581 10v3h1v-3zM581 16v3h1v-3zM581 22v3h1v-3zM581 28v3h1v-3zM581 34v3h1v-3zM581 40v3h1v-3zM581 46v3h1v-3zM581 52v3h1v-3zM581 58v3h1v-3zM581 64v3h1v-3zM581 70v3h1v-3zM581 76v3h1v-3zM581 82v3h1v-3zM581 88v3h1v-3zM581 94v3h1v-3zM581 100v3h1v-3zM581 106v3h1v-3zM581 112v3h1v-3zM581 118v3h1v-3zM581 124v3h1v-3zM581 130v3h1v-3zM581 136v3h1v-3zM581 142v3h1v-3zM581 148v3h1v-3zM581 154v3h1v-3zM581 160v3h1v-3zM581 166v3h1v-3zM581 172v3h1v-3zM581 178v3h1v-3zM581 184v3h1v-3zM581 190v3h1v-3zM581 196v3h1v-3zM581 202v3h1v-3zM581 208v3h1v-3zM581 214v3h1v-3zM581 220v3h1v-3zM581 226v3h1v-3zM581 232v3h1v-3zM581 238v3h1v-3zM581 244v3h1v-3zM581 250v3h1v-3zM581 256v3h1v-3zM581 262v3h1v-3zM581 268v3h1v-3zM581 274v3h1v-3zM581 280v3h1v-3zM581 286v3h1v-3zM581 292v3h1v-3zM581 298v3h1v-3zM581 304v3h1v-3zM581 310v3h1v-3zM581 316v3h1v-3zM581 322v3h1v-3zM581 328v3h1v-3zM581 334v3h1v-3zM581 340v3h1v-3zM581 346v3h1v-3zM581 352v3h1v-3zM581 358v3h1v-3zM581 364v3h1v-3zM581 370v3h1v-3zM581 376v3h1v-3zM581 382v3h1v-3zM581 388v3h1v-3zM581 394v3h1v-3zM581 400v3h1v-3zM581 406v3h1v-3zM581 412v3h1v-3zM581 418v3h1v-3zM581 424v3h1v-3zM581 430v3h1v-3zM581 436v3h1v-3zM581 442v3h1v-3zM581 448v3h1v-3zM581 454v3h1v-3zM581 460v3h1v-3zM581 466v3h1v-3zM581 472v3h1v-3zM581 478v3h1v-3zM581 484v3h1v-3zM581 490v3h1v-3zM581 496v3h1v-3zM581 502v3h1v-3zM581 508v3h1v-3zM581 514v3h1v-3zM581 520v3h1v-3zM581 526v3h1v-3zM581 532v3h1v-3zM581 538v3h1v-3zM581 544v3h1v-3zM581 550v3h1v-3zM581 556v3h1v-3zM613 5v2h1v-2zM613 10v3h1v-3zM613 16v3h1v-3zM613 22v3h1v-3zM613 28v3h1v-3zM613 34v3h1v-3zM613 40v3h1v-3zM613 46v3h1v-3zM613 52v3h1v-3zM613 58v3h1v-3zM613 64v3h1v-3zM613 70v3h1v-3zM613 76v3h1v-3zM613 82v3h1v-3zM613 88v3h1v-3zM613 94v3h1v-3zM613 100v3h1v-3zM613 106v3h1v-3zM613 112v3h1v-3zM613 118v3h1v-3zM613 124v3h1v-3zM613 130v3h1v-3zM613 136v3h1v-3zM613 142v3h1v-3zM613 148v3h1v-3zM613 154v3h1v-3zM613 160v3h1v-3zM613 166v3h1v-3zM613 172v3h1v-3zM613 178v3h1v-3zM613 184v3h1v-3zM613 190v3h1v-3zM613 196v3h1v-3zM613 202v3h1v-3zM613 208v3h1v-3zM613 214v3h1v-3zM613 220v3h1v-3zM613 226v3h1v-3zM613 232v3h1v-3zM613 238v3h1v-3zM613 244v3h1v-3zM613 250v3h1v-3zM613 256v3h1v-3zM613 262v3h1v-3zM613 268v3h1v-3zM613 274v3h1v-3zM613 280v3h1v-3zM613 286v3h1v-3zM613 292v3h1v-3zM613 298v3h1v-3zM613 304v3h1v-3zM613 310v3h1v-3zM613 316v3h1v-3zM613 322v3h1v-3zM613 328v3h1v-3zM613 334v3h1v-3zM613 340v3h1v-3zM613 346v3h1v-3zM613 352v3h1v-3zM613 358v3h1v-3zM613 364v3h1v-3zM613 370v3h1v-3zM613 376v3h1v-3zM613 382v3h1v-3zM613 388v3h1v-3zM613 394v3h1v-3zM613 400v3h1v-3zM613 406v3h1v-3zM613 412v3h1v-3zM613 418v3h1v-3zM613 424v3h1v-3zM613 430v3h1v-3zM613 436v3h1v-3zM613 442v3h1v-3zM613 448v3h1v-3zM613 454v3h1v-3zM613 460v3h1v-3zM613 466v3h1v-3zM613 472v3h1v-3zM613 478v3h1v-3zM613 484v3h1v-3zM613 490v3h1v-3zM613 496v3h1v-3zM613 502v3h1v-3zM613 508v3h1v-3zM613 514v3h1v-3zM613 520v3h1v-3zM613 526v3h1v-3zM613 532v3h1v-3zM613 538v3h1v-3zM613 544v3h1v-3zM613 550v3h1v-3zM613 556v3h1v-3zM645 5v2h1v-2zM645 10v3h1v-3zM645 16v3h1v-3zM645 22v3h1v-3zM645 28v3h1v-3zM645 34v3h1v-3zM645 40v3h1v-3zM645 46v3h1v-3zM645 52v3h1v-3zM645 58v3h1v-3zM645 64v3h1v-3zM645 70v3h1v-3zM645 76v3h1v-3zM645 82v3h1v-3zM645 88v3h1v-3zM645 94v3h1v-3zM645 100v3h1v-3zM645 106v3h1v-3zM645 112v3h1v-3zM645 118v3h1v-3zM645 124v3h1v-3zM645 130v3h1v-3zM645 136v3h1v-3zM645 142v3h1v-3zM645 148v3h1v-3zM645 154v3h1v-3zM645 160v3h1v-3zM645 166v3h1v-3zM645 172v3h1v-3zM645 178v3h1v-3zM645 184v3h1v-3zM645 190v3h1v-3zM645 196v3h1v-3zM645 202v3h1v-3zM645 208v3h1v-3zM645 214v3h1v-3zM645 220v3h1v-3zM645 226v3h1v-3zM645 232v3h1v-3zM645 238v3h1v-3zM645 244v3h1v-3zM645 250v3h1v-3zM645 256v3h1v-3zM645 262v3h1v-3zM645 268v3h1v-3zM645 274v3h1v-3zM645 280v3h1v-3zM645 286v3h1v-3zM645 292v3h1v-3zM645 298v3h1v-3zM645 304v3h1v-3zM645 310v3h1v-3zM645 316v3h1v-3zM645 322v3h1v-3zM645 328v3h1v-3zM645 334v3h1v-3zM645 340v3h1v-3zM645 346v3h1v-3zM645 352v3h1v-3zM645 358v3h1v-3zM645 364v3h1v-3zM645 370v3h1v-3zM645 376v3h1v-3zM645 382v3h1v-3zM645 388v3h1v-3zM645 394v3h1v-3zM645 400v3h1v-3zM645 406v3h1v-3zM645 412v3h1v-3zM645 418v3h1v-3zM645 424v3h1v-3zM645 430v3h1v-3zM645 436v3h1v-3zM645 442v3h1v-3zM645 448v3h1v-3zM645 454v3h1v-3zM645 460v3h1v-3zM645 466v3h1v-3zM645 472v3h1v-3zM645 478v3h1v-3zM645 484v3h1v-3zM645 490v3h1v-3zM645 496v3h1v-3zM645 502v3h1v-3zM645 508v3h1v-3zM645 514v3h1v-3zM645 520v3h1v-3zM645 526v3h1v-3zM645 532v3h1v-3zM645 538v3h1v-3zM645 544v3h1v-3zM645 550v3h1v-3zM645 556v3h1v-3zM677 5v2h1v-2zM677 10v3h1v-3zM677 16v3h1v-3zM677 22v3h1v-3zM677 28v3h1v-3zM677 34v3h1v-3zM677 40v3h1v-3zM677 46v3h1v-3zM677 52v3h1v-3zM677 58v3h1v-3zM677 64v3h1v-3zM677 70v3h1v-3zM677 76v3h1v-3zM677 82v3h1v-3zM677 88v3h1v-3zM677 94v3h1v-3zM677 100v3h1v-3zM677 106v3h1v-3zM677 112v3h1v-3zM677 118v3h1v-3zM677 124v3h1v-3zM677 130v3h1v-3zM677 136v3h1v-3zM677 142v3h1v-3zM677 148v3h1v-3zM677 154v3h1v-3zM677 160v3h1v-3zM677 166v3h1v-3zM677 172v3h1v-3zM677 178v3h1v-3zM677 184v3h1v-3zM677 190v3h1v-3zM677 196v3h1v-3zM677 202v3h1v-3zM677 208v3h1v-3zM677 214v3h1v-3zM677 220v3h1v-3zM677 226v3h1v-3zM677 232v3h1v-3zM677 238v3h1v-3zM677 244v3h1v-3zM677 250v3h1v-3zM677 256v3h1v-3zM677 262v3h1v-3zM677 268v3h1v-3zM677 274v3h1v-3zM677 280v3h1v-3zM677 286v3h1v-3zM677 292v3h1v-3zM677 298v3h1v-3zM677 304v3h1v-3zM677 310v3h1v-3zM677 316v3h1v-3zM677 322v3h1v-3zM677 328v3h1v-3zM677 334v3h1v-3zM677 340v3h1v-3zM677 346v3h1v-3zM677 352v3h1v-3zM677 358v3h1v-3zM677 364v3h1v-3zM677 370v3h1v-3zM677 376v3h1v-3zM677 382v3h1v-3zM677 388v3h1v-3zM677 394v3h1v-3zM677 400v3h1v-3zM677 406v3h1v-3zM677 412v3h1v-3zM677 418v3h1v-3zM677 424v3h1v-3zM677 430v3h1v-3zM677 436v3h1v-3zM677 442v3h1v-3zM677 448v3h1v-3zM677 454v3h1v-3zM677 460v3h1v-3zM677 466v3h1v-3zM677 472v3h1v-3zM677 478v3h1v-3zM677 484v3h1v-3zM677 490v3h1v-3zM677 496v3h1v-3zM677 502v3h1v-3zM677 508v3h1v-3zM677 514v3h1v-3zM677 520v3h1v-3zM677 526v3h1v-3zM677 532v3h1v-3zM677 538v3h1v-3zM677 544v3h1v-3zM677 550v3h1v-3zM677 556v3h1v-3zM709 5v2h1v-2zM709 10v3h1v-3zM709 16v3h1v-3zM709 22v3h1v-3zM709 28v3h1v-3zM709 34v3h1v-3zM709 40v3h1v-3zM709 46v3h1v-3zM709 52v3h1v-3zM709 58v3h1v-3zM709 64v3h1v-3zM709 70v3h1v-3zM709 76v3h1v-3zM709 82v3h1v-3zM709 88v3h1v-3zM709 94v3h1v-3zM709 100v3h1v-3zM709 106v3h1v-3zM709 112v3h1v-3zM709 118v3h1v-3zM709 124v3h1v-3zM709 130v3h1v-3zM709 136v3h1v-3zM709 142v3h1v-3zM709 148v3h1v-3zM709 154v3h1v-3zM709 160v3h1v-3zM709 166v3h1v-3zM709 172v3h1v-3zM709 178v3h1v-3zM709 184v3h1v-3zM709 190v3h1v-3zM709 196v3h1v-3zM709 202v3h1v-3zM709 208v3h1v-3zM709 214v3h1v-3zM709 220v3h1v-3zM709 226v3h1v-3zM709 232v3h1v-3zM709 238v3h1v-3zM709 244v3h1v-3zM709 250v3h1v-3zM709 256v3h1v-3zM709 262v3h1v-3zM709 268v3h1v-3zM709 274v3h1v-3zM709 280v3h1v-3zM709 286v3h1v-3zM709 292v3h1v-3zM709 298v3h1v-3zM709 304v3h1v-3zM709 310v3h1v-3zM709 316v3h1v-3zM709 322v3h1v-3zM709 328v3h1v-3zM709 334v3h1v-3zM709 340v3h1v-3zM709 346v3h1v-3zM709 352v3h1v-3zM709 358v3h1v-3zM709 364v3h1v-3zM709 370v3h1v-3zM709 376v3h1v-3zM709 382v3h1v-3zM709 388v3h1v-3zM709 394v3h1v-3zM709 400v3h1v-3zM709 406v3h1v-3zM709 412v3h1v-3zM709 418v3h1v-3zM709 424v3h1v-3zM709 430v3h1v-3zM709 436v3h1v-3zM709 442v3h1v-3zM709 448v3h1v-3zM709 454v3h1v-3zM709 460v3h1v-3zM709 466v3h1v-3zM709 472v3h1v-3zM709 478v3h1v-3zM709 484v3h1v-3zM709 490v3h1v-3zM709 496v3h1v-3zM709 502v3h1v-3zM709 508v3h1v-3zM709 514v3h1v-3zM709 520v3h1v-3zM709 526v3h1v-3zM709 532v3h1v-3zM709 538v3h1v-3zM709 544v3h1v-3zM709 550v3h1v-3zM709 556v3h1v-3zM741 5v2h1v-2zM741 10v3h1v-3zM741 16v3h1v-3zM741 22v3h1v-3zM741 28v3h1v-3zM741 34v3h1v-3zM741 40v3h1v-3zM741 46v3h1v-3zM741 52v3h1v-3zM741 58v3h1v-3zM741 64v3h1v-3zM741 70v3h1v-3zM741 76v3h1v-3zM741 82v3h1v-3zM741 88v3h1v-3zM741 94v3h1v-3zM741 100v3h1v-3zM741 106v3h1v-3zM741 112v3h1v-3zM741 118v3h1v-3zM741 124v3h1v-3zM741 130v3h1v-3zM741 136v3h1v-3zM741 142v3h1v-3zM741 148v3h1v-3zM741 154v3h1v-3zM741 160v3h1v-3zM741 166v3h1v-3zM741 172v3h1v-3zM741 178v3h1v-3zM741 184v3h1v-3zM741 190v3h1v-3zM741 196v3h1v-3zM741 202v3h1v-3zM741 208v3h1v-3zM741 214v3h1v-3zM741 220v3h1v-3zM741 226v3h1v-3zM741 232v3h1v-3zM741 238v3h1v-3zM741 244v3h1v-3zM741 250v3h1v-3zM741 256v3h1v-3zM741 262v3h1v-3zM741 268v3h1v-3zM741 274v3h1v-3zM741 280v3h1v-3zM741 286v3h1v-3zM741 292v3h1v-3zM741 298v3h1v-3zM741 304v3h1v-3zM741 310v3h1v-3zM741 316v3h1v-3zM741 322v3h1v-3zM741 328v3h1v-3zM741 334v3h1v-3zM741 340v3h1v-3zM741 346v3h1v-3zM741 352v3h1v-3zM741 358v3h1v-3zM741 364v3h1v-3zM741 370v3h1v-3zM741 376v3h1v-3zM741 382v3h1v-3zM741 388v3h1v-3zM741 394v3h1v-3zM741 400v3h1v-3zM741 406v3h1v-3zM741 412v3h1v-3zM741 418v3h1v-3zM741 424v3h1v-3zM741 430v3h1v-3zM741 436v3h1v-3zM741 442v3h1v-3zM741 448v3h1v-3zM741 454v3h1v-3zM741 460v3h1v-3zM741 466v3h1v-3zM741 472v3h1v-3zM741 478v3h1v-3zM741 484v3h1v-3zM741 490v3h1v-3zM741 496v3h1v-3zM741 502v3h1v-3zM741 508v3h1v-3zM741 514v3h1v-3zM741 520v3h1v-3zM741 526v3h1v-3zM741 532v3h1v-3zM741 538v3h1v-3zM741 544v3h1v-3zM741 550v3h1v-3zM741 556v3h1v-3zM773 5v2h1v-2zM773 10v3h1v-3zM773 16v3h1v-3zM773 22v3h1v-3zM773 28v3h1v-3zM773 34v3h1v-3zM773 40v3h1v-3zM773 46v3h1v-3zM773 52v3h1v-3zM773 58v3h1v-3zM773 64v3h1v-3zM773 70v3h1v-3zM773 76v3h1v-3zM773 82v3h1v-3zM773 88v3h1v-3zM773 94v3h1v-3zM773 100v3h1v-3zM773 106v3h1v-3zM773 112v3h1v-3zM773 118v3h1v-3zM773 124v3h1v-3zM773 130v3h1v-3zM773 136v3h1v-3zM773 142v3h1v-3zM773 148v3h1v-3zM773 154v3h1v-3zM773 160v3h1v-3zM773 166v3h1v-3zM773 172v3h1v-3zM773 178v3h1v-3zM773 184v3h1v-3zM773 190v3h1v-3zM773 196v3h1v-3zM773 202v3h1v-3zM773 208v3h1v-3zM773 214v3h1v-3zM773 220v3h1v-3zM773 226v3h1v-3zM773 232v3h1v-3zM773 238v3h1v-3zM773 244v3h1v-3zM773 250v3h1v-3zM773 256v3h1v-3zM773 262v3h1v-3zM773 268v3h1v-3zM773 274v3h1v-3zM773 280v3h1v-3zM773 286v3h1v-3zM773 292v3h1v-3zM773 298v3h1v-3zM773 304v3h1v-3zM773 310v3h1v-3zM773 316v3h1v-3zM773 322v3h1v-3zM773 328v3h1v-3zM773 334v3h1v-3zM773 340v3h1v-3zM773 346v3h1v-3zM773 352v3h1v-3zM773 358v3h1v-3zM773 364v3h1v-3zM773 370v3h1v-3zM773 376v3h1v-3zM773 382v3h1v-3zM773 388v3h1v-3zM773 394v3h1v-3zM773 400v3h1v-3zM773 406v3h1v-3zM773 412v3h1v-3zM773 418v3h1v-3zM773 424v3h1v-3zM773 430v3h1v-3zM773 436v3h1v-3zM773 442v3h1v-3zM773 448v3h1v-3zM773 454v3h1v-3zM773 460v3h1v-3zM773 466v3h1v-3zM773 472v3h1v-3zM773 478v3h1v-3zM773 484v3h1v-3zM773 490v3h1v-3zM773 496v3h1v-3zM773 502v3h1v-3zM773 508v3h1v-3zM773 514v3h1v-3zM773 520v3h1v-3zM773 526v3h1v-3zM773 532v3h1v-3zM773 538v3h1v-3zM773 544v3h1v-3zM773 550v3h1v-3zM773 556v3h1v-3zM805 5v2h1v-2zM805 10v3h1v-3zM805 16v3h1v-3zM805 22v3h1v-3zM805 28v3h1v-3zM805 34v3h1v-3zM805 40v3h1v-3zM805 46v3h1v-3zM805 52v3h1v-3zM805 58v3h1v-3zM805 64v3h1v-3zM805 70v3h1v-3zM805 76v3h1v-3zM805 82v3h1v-3zM805 88v3h1v-3zM805 94v3h1v-3zM805 100v3h1v-3zM805 106v3h1v-3zM805 112v3h1v-3zM805 118v3h1v-3zM805 124v3h1v-3zM805 130v3h1v-3zM805 136v3h1v-3zM805 142v3h1v-3zM805 148v3h1v-3zM805 154v3h1v-3zM805 160v3h1v-3zM805 166v3h1v-3zM805 172v3h1v-3zM805 178v3h1v-3zM805 184v3h1v-3zM805 190v3h1v-3zM805 196v3h1v-3zM805 202v3h1v-3zM805 208v3h1v-3zM805 214v3h1v-3zM805 220v3h1v-3zM805 226v3h1v-3zM805 232v3h1v-3zM805 238v3h1v-3zM805 244v3h1v-3zM805 250v3h1v-3zM805 256v3h1v-3zM805 262v3h1v-3zM805 268v3h1v-3zM805 274v3h1v-3zM805 280v3h1v-3zM805 286v3h1v-3zM805 292v3h1v-3zM805 298v3h1v-3zM805 304v3h1v-3zM805 310v3h1v-3zM805 316v3h1v-3zM805 322v3h1v-3zM805 328v3h1v-3zM805 334v3h1v-3zM805 340v3h1v-3zM805 346v3h1v-3zM805 352v3h1v-3zM805 358v3h1v-3zM805 364v3h1v-3zM805 370v3h1v-3zM805 376v3h1v-3zM805 382v3h1v-3zM805 388v3h1v-3zM805 394v3h1v-3zM805 400v3h1v-3zM805 406v3h1v-3zM805 412v3h1v-3zM805 418v3h1v-3zM805 424v3h1v-3zM805 430v3h1v-3zM805 436v3h1v-3zM805 442v3h1v-3zM805 448v3h1v-3zM805 454v3h1v-3zM805 460v3h1v-3zM805 466v3h1v-3zM805 472v3h1v-3zM805 478v3h1v-3zM805 484v3h1v-3zM805 490v3h1v-3zM805 496v3h1v-3zM805 502v3h1v-3zM805 508v3h1v-3zM805 514v3h1v-3zM805 520v3h1v-3zM805 526v3h1v-3zM805 532v3h1v-3zM805 538v3h1v-3zM805 544v3h1v-3zM805 550v3h1v-3zM805 556v3h1v-3zM837 5v2h1v-2zM837 10v3h1v-3zM837 16v3h1v-3zM837 22v3h1v-3zM837 28v3h1v-3zM837 34v3h1v-3zM837 40v3h1v-3zM837 46v3h1v-3zM837 52v3h1v-3zM837 58v3h1v-3zM837 64v3h1v-3zM837 70v3h1v-3zM837 76v3h1v-3zM837 82v3h1v-3zM837 88v3h1v-3zM837 94v3h1v-3zM837 100v3h1v-3zM837 106v3h1v-3zM837 112v3h1v-3zM837 118v3h1v-3zM837 124v3h1v-3zM837 130v3h1v-3zM837 136v3h1v-3zM837 142v3h1v-3zM837 148v3h1v-3zM837 154v3h1v-3zM837 160v3h1v-3zM837 166v3h1v-3zM837 172v3h1v-3zM837 178v3h1v-3zM837 184v3h1v-3zM837 190v3h1v-3zM837 196v3h1v-3zM837 202v3h1v-3zM837 208v3h1v-3zM837 214v3h1v-3zM837 220v3h1v-3zM837 226v3h1v-3zM837 232v3h1v-3zM837 238v3h1v-3zM837 244v3h1v-3zM837 250v3h1v-3zM837 256v3h1v-3zM837 262v3h1v-3zM837 268v3h1v-3zM837 274v3h1v-3zM837 280v3h1v-3zM837 286v3h1v-3zM837 292v3h1v-3zM837 298v3h1v-3zM837 304v3h1v-3zM837 310v3h1v-3zM837 316v3h1v-3zM837 322v3h1v-3zM837 328v3h1v-3zM837 334v3h1v-3zM837 340v3h1v-3zM837 346v3h1v-3zM837 352v3h1v-3zM837 358v3h1v-3zM837 364v3h1v-3zM837 370v3h1v-3zM837 376v3h1v-3zM837 382v3h1v-3zM837 388v3h1v-3zM837 394v3h1v-3zM837 400v3h1v-3zM837 406v3h1v-3zM837 412v3h1v-3zM837 418v3h1v-3zM837 424v3h1v-3zM837 430v3h1v-3zM837 436v3h1v-3zM837 442v3h1v-3zM837 448v3h1v-3zM837 454v3h1v-3zM837 460v3h1v-3zM837 466v3h1v-3zM837 472v3h1v-3zM837 478v3h1v-3zM837 484v3h1v-3zM837 490v3h1v-3zM837 496v3h1v-3zM837 502v3h1v-3zM837 508v3h1v-3zM837 514v3h1v-3zM837 520v3h1v-3zM837 526v3h1v-3zM837 532v3h1v-3zM837 538v3h1v-3zM837 544v3h1v-3zM837 550v3h1v-3zM837 556v3h1v-3zM869 5v2h1v-2zM869 10v3h1v-3zM869 16v3h1v-3zM869 22v3h1v-3zM869 28v3h1v-3zM869 34v3h1v-3zM869 40v3h1v-3zM869 46v3h1v-3zM869 52v3h1v-3zM869 58v3h1v-3zM869 64v3h1v-3zM869 70v3h1v-3zM869 76v3h1v-3zM869 82v3h1v-3zM869 88v3h1v-3zM869 94v3h1v-3zM869 100v3h1v-3zM869 106v3h1v-3zM869 112v3h1v-3zM869 118v3h1v-3zM869 124v3h1v-3zM869 130v3h1v-3zM869 136v3h1v-3zM869 142v3h1v-3zM869 148v3h1v-3zM869 154v3h1v-3zM869 160v3h1v-3zM869 166v3h1v-3zM869 172v3h1v-3zM869 178v3h1v-3zM869 184v3h1v-3zM869 190v3h1v-3zM869 196v3h1v-3zM869 202v3h1v-3zM869 208v3h1v-3zM869 214v3h1v-3zM869 220v3h1v-3zM869 226v3h1v-3zM869 232v3h1v-3zM869 238v3h1v-3zM869 244v3h1v-3zM869 250v3h1v-3zM869 256v3h1v-3zM869 262v3h1v-3zM869 268v3h1v-3zM869 274v3h1v-3zM869 280v3h1v-3zM869 286v3h1v-3zM869 292v3h1v-3zM869 298v3h1v-3zM869 304v3h1v-3zM869 310v3h1v-3zM869 316v3h1v-3zM869 322v3h1v-3zM869 328v3h1v-3zM869 334v3h1v-3zM869 340v3h1v-3zM869 346v3h1v-3zM869 352v3h1v-3zM869 358v3h1v-3zM869 364v3h1v-3zM869 370v3h1v-3zM869 376v3h1v-3zM869 382v3h1v-3zM869 388v3h1v-3zM869 394v3h1v-3zM869 400v3h1v-3zM869 406v3h1v-3zM869 412v3h1v-3zM869 418v3h1v-3zM869 424v3h1v-3zM869 430v3h1v-3zM869 436v3h1v-3zM869 442v3h1v-3zM869 448v3h1v-3zM869 454v3h1v-3zM869 460v3h1v-3zM869 466v3h1v-3zM869 472v3h1v-3zM869 478v3h1v-3zM869 484v3h1v-3zM869 490v3h1v-3zM869 496v3h1v-3zM869 502v3h1v-3zM869 508v3h1v-3zM869 514v3h1v-3zM869 520v3h1v-3zM869 526v3h1v-3zM869 532v3h1v-3zM869 538v3h1v-3zM869 544v3h1v-3zM869 550v3h1v-3zM869 556v3h1v-3zM901 5v2h1v-2zM901 10v3h1v-3zM901 16v3h1v-3zM901 22v3h1v-3zM901 28v3h1v-3zM901 34v3h1v-3zM901 40v3h1v-3zM901 46v3h1v-3zM901 52v3h1v-3zM901 58v3h1v-3zM901 64v3h1v-3zM901 70v3h1v-3zM901 76v3h1v-3zM901 82v3h1v-3zM901 88v3h1v-3zM901 94v3h1v-3zM901 100v3h1v-3zM901 106v3h1v-3zM901 112v3h1v-3zM901 118v3h1v-3zM901 124v3h1v-3zM901 130v3h1v-3zM901 136v3h1v-3zM901 142v3h1v-3zM901 148v3h1v-3zM901 154v3h1v-3zM901 160v3h1v-3zM901 166v3h1v-3zM901 172v3h1v-3zM901 178v3h1v-3zM901 184v3h1v-3zM901 190v3h1v-3zM901 196v3h1v-3zM901 202v3h1v-3zM901 208v3h1v-3zM901 214v3h1v-3zM901 220v3h1v-3zM901 226v3h1v-3zM901 232v3h1v-3zM901 238v3h1v-3zM901 244v3h1v-3zM901 250v3h1v-3zM901 256v3h1v-3zM901 262v3h1v-3zM901 268v3h1v-3zM901 274v3h1v-3zM901 280v3h1v-3zM901 286v3h1v-3zM901 292v3h1v-3zM901 298v3h1v-3zM901 304v3h1v-3zM901 310v3h1v-3zM901 316v3h1v-3zM901 322v3h1v-3zM901 328v3h1v-3zM901 334v3h1v-3zM901 340v3h1v-3zM901 346v3h1v-3zM901 352v3h1v-3zM901 358v3h1v-3zM901 364v3h1v-3zM901 370v3h1v-3zM901 376v3h1v-3zM901 382v3h1v-3zM901 388v3h1v-3zM901 394v3h1v-3zM901 400v3h1v-3zM901 406v3h1v-3zM901 412v3h1v-3zM901 418v3h1v-3zM901 424v3h1v-3zM901 430v3h1v-3zM901 436v3h1v-3zM901 442v3h1v-3zM901 448v3h1v-3zM901 454v3h1v-3zM901 460v3h1v-3zM901 466v3h1v-3zM901 472v3h1v-3zM901 478v3h1v-3zM901 484v3h1v-3zM901 490v3h1v-3zM901 496v3h1v-3zM901 502v3h1v-3zM901 508v3h1v-3zM901 514v3h1v-3zM901 520v3h1v-3zM901 526v3h1v-3zM901 532v3h1v-3zM901 538v3h1v-3zM901 544v3h1v-3zM901 550v3h1v-3zM901 556v3h1v-3zM933 5v2h1v-2zM933 10v3h1v-3zM933 16v3h1v-3zM933 22v3h1v-3zM933 28v3h1v-3zM933 34v3h1v-3zM933 40v3h1v-3zM933 46v3h1v-3zM933 52v3h1v-3zM933 58v3h1v-3zM933 64v3h1v-3zM933 70v3h1v-3zM933 76v3h1v-3zM933 82v3h1v-3zM933 88v3h1v-3zM933 94v3h1v-3zM933 100v3h1v-3zM933 106v3h1v-3zM933 112v3h1v-3zM933 118v3h1v-3zM933 124v3h1v-3zM933 130v3h1v-3zM933 136v3h1v-3zM933 142v3h1v-3zM933 148v3h1v-3zM933 154v3h1v-3zM933 160v3h1v-3zM933 166v3h1v-3zM933 172v3h1v-3zM933 178v3h1v-3zM933 184v3h1v-3zM933 190v3h1v-3zM933 196v3h1v-3zM933 202v3h1v-3zM933 208v3h1v-3zM933 214v3h1v-3zM933 220v3h1v-3zM933 226v3h1v-3zM933 232v3h1v-3zM933 238v3h1v-3zM933 244v3h1v-3zM933 250v3h1v-3zM933 256v3h1v-3zM933 262v3h1v-3zM933 268v3h1v-3zM933 274v3h1v-3zM933 280v3h1v-3zM933 286v3h1v-3zM933 292v3h1v-3zM933 298v3h1v-3zM933 304v3h1v-3zM933 310v3h1v-3zM933 316v3h1v-3zM933 322v3h1v-3zM933 328v3h1v-3zM933 334v3h1v-3zM933 340v3h1v-3zM933 346v3h1v-3zM933 352v3h1v-3zM933 358v3h1v-3zM933 364v3h1v-3zM933 370v3h1v-3zM933 376v3h1v-3zM933 382v3h1v-3zM933 388v3h1v-3zM933 394v3h1v-3zM933 400v3h1v-3zM933 406v3h1v-3zM933 412v3h1v-3zM933 418v3h1v-3zM933 424v3h1v-3zM933 430v3h1v-3zM933 436v3h1v-3zM933 442v3h1v-3zM933 448v3h1v-3zM933 454v3h1v-3zM933 460v3h1v-3zM933 466v3h1v-3zM933 472v3h1v-3zM933 478v3h1v-3zM933 484v3h1v-3zM933 490v3h1v-3zM933 496v3h1v-3zM933 502v3h1v-3zM933 508v3h1v-3zM933 514v3h1v-3zM933 520v3h1v-3zM933 526v3h1v-3zM933 532v3h1v-3zM933 538v3h1v-3zM933 544v3h1v-3zM933 550v3h1v-3zM933 556v3h1v-3zM965 5v2h1v-2zM965 10v3h1v-3zM965 16v3h1v-3zM965 22v3h1v-3zM965 28v3h1v-3zM965 34v3h1v-3zM965 40v3h1v-3zM965 46v3h1v-3zM965 52v3h1v-3zM965 58v3h1v-3zM965 64v3h1v-3zM965 70v3h1v-3zM965 76v3h1v-3zM965 82v3h1v-3zM965 88v3h1v-3zM965 94v3h1v-3zM965 100v3h1v-3zM965 106v3h1v-3zM965 112v3h1v-3zM965 118v3h1v-3zM965 124v3h1v-3zM965 130v3h1v-3zM965 136v3h1v-3zM965 142v3h1v-3zM965 148v3h1v-3zM965 154v3h1v-3zM965 160v3h1v-3zM965 166v3h1v-3zM965 172v3h1v-3zM965 178v3h1v-3zM965 184v3h1v-3zM965 190v3h1v-3zM965 196v3h1v-3zM965 202v3h1v-3zM965 208v3h1v-3zM965 214v3h1v-3zM965 220v3h1v-3zM965 226v3h1v-3zM965 232v3h1v-3zM965 238v3h1v-3zM965 244v3h1v-3zM965 250v3h1v-3zM965 256v3h1v-3zM965 262v3h1v-3zM965 268v3h1v-3zM965 274v3h1v-3zM965 280v3h1v-3zM965 286v3h1v-3zM965 292v3h1v-3zM965 298v3h1v-3zM965 304v3h1v-3zM965 310v3h1v-3zM965 316v3h1v-3zM965 322v3h1v-3zM965 328v3h1v-3zM965 334v3h1v-3zM965 340v3h1v-3zM965 346v3h1v-3zM965 352v3h1v-3zM965 358v3h1v-3zM965 364v3h1v-3zM965 370v3h1v-3zM965 376v3h1v-3zM965 382v3h1v-3zM965 388v3h1v-3zM965 394v3h1v-3zM965 400v3h1v-3zM965 406v3h1v-3zM965 412v3h1v-3zM965 418v3h1v-3zM965 424v3h1v-3zM965 430v3h1v-3zM965 436v3h1v-3zM965 442v3h1v-3zM965 448v3h1v-3zM965 454v3h1v-3zM965 460v3h1v-3zM965 466v3h1v-3zM965 472v3h1v-3zM965 478v3h1v-3zM965 484v3h1v-3zM965 490v3h1v-3zM965 496v3h1v-3zM965 502v3h1v-3zM965 508v3h1v-3zM965 514v3h1v-3zM965 520v3h1v-3zM965 526v3h1v-3zM965 532v3h1v-3zM965 538v3h1v-3zM965 544v3h1v-3zM965 550v3h1v-3zM965 556v3h1v-3zM997 5v2h1v-2zM997 10v3h1v-3zM997 16v3h1v-3zM997 22v3h1v-3zM997 28v3h1v-3zM997 34v3h1v-3zM997 40v3h1v-3zM997 46v3h1v-3zM997 52v3h1v-3zM997 58v3h1v-3zM997 64v3h1v-3zM997 70v3h1v-3zM997 76v3h1v-3zM997 82v3h1v-3zM997 88v3h1v-3zM997 94v3h1v-3zM997 100v3h1v-3zM997 106v3h1v-3zM997 112v3h1v-3zM997 118v3h1v-3zM997 124v3h1v-3zM997 130v3h1v-3zM997 136v3h1v-3zM997 142v3h1v-3zM997 148v3h1v-3zM997 154v3h1v-3zM997 160v3h1v-3zM997 166v3h1v-3zM997 172v3h1v-3zM997 178v3h1v-3zM997 184v3h1v-3zM997 190v3h1v-3zM997 196v3h1v-3zM997 202v3h1v-3zM997 208v3h1v-3zM997 214v3h1v-3zM997 220v3h1v-3zM997 226v3h1v-3zM997 232v3h1v-3zM997 238v3h1v-3zM997 244v3h1v-3zM997 250v3h1v-3zM997 256v3h1v-3zM997 262v3h1v-3zM997 268v3h1v-3zM997 274v3h1v-3zM997 280v3h1v-3zM997 286v3h1v-3zM997 292v3h1v-3zM997 298v3h1v-3zM997 304v3h1v-3zM997 310v3h1v-3zM997 316v3h1v-3zM997 322v3h1v-3zM997 328v3h1v-3zM997 334v3h1v-3zM997 340v3h1v-3zM997 346v3h1v-3zM997 352v3h1v-3zM997 358v3h1v-3zM997 364v3h1v-3zM997 370v3h1v-3zM997 376v3h1v-3zM997 382v3h1v-3zM997 388v3h1v-3zM997 394v3h1v-3zM997 400v3h1v-3zM997 406v3h1v-3zM997 412v3h1v-3zM997 418v3h1v-3zM997 424v3h1v-3zM997 430v3h1v-3zM997 436v3h1v-3zM997 442v3h1v-3zM997 448v3h1v-3zM997 454v3h1v-3zM997 460v3h1v-3zM997 466v3h1v-3zM997 472v3h1v-3zM997 478v3h1v-3zM997 484v3h1v-3zM997 490v3h1v-3zM997 496v3h1v-3zM997 502v3h1v-3zM997 508v3h1v-3zM997 514v3h1v-3zM997 520v3h1v-3zM997 526v3h1v-3zM997 532v3h1v-3zM997 538v3h1v-3zM997 544v3h1v-3zM997 550v3h1v-3zM997 556v3h1v-3zM1029 5v2h1v-2zM1029 10v3h1v-3zM1029 16v3h1v-3zM1029 22v3h1v-3zM1029 28v3h1v-3zM1029 34v3h1v-3zM1029 40v3h1v-3zM1029 46v3h1v-3zM1029 52v3h1v-3zM1029 58v3h1v-3zM1029 64v3h1v-3zM1029 70v3h1v-3zM1029 76v3h1v-3zM1029 82v3h1v-3zM1029 88v3h1v-3zM1029 94v3h1v-3zM1029 100v3h1v-3zM1029 106v3h1v-3zM1029 112v3h1v-3zM1029 118v3h1v-3zM1029 124v3h1v-3zM1029 130v3h1v-3zM1029 136v3h1v-3zM1029 142v3h1v-3zM1029 148v3h1v-3zM1029 154v3h1v-3zM1029 160v3h1v-3zM1029 166v3h1v-3zM1029 172v3h1v-3zM1029 178v3h1v-3zM1029 184v3h1v-3zM1029 190v3h1v-3zM1029 196v3h1v-3zM1029 202v3h1v-3zM1029 208v3h1v-3zM1029 214v3h1v-3zM1029 220v3h1v-3zM1029 226v3h1v-3zM1029 232v3h1v-3zM1029 238v3h1v-3zM1029 244v3h1v-3zM1029 250v3h1v-3zM1029 256v3h1v-3zM1029 262v3h1v-3zM1029 268v3h1v-3zM1029 274v3h1v-3zM1029 280v3h1v-3zM1029 286v3h1v-3zM1029 292v3h1v-3zM1029 298v3h1v-3zM1029 304v3h1v-3zM1029 310v3h1v-3zM1029 316v3h1v-3zM1029 322v3h1v-3zM1029 328v3h1v-3zM1029 334v3h1v-3zM1029 340v3h1v-3zM1029 346v3h1v-3zM1029 352v3h1v-3zM1029 358v3h1v-3zM1029 364v3h1v-3zM1029 370v3h1v-3zM1029 376v3h1v-3zM1029 382v3h1v-3zM1029 388v3h1v-3zM1029 394v3h1v-3zM1029 400v3h1v-3zM1029 406v3h1v-3zM1029 412v3h1v-3zM1029 418v3h1v-3zM1029 424v3h1v-3zM1029 430v3h1v-3zM1029 436v3h1v-3zM1029 442v3h1v-3zM1029 448v3h1v-3zM1029 454v3h1v-3zM1029 460v3h1v-3zM1029 466v3h1v-3zM1029 472v3h1v-3zM1029 478v3h1v-3zM1029 484v3h1v-3zM1029 490v3h1v-3zM1029 496v3h1v-3zM1029 502v3h1v-3zM1029 508v3h1v-3zM1029 514v3h1v-3zM1029 520v3h1v-3zM1029 526v3h1v-3zM1029 532v3h1v-3zM1029 538v3h1v-3zM1029 544v3h1v-3zM1029 550v3h1v-3zM1029 556v3h1v-3zM1061 5v2h1v-2zM1061 10v3h1v-3zM1061 16v3h1v-3zM1061 22v3h1v-3zM1061 28v3h1v-3zM1061 34v3h1v-3zM1061 40v3h1v-3zM1061 46v3h1v-3zM1061 52v3h1v-3zM1061 58v3h1v-3zM1061 64v3h1v-3zM1061 70v3h1v-3zM1061 76v3h1v-3zM1061 82v3h1v-3zM1061 88v3h1v-3zM1061 94v3h1v-3zM1061 100v3h1v-3zM1061 106v3h1v-3zM1061 112v3h1v-3zM1061 118v3h1v-3zM1061 124v3h1v-3zM1061 130v3h1v-3zM1061 136v3h1v-3zM1061 142v3h1v-3zM1061 148v3h1v-3zM1061 154v3h1v-3zM1061 160v3h1v-3zM1061 166v3h1v-3zM1061 172v3h1v-3zM1061 178v3h1v-3zM1061 184v3h1v-3zM1061 190v3h1v-3zM1061 196v3h1v-3zM1061 202v3h1v-3zM1061 208v3h1v-3zM1061 214v3h1v-3zM1061 220v3h1v-3zM1061 226v3h1v-3zM1061 232v3h1v-3zM1061 238v3h1v-3zM1061 244v3h1v-3zM1061 250v3h1v-3zM1061 256v3h1v-3zM1061 262v3h1v-3zM1061 268v3h1v-3zM1061 274v3h1v-3zM1061 280v3h1v-3zM1061 286v3h1v-3zM1061 292v3h1v-3zM1061 298v3h1v-3zM1061 304v3h1v-3zM1061 310v3h1v-3zM1061 316v3h1v-3zM1061 322v3h1v-3zM1061 328v3h1v-3zM1061 334v3h1v-3zM1061 340v3h1v-3zM1061 346v3h1v-3zM1061 352v3h1v-3zM1061 358v3h1v-3zM1061 364v3h1v-3zM1061 370v3h1v-3zM1061 376v3h1v-3zM1061 382v3h1v-3zM1061 388v3h1v-3zM1061 394v3h1v-3zM1061 400v3h1v-3zM1061 406v3h1v-3zM1061 412v3h1v-3zM1061 418v3h1v-3zM1061 424v3h1v-3zM1061 430v3h1v-3zM1061 436v3h1v-3zM1061 442v3h1v-3zM1061 448v3h1v-3zM1061 454v3h1v-3zM1061 460v3h1v-3zM1061 466v3h1v-3zM1061 472v3h1v-3zM1061 478v3h1v-3zM1061 484v3h1v-3zM1061 490v3h1v-3zM1061 496v3h1v-3zM1061 502v3h1v-3zM1061 508v3h1v-3zM1061 514v3h1v-3zM1061 520v3h1v-3zM1061 526v3h1v-3zM1061 532v3h1v-3zM1061 538v3h1v-3zM1061 544v3h1v-3zM1061 550v3h1v-3zM1061 556v3h1v-3zM1093 5v2h1v-2zM1093 10v3h1v-3zM1093 16v3h1v-3zM1093 22v3h1v-3zM1093 28v3h1v-3zM1093 34v3h1v-3zM1093 40v3h1v-3zM1093 46v3h1v-3zM1093 52v3h1v-3zM1093 58v3h1v-3zM1093 64v3h1v-3zM1093 70v3h1v-3zM1093 76v3h1v-3zM1093 82v3h1v-3zM1093 88v3h1v-3zM1093 94v3h1v-3zM1093 100v3h1v-3zM1093 106v3h1v-3zM1093 112v3h1v-3zM1093 118v3h1v-3zM1093 124v3h1v-3zM1093 130v3h1v-3zM1093 136v3h1v-3zM1093 142v3h1v-3zM1093 148v3h1v-3zM1093 154v3h1v-3zM1093 160v3h1v-3zM1093 166v3h1v-3zM1093 172v3h1v-3zM1093 178v3h1v-3zM1093 184v3h1v-3zM1093 190v3h1v-3zM1093 196v3h1v-3zM1093 202v3h1v-3zM1093 208v3h1v-3zM1093 214v3h1v-3zM1093 220v3h1v-3zM1093 226v3h1v-3zM1093 232v3h1v-3zM1093 238v3h1v-3zM1093 244v3h1v-3zM1093 250v3h1v-3zM1093 256v3h1v-3zM1093 262v3h1v-3zM1093 268v3h1v-3zM1093 274v3h1v-3zM1093 280v3h1v-3zM1093 286v3h1v-3zM1093 292v3h1v-3zM1093 298v3h1v-3zM1093 304v3h1v-3zM1093 310v3h1v-3zM1093 316v3h1v-3zM1093 322v3h1v-3zM1093 328v3h1v-3zM1093 334v3h1v-3zM1093 340v3h1v-3zM1093 346v3h1v-3zM1093 352v3h1v-3zM1093 358v3h1v-3zM1093 364v3h1v-3zM1093 370v3h1v-3zM1093 376v3h1v-3zM1093 382v3h1v-3zM1093 388v3h1v-3zM1093 394v3h1v-3zM1093 400v3h1v-3zM1093 406v3h1v-3zM1093 412v3h1v-3zM1093 418v3h1v-3zM1093 424v3h1v-3zM1093 430v3h1v-3zM1093 436v3h1v-3zM1093 442v3h1v-3zM1093 448v3h1v-3zM1093 454v3h1v-3zM1093 460v3h1v-3zM1093 466v3h1v-3zM1093 472v3h1v-3zM1093 478v3h1v-3zM1093 484v3h1v-3zM1093 490v3h1v-3zM1093 496v3h1v-3zM1093 502v3h1v-3zM1093 508v3h1v-3zM1093 514v3h1v-3zM1093 520v3h1v-3zM1093 526v3h1v-3zM1093 532v3h1v-3zM1093 538v3h1v-3zM1093 544v3h1v-3zM1093 550v3h1v-3zM1093 556v3h1v-3zM1125 5v2h1v-2zM1125 10v3h1v-3zM1125 16v3h1v-3zM1125 22v3h1v-3zM1125 28v3h1v-3zM1125 34v3h1v-3zM1125 40v3h1v-3zM1125 46v3h1v-3zM1125 52v3h1v-3zM1125 58v3h1v-3zM1125 64v3h1v-3zM1125 70v3h1v-3zM1125 76v3h1v-3zM1125 82v3h1v-3zM1125 88v3h1v-3zM1125 94v3h1v-3zM1125 100v3h1v-3zM1125 106v3h1v-3zM1125 112v3h1v-3zM1125 118v3h1v-3zM1125 124v3h1v-3zM1125 130v3h1v-3zM1125 136v3h1v-3zM1125 142v3h1v-3zM1125 148v3h1v-3zM1125 154v3h1v-3zM1125 160v3h1v-3zM1125 166v3h1v-3zM1125 172v3h1v-3zM1125 178v3h1v-3zM1125 184v3h1v-3zM1125 190v3h1v-3zM1125 196v3h1v-3zM1125 202v3h1v-3zM1125 208v3h1v-3zM1125 214v3h1v-3zM1125 220v3h1v-3zM1125 226v3h1v-3zM1125 232v3h1v-3zM1125 238v3h1v-3zM1125 244v3h1v-3zM1125 250v3h1v-3zM1125 256v3h1v-3zM1125 262v3h1v-3zM1125 268v3h1v-3zM1125 274v3h1v-3zM1125 280v3h1v-3zM1125 286v3h1v-3zM1125 292v3h1v-3zM1125 298v3h1v-3zM1125 304v3h1v-3zM1125 310v3h1v-3zM1125 316v3h1v-3zM1125 322v3h1v-3zM1125 328v3h1v-3zM1125 334v3h1v-3zM1125 340v3h1v-3zM1125 346v3h1v-3zM1125 352v3h1v-3zM1125 358v3h1v-3zM1125 364v3h1v-3zM1125 370v3h1v-3zM1125 376v3h1v-3zM1125 382v3h1v-3zM1125 388v3h1v-3zM1125 394v3h1v-3zM1125 400v3h1v-3zM1125 406v3h1v-3zM1125 412v3h1v-3zM1125 418v3h1v-3zM1125 424v3h1v-3zM1125 430v3h1v-3zM1125 436v3h1v-3zM1125 442v3h1v-3zM1125 448v3h1v-3zM1125 454v3h1v-3zM1125 460v3h1v-3zM1125 466v3h1v-3zM1125 472v3h1v-3zM1125 478v3h1v-3zM1125 484v3h1v-3zM1125 490v3h1v-3zM1125 496v3h1v-3zM1125 502v3h1v-3zM1125 508v3h1v-3zM1125 514v3h1v-3zM1125 520v3h1v-3zM1125 526v3h1v-3zM1125 532v3h1v-3zM1125 538v3h1v-3zM1125 544v3h1v-3zM1125 550v3h1v-3zM1125 556v3h1v-3zM1157 5v2h1v-2zM1157 10v3h1v-3zM1157 16v3h1v-3zM1157 22v3h1v-3zM1157 28v3h1v-3zM1157 34v3h1v-3zM1157 40v3h1v-3zM1157 46v3h1v-3zM1157 52v3h1v-3zM1157 58v3h1v-3zM1157 64v3h1v-3zM1157 70v3h1v-3zM1157 76v3h1v-3zM1157 82v3h1v-3zM1157 88v3h1v-3zM1157 94v3h1v-3zM1157 100v3h1v-3zM1157 106v3h1v-3zM1157 112v3h1v-3zM1157 118v3h1v-3zM1157 124v3h1v-3zM1157 130v3h1v-3zM1157 136v3h1v-3zM1157 142v3h1v-3zM1157 148v3h1v-3zM1157 154v3h1v-3zM1157 160v3h1v-3zM1157 166v3h1v-3zM1157 172v3h1v-3zM1157 178v3h1v-3zM1157 184v3h1v-3zM1157 190v3h1v-3zM1157 196v3h1v-3zM1157 202v3h1v-3zM1157 208v3h1v-3zM1157 214v3h1v-3zM1157 220v3h1v-3zM1157 226v3h1v-3zM1157 232v3h1v-3zM1157 238v3h1v-3zM1157 244v3h1v-3zM1157 250v3h1v-3zM1157 256v3h1v-3zM1157 262v3h1v-3zM1157 268v3h1v-3zM1157 274v3h1v-3zM1157 280v3h1v-3zM1157 286v3h1v-3zM1157 292v3h1v-3zM1157 298v3h1v-3zM1157 304v3h1v-3zM1157 310v3h1v-3zM1157 316v3h1v-3zM1157 322v3h1v-3zM1157 328v3h1v-3zM1157 334v3h1v-3zM1157 340v3h1v-3zM1157 346v3h1v-3zM1157 352v3h1v-3zM1157 358v3h1v-3zM1157 364v3h1v-3zM1157 370v3h1v-3zM1157 376v3h1v-3zM1157 382v3h1v-3zM1157 388v3h1v-3zM1157 394v3h1v-3zM1157 400v3h1v-3zM1157 406v3h1v-3zM1157 412v3h1v-3zM1157 418v3h1v-3zM1157 424v3h1v-3zM1157 430v3h1v-3zM1157 436v3h1v-3zM1157 442v3h1v-3zM1157 448v3h1v-3zM1157 454v3h1v-3zM1157 460v3h1v-3zM1157 466v3h1v-3zM1157 472v3h1v-3zM1157 478v3h1v-3zM1157 484v3h1v-3zM1157 490v3h1v-3zM1157 496v3h1v-3zM1157 502v3h1v-3zM1157 508v3h1v-3zM1157 514v3h1v-3zM1157 520v3h1v-3zM1157 526v3h1v-3zM1157 532v3h1v-3zM1157 538v3h1v-3zM1157 544v3h1v-3zM1157 550v3h1v-3zM1157 556v3h1v-3zM1189 5v2h1v-2zM1189 10v3h1v-3zM1189 16v3h1v-3zM1189 22v3h1v-3zM1189 28v3h1v-3zM1189 34v3h1v-3zM1189 40v3h1v-3zM1189 46v3h1v-3zM1189 52v3h1v-3zM1189 58v3h1v-3zM1189 64v3h1v-3zM1189 70v3h1v-3zM1189 76v3h1v-3zM1189 82v3h1v-3zM1189 88v3h1v-3zM1189 94v3h1v-3zM1189 100v3h1v-3zM1189 106v3h1v-3zM1189 112v3h1v-3zM1189 118v3h1v-3zM1189 124v3h1v-3zM1189 130v3h1v-3zM1189 136v3h1v-3zM1189 142v3h1v-3zM1189 148v3h1v-3zM1189 154v3h1v-3zM1189 160v3h1v-3zM1189 166v3h1v-3zM1189 172v3h1v-3zM1189 178v3h1v-3zM1189 184v3h1v-3zM1189 190v3h1v-3zM1189 196v3h1v-3zM1189 202v3h1v-3zM1189 208v3h1v-3zM1189 214v3h1v-3zM1189 220v3h1v-3zM1189 226v3h1v-3zM1189 232v3h1v-3zM1189 238v3h1v-3zM1189 244v3h1v-3zM1189 250v3h1v-3zM1189 256v3h1v-3zM1189 262v3h1v-3zM1189 268v3h1v-3zM1189 274v3h1v-3zM1189 280v3h1v-3zM1189 286v3h1v-3zM1189 292v3h1v-3zM1189 298v3h1v-3zM1189 304v3h1v-3zM1189 310v3h1v-3zM1189 316v3h1v-3zM1189 322v3h1v-3zM1189 328v3h1v-3zM1189 334v3h1v-3zM1189 340v3h1v-3zM1189 346v3h1v-3zM1189 352v3h1v-3zM1189 358v3h1v-3zM1189 364v3h1v-3zM1189 370v3h1v-3zM1189 376v3h1v-3zM1189 382v3h1v-3zM1189 388v3h1v-3zM1189 394v3h1v-3zM1189 400v3h1v-3zM1189 406v3h1v-3zM1189 412v3h1v-3zM1189 418v3h1v-3zM1189 424v3h1v-3zM1189 430v3h1v-3zM1189 436v3h1v-3zM1189 442v3h1v-3zM1189 448v3h1v-3zM1189 454v3h1v-3zM1189 460v3h1v-3zM1189 466v3h1v-3zM1189 472v3h1v-3zM1189 478v3h1v-3zM1189 484v3h1v-3zM1189 490v3h1v-3zM1189 496v3h1v-3zM1189 502v3h1v-3zM1189 508v3h1v-3zM1189 514v3h1v-3zM1189 520v3h1v-3zM1189 526v3h1v-3zM1189 532v3h1v-3zM1189 538v3h1v-3zM1189 544v3h1v-3zM1189 550v3h1v-3zM1189 556v3h1v-3zM1221 5v2h1v-2zM1221 10v3h1v-3zM1221 16v3h1v-3zM1221 22v3h1v-3zM1221 28v3h1v-3zM1221 34v3h1v-3zM1221 40v3h1v-3zM1221 46v3h1v-3zM1221 52v3h1v-3zM1221 58v3h1v-3zM1221 64v3h1v-3zM1221 70v3h1v-3zM1221 76v3h1v-3zM1221 82v3h1v-3zM1221 88v3h1v-3zM1221 94v3h1v-3zM1221 100v3h1v-3zM1221 106v3h1v-3zM1221 112v3h1v-3zM1221 118v3h1v-3zM1221 124v3h1v-3zM1221 130v3h1v-3zM1221 136v3h1v-3zM1221 142v3h1v-3zM1221 148v3h1v-3zM1221 154v3h1v-3zM1221 160v3h1v-3zM1221 166v3h1v-3zM1221 172v3h1v-3zM1221 178v3h1v-3zM1221 184v3h1v-3zM1221 190v3h1v-3zM1221 196v3h1v-3zM1221 202v3h1v-3zM1221 208v3h1v-3zM1221 214v3h1v-3zM1221 220v3h1v-3zM1221 226v3h1v-3zM1221 232v3h1v-3zM1221 238v3h1v-3zM1221 244v3h1v-3zM1221 250v3h1v-3zM1221 256v3h1v-3zM1221 262v3h1v-3zM1221 268v3h1v-3zM1221 274v3h1v-3zM1221 280v3h1v-3zM1221 286v3h1v-3zM1221 292v3h1v-3zM1221 298v3h1v-3zM1221 304v3h1v-3zM1221 310v3h1v-3zM1221 316v3h1v-3zM1221 322v3h1v-3zM1221 328v3h1v-3zM1221 334v3h1v-3zM1221 340v3h1v-3zM1221 346v3h1v-3zM1221 352v3h1v-3zM1221 358v3h1v-3zM1221 364v3h1v-3zM1221 370v3h1v-3zM1221 376v3h1v-3zM1221 382v3h1v-3zM1221 388v3h1v-3zM1221 394v3h1v-3zM1221 400v3h1v-3zM1221 406v3h1v-3zM1221 412v3h1v-3zM1221 418v3h1v-3zM1221 424v3h1v-3zM1221 430v3h1v-3zM1221 436v3h1v-3zM1221 442v3h1v-3zM1221 448v3h1v-3zM1221 454v3h1v-3zM1221 460v3h1v-3zM1221 466v3h1v-3zM1221 472v3h1v-3zM1221 478v3h1v-3zM1221 484v3h1v-3zM1221 490v3h1v-3zM1221 496v3h1v-3zM1221 502v3h1v-3zM1221 508v3h1v-3zM1221 514v3h1v-3zM1221 520v3h1v-3zM1221 526v3h1v-3zM1221 532v3h1v-3zM1221 538v3h1v-3zM1221 544v3h1v-3zM1221 550v3h1v-3zM1221 556v3h1v-3zM1253 5v2h1v-2zM1253 10v3h1v-3zM1253 16v3h1v-3zM1253 22v3h1v-3zM1253 28v3h1v-3zM1253 34v3h1v-3zM1253 40v3h1v-3zM1253 46v3h1v-3zM1253 52v3h1v-3zM1253 58v3h1v-3zM1253 64v3h1v-3zM1253 70v3h1v-3zM1253 76v3h1v-3zM1253 82v3h1v-3zM1253 88v3h1v-3zM1253 94v3h1v-3zM1253 100v3h1v-3zM1253 106v3h1v-3zM1253 112v3h1v-3zM1253 118v3h1v-3zM1253 124v3h1v-3zM1253 130v3h1v-3zM1253 136v3h1v-3zM1253 142v3h1v-3zM1253 148v3h1v-3zM1253 154v3h1v-3zM1253 160v3h1v-3zM1253 166v3h1v-3zM1253 172v3h1v-3zM1253 178v3h1v-3zM1253 184v3h1v-3zM1253 190v3h1v-3zM1253 196v3h1v-3zM1253 202v3h1v-3zM1253 208v3h1v-3zM1253 214v3h1v-3zM1253 220v3h1v-3zM1253 226v3h1v-3zM1253 232v3h1v-3zM1253 238v3h1v-3zM1253 244v3h1v-3zM1253 250v3h1v-3zM1253 256v3h1v-3zM1253 262v3h1v-3zM1253 268v3h1v-3zM1253 274v3h1v-3zM1253 280v3h1v-3zM1253 286v3h1v-3zM1253 292v3h1v-3zM1253 298v3h1v-3zM1253 304v3h1v-3zM1253 310v3h1v-3zM1253 316v3h1v-3zM1253 322v3h1v-3zM1253 328v3h1v-3zM1253 334v3h1v-3zM1253 340v3h1v-3zM1253 346v3h1v-3zM1253 352v3h1v-3zM1253 358v3h1v-3zM1253 364v3h1v-3zM1253 370v3h1v-3zM1253 376v3h1v-3zM1253 382v3h1v-3zM1253 388v3h1v-3zM1253 394v3h1v-3zM1253 400v3h1v-3zM1253 406v3h1v-3zM1253 412v3h1v-3zM1253 418v3h1v-3zM1253 424v3h1v-3zM1253 430v3h1v-3zM1253 436v3h1v-3zM1253 442v3h1v-3zM1253 448v3h1v-3zM1253 454v3h1v-3zM1253 460v3h1v-3zM1253 466v3h1v-3zM1253 472v3h1v-3zM1253 478v3h1v-3zM1253 484v3h1v-3zM1253 490v3h1v-3zM1253 496v3h1v-3zM1253 502v3h1v-3zM1253 508v3h1v-3zM1253 514v3h1v-3zM1253 520v3h1v-3zM1253 526v3h1v-3zM1253 532v3h1v-3zM1253 538v3h1v-3zM1253 544v3h1v-3zM1253 550v3h1v-3zM1253 556v3h1v-3zM1285 5v2h1v-2zM1285 10v3h1v-3zM1285 16v3h1v-3zM1285 22v3h1v-3zM1285 28v3h1v-3zM1285 34v3h1v-3zM1285 40v3h1v-3zM1285 46v3h1v-3zM1285 52v3h1v-3zM1285 58v3h1v-3zM1285 64v3h1v-3zM1285 70v3h1v-3zM1285 76v3h1v-3zM1285 82v3h1v-3zM1285 88v3h1v-3zM1285 94v3h1v-3zM1285 100v3h1v-3zM1285 106v3h1v-3zM1285 112v3h1v-3zM1285 118v3h1v-3zM1285 124v3h1v-3zM1285 130v3h1v-3zM1285 136v3h1v-3zM1285 142v3h1v-3zM1285 148v3h1v-3zM1285 154v3h1v-3zM1285 160v3h1v-3zM1285 166v3h1v-3zM1285 172v3h1v-3zM1285 178v3h1v-3zM1285 184v3h1v-3zM1285 190v3h1v-3zM1285 196v3h1v-3zM1285 202v3h1v-3zM1285 208v3h1v-3zM1285 214v3h1v-3zM1285 220v3h1v-3zM1285 226v3h1v-3zM1285 232v3h1v-3zM1285 238v3h1v-3zM1285 244v3h1v-3zM1285 250v3h1v-3zM1285 256v3h1v-3zM1285 262v3h1v-3zM1285 268v3h1v-3zM1285 274v3h1v-3zM1285 280v3h1v-3zM1285 286v3h1v-3zM1285 292v3h1v-3zM1285 298v3h1v-3zM1285 304v3h1v-3zM1285 310v3h1v-3zM1285 316v3h1v-3zM1285 322v3h1v-3zM1285 328v3h1v-3zM1285 334v3h1v-3zM1285 340v3h1v-3zM1285 346v3h1v-3zM1285 352v3h1v-3zM1285 358v3h1v-3zM1285 364v3h1v-3zM1285 370v3h1v-3zM1285 376v3h1v-3zM1285 382v3h1v-3zM1285 388v3h1v-3zM1285 394v3h1v-3zM1285 400v3h1v-3zM1285 406v3h1v-3zM1285 412v3h1v-3zM1285 418v3h1v-3zM1285 424v3h1v-3zM1285 430v3h1v-3zM1285 436v3h1v-3zM1285 442v3h1v-3zM1285 448v3h1v-3zM1285 454v3h1v-3zM1285 460v3h1v-3zM1285 466v3h1v-3zM1285 472v3h1v-3zM1285 478v3h1v-3zM1285 484v3h1v-3zM1285 490v3h1v-3zM1285 496v3h1v-3zM1285 502v3h1v-3zM1285 508v3h1v-3zM1285 514v3h1v-3zM1285 520v3h1v-3zM1285 526v3h1v-3zM1285 532v3h1v-3zM1285 538v3h1v-3zM1285 544v3h1v-3zM1285 550v3h1v-3zM1285 556v3h1v-3zM1317 5v2h1v-2zM1317 10v3h1v-3zM1317 16v3h1v-3zM1317 22v3h1v-3zM1317 28v3h1v-3zM1317 34v3h1v-3zM1317 40v3h1v-3zM1317 46v3h1v-3zM1317 52v3h1v-3zM1317 58v3h1v-3zM1317 64v3h1v-3zM1317 70v3h1v-3zM1317 76v3h1v-3zM1317 82v3h1v-3zM1317 88v3h1v-3zM1317 94v3h1v-3zM1317 100v3h1v-3zM1317 106v3h1v-3zM1317 112v3h1v-3zM1317 118v3h1v-3zM1317 124v3h1v-3zM1317 130v3h1v-3zM1317 136v3h1v-3zM1317 142v3h1v-3zM1317 148v3h1v-3zM1317 154v3h1v-3zM1317 160v3h1v-3zM1317 166v3h1v-3zM1317 172v3h1v-3zM1317 178v3h1v-3zM1317 184v3h1v-3zM1317 190v3h1v-3zM1317 196v3h1v-3zM1317 202v3h1v-3zM1317 208v3h1v-3zM1317 214v3h1v-3zM1317 220v3h1v-3zM1317 226v3h1v-3zM1317 232v3h1v-3zM1317 238v3h1v-3zM1317 244v3h1v-3zM1317 250v3h1v-3zM1317 256v3h1v-3zM1317 262v3h1v-3zM1317 268v3h1v-3zM1317 274v3h1v-3zM1317 280v3h1v-3zM1317 286v3h1v-3zM1317 292v3h1v-3zM1317 298v3h1v-3zM1317 304v3h1v-3zM1317 310v3h1v-3zM1317 316v3h1v-3zM1317 322v3h1v-3zM1317 328v3h1v-3zM1317 334v3h1v-3zM1317 340v3h1v-3zM1317 346v3h1v-3zM1317 352v3h1v-3zM1317 358v3h1v-3zM1317 364v3h1v-3zM1317 370v3h1v-3zM1317 376v3h1v-3zM1317 382v3h1v-3zM1317 388v3h1v-3zM1317 394v3h1v-3zM1317 400v3h1v-3zM1317 406v3h1v-3zM1317 412v3h1v-3zM1317 418v3h1v-3zM1317 424v3h1v-3zM1317 430v3h1v-3zM1317 436v3h1v-3zM1317 442v3h1v-3zM1317 448v3h1v-3zM1317 454v3h1v-3zM1317 460v3h1v-3zM1317 466v3h1v-3zM1317 472v3h1v-3zM1317 478v3h1v-3zM1317 484v3h1v-3zM1317 490v3h1v-3zM1317 496v3h1v-3zM1317 502v3h1v-3zM1317 508v3h1v-3zM1317 514v3h1v-3zM1317 520v3h1v-3zM1317 526v3h1v-3zM1317 532v3h1v-3zM1317 538v3h1v-3zM1317 544v3h1v-3zM1317 550v3h1v-3zM1317 556v3h1v-3zM1349 5v2h1v-2zM1349 10v3h1v-3zM1349 16v3h1v-3zM1349 22v3h1v-3zM1349 28v3h1v-3zM1349 34v3h1v-3zM1349 40v3h1v-3zM1349 46v3h1v-3zM1349 52v3h1v-3zM1349 58v3h1v-3zM1349 64v3h1v-3zM1349 70v3h1v-3zM1349 76v3h1v-3zM1349 82v3h1v-3zM1349 88v3h1v-3zM1349 94v3h1v-3zM1349 100v3h1v-3zM1349 106v3h1v-3zM1349 112v3h1v-3zM1349 118v3h1v-3zM1349 124v3h1v-3zM1349 130v3h1v-3zM1349 136v3h1v-3zM1349 142v3h1v-3zM1349 148v3h1v-3zM1349 154v3h1v-3zM1349 160v3h1v-3zM1349 166v3h1v-3zM1349 172v3h1v-3zM1349 178v3h1v-3zM1349 184v3h1v-3zM1349 190v3h1v-3zM1349 196v3h1v-3zM1349 202v3h1v-3zM1349 208v3h1v-3zM1349 214v3h1v-3zM1349 220v3h1v-3zM1349 226v3h1v-3zM1349 232v3h1v-3zM1349 238v3h1v-3zM1349 244v3h1v-3zM1349 250v3h1v-3zM1349 256v3h1v-3zM1349 262v3h1v-3zM1349 268v3h1v-3zM1349 274v3h1v-3zM1349 280v3h1v-3zM1349 286v3h1v-3zM1349 292v3h1v-3zM1349 298v3h1v-3zM1349 304v3h1v-3zM1349 310v3h1v-3zM1349 316v3h1v-3zM1349 322v3h1v-3zM1349 328v3h1v-3zM1349 334v3h1v-3zM1349 340v3h1v-3zM1349 346v3h1v-3zM1349 352v3h1v-3zM1349 358v3h1v-3zM1349 364v3h1v-3zM1349 370v3h1v-3zM1349 376v3h1v-3zM1349 382v3h1v-3zM1349 388v3h1v-3zM1349 394v3h1v-3zM1349 400v3h1v-3zM1349 406v3h1v-3zM1349 412v3h1v-3zM1349 418v3h1v-3zM1349 424v3h1v-3zM1349 430v3h1v-3zM1349 436v3h1v-3zM1349 442v3h1v-3zM1349 448v3h1v-3zM1349 454v3h1v-3zM1349 460v3h1v-3zM1349 466v3h1v-3zM1349 472v3h1v-3zM1349 478v3h1v-3zM1349 484v3h1v-3zM1349 490v3h1v-3zM1349 496v3h1v-3zM1349 502v3h1v-3zM1349 508v3h1v-3zM1349 514v3h1v-3zM1349 520v3h1v-3zM1349 526v3h1v-3zM1349 532v3h1v-3zM1349 538v3h1v-3zM1349 544v3h1v-3zM1349 550v3h1v-3zM1349 556v3h1v-3zM1381 5v2h1v-2zM1381 10v3h1v-3zM1381 16v3h1v-3zM1381 22v3h1v-3zM1381 28v3h1v-3zM1381 34v3h1v-3zM1381 40v3h1v-3zM1381 46v3h1v-3zM1381 52v3h1v-3zM1381 58v3h1v-3zM1381 64v3h1v-3zM1381 70v3h1v-3zM1381 76v3h1v-3zM1381 82v3h1v-3zM1381 88v3h1v-3zM1381 94v3h1v-3zM1381 100v3h1v-3zM1381 106v3h1v-3zM1381 112v3h1v-3zM1381 118v3h1v-3zM1381 124v3h1v-3zM1381 130v3h1v-3zM1381 136v3h1v-3zM1381 142v3h1v-3zM1381 148v3h1v-3zM1381 154v3h1v-3zM1381 160v3h1v-3zM1381 166v3h1v-3zM1381 172v3h1v-3zM1381 178v3h1v-3zM1381 184v3h1v-3zM1381 190v3h1v-3zM1381 196v3h1v-3zM1381 202v3h1v-3zM1381 208v3h1v-3zM1381 214v3h1v-3zM1381 220v3h1v-3zM1381 226v3h1v-3zM1381 232v3h1v-3zM1381 238v3h1v-3zM1381 244v3h1v-3zM1381 250v3h1v-3zM1381 256v3h1v-3zM1381 262v3h1v-3zM1381 268v3h1v-3zM1381 274v3h1v-3zM1381 280v3h1v-3zM1381 286v3h1v-3zM1381 292v3h1v-3zM1381 298v3h1v-3zM1381 304v3h1v-3zM1381 310v3h1v-3zM1381 316v3h1v-3zM1381 322v3h1v-3zM1381 328v3h1v-3zM1381 334v3h1v-3zM1381 340v3h1v-3zM1381 346v3h1v-3zM1381 352v3h1v-3zM1381 358v3h1v-3zM1381 364v3h1v-3zM1381 370v3h1v-3zM1381 376v3h1v-3zM1381 382v3h1v-3zM1381 388v3h1v-3zM1381 394v3h1v-3zM1381 400v3h1v-3zM1381 406v3h1v-3zM1381 412v3h1v-3zM1381 418v3h1v-3zM1381 424v3h1v-3zM1381 430v3h1v-3zM1381 436v3h1v-3zM1381 442v3h1v-3zM1381 448v3h1v-3zM1381 454v3h1v-3zM1381 460v3h1v-3zM1381 466v3h1v-3zM1381 472v3h1v-3zM1381 478v3h1v-3zM1381 484v3h1v-3zM1381 490v3h1v-3zM1381 496v3h1v-3zM1381 502v3h1v-3zM1381 508v3h1v-3zM1381 514v3h1v-3zM1381 520v3h1v-3zM1381 526v3h1v-3zM1381 532v3h1v-3zM1381 538v3h1v-3zM1381 544v3h1v-3zM1381 550v3h1v-3zM1381 556v3h1v-3zM1413 5v2h1v-2zM1413 10v3h1v-3zM1413 16v3h1v-3zM1413 22v3h1v-3zM1413 28v3h1v-3zM1413 34v3h1v-3zM1413 40v3h1v-3zM1413 46v3h1v-3zM1413 52v3h1v-3zM1413 58v3h1v-3zM1413 64v3h1v-3zM1413 70v3h1v-3zM1413 76v3h1v-3zM1413 82v3h1v-3zM1413 88v3h1v-3zM1413 94v3h1v-3zM1413 100v3h1v-3zM1413 106v3h1v-3zM1413 112v3h1v-3zM1413 118v3h1v-3zM1413 124v3h1v-3zM1413 130v3h1v-3zM1413 136v3h1v-3zM1413 142v3h1v-3zM1413 148v3h1v-3zM1413 154v3h1v-3zM1413 160v3h1v-3zM1413 166v3h1v-3zM1413 172v3h1v-3zM1413 178v3h1v-3zM1413 184v3h1v-3zM1413 190v3h1v-3zM1413 196v3h1v-3zM1413 202v3h1v-3zM1413 208v3h1v-3zM1413 214v3h1v-3zM1413 220v3h1v-3zM1413 226v3h1v-3zM1413 232v3h1v-3zM1413 238v3h1v-3zM1413 244v3h1v-3zM1413 250v3h1v-3zM1413 256v3h1v-3zM1413 262v3h1v-3zM1413 268v3h1v-3zM1413 274v3h1v-3zM1413 280v3h1v-3zM1413 286v3h1v-3zM1413 292v3h1v-3zM1413 298v3h1v-3zM1413 304v3h1v-3zM1413 310v3h1v-3zM1413 316v3h1v-3zM1413 322v3h1v-3zM1413 328v3h1v-3zM1413 334v3h1v-3zM1413 340v3h1v-3zM1413 346v3h1v-3zM1413 352v3h1v-3zM1413 358v3h1v-3zM1413 364v3h1v-3zM1413 370v3h1v-3zM1413 376v3h1v-3zM1413 382v3h1v-3zM1413 388v3h1v-3zM1413 394v3h1v-3zM1413 400v3h1v-3zM1413 406v3h1v-3zM1413 412v3h1v-3zM1413 418v3h1v-3zM1413 424v3h1v-3zM1413 430v3h1v-3zM1413 436v3h1v-3zM1413 442v3h1v-3zM1413 448v3h1v-3zM1413 454v3h1v-3zM1413 460v3h1v-3zM1413 466v3h1v-3zM1413 472v3h1v-3zM1413 478v3h1v-3zM1413 484v3h1v-3zM1413 490v3h1v-3zM1413 496v3h1v-3zM1413 502v3h1v-3zM1413 508v3h1v-3zM1413 514v3h1v-3zM1413 520v3h1v-3zM1413 526v3h1v-3zM1413 532v3h1v-3zM1413 538v3h1v-3zM1413 544v3h1v-3zM1413 550v3h1v-3zM1413 556v3h1v-3zM1445 5v2h1v-2zM1445 10v3h1v-3zM1445 16v3h1v-3zM1445 22v3h1v-3zM1445 28v3h1v-3zM1445 34v3h1v-3zM1445 40v3h1v-3zM1445 46v3h1v-3zM1445 52v3h1v-3zM1445 58v3h1v-3zM1445 64v3h1v-3zM1445 70v3h1v-3zM1445 76v3h1v-3zM1445 82v3h1v-3zM1445 88v3h1v-3zM1445 94v3h1v-3zM1445 100v3h1v-3zM1445 106v3h1v-3zM1445 112v3h1v-3zM1445 118v3h1v-3zM1445 124v3h1v-3zM1445 130v3h1v-3zM1445 136v3h1v-3zM1445 142v3h1v-3zM1445 148v3h1v-3zM1445 154v3h1v-3zM1445 160v3h1v-3zM1445 166v3h1v-3zM1445 172v3h1v-3zM1445 178v3h1v-3zM1445 184v3h1v-3zM1445 190v3h1v-3zM1445 196v3h1v-3zM1445 202v3h1v-3zM1445 208v3h1v-3zM1445 214v3h1v-3zM1445 220v3h1v-3zM1445 226v3h1v-3zM1445 232v3h1v-3zM1445 238v3h1v-3zM1445 244v3h1v-3zM1445 250v3h1v-3zM1445 256v3h1v-3zM1445 262v3h1v-3zM1445 268v3h1v-3zM1445 274v3h1v-3zM1445 280v3h1v-3zM1445 286v3h1v-3zM1445 292v3h1v-3zM1445 298v3h1v-3zM1445 304v3h1v-3zM1445 310v3h1v-3zM1445 316v3h1v-3zM1445 322v3h1v-3zM1445 328v3h1v-3zM1445 334v3h1v-3zM1445 340v3h1v-3zM1445 346v3h1v-3zM1445 352v3h1v-3zM1445 358v3h1v-3zM1445 364v3h1v-3zM1445 370v3h1v-3zM1445 376v3h1v-3zM1445 382v3h1v-3zM1445 388v3h1v-3zM1445 394v3h1v-3zM1445 400v3h1v-3zM1445 406v3h1v-3zM1445 412v3h1v-3zM1445 418v3h1v-3zM1445 424v3h1v-3zM1445 430v3h1v-3zM1445 436v3h1v-3zM1445 442v3h1v-3zM1445 448v3h1v-3zM1445 454v3h1v-3zM1445 460v3h1v-3zM1445 466v3h1v-3zM1445 472v3h1v-3zM1445 478v3h1v-3zM1445 484v3h1v-3zM1445 490v3h1v-3zM1445 496v3h1v-3zM1445 502v3h1v-3zM1445 508v3h1v-3zM1445 514v3h1v-3zM1445 520v3h1v-3zM1445 526v3h1v-3zM1445 532v3h1v-3zM1445 538v3h1v-3zM1445 544v3h1v-3zM1445 550v3h1v-3zM1445 556v3h1v-3zM1477 5v2h1v-2zM1477 10v3h1v-3zM1477 16v3h1v-3zM1477 22v3h1v-3zM1477 28v3h1v-3zM1477 34v3h1v-3zM1477 40v3h1v-3zM1477 46v3h1v-3zM1477 52v3h1v-3zM1477 58v3h1v-3zM1477 64v3h1v-3zM1477 70v3h1v-3zM1477 76v3h1v-3zM1477 82v3h1v-3zM1477 88v3h1v-3zM1477 94v3h1v-3zM1477 100v3h1v-3zM1477 106v3h1v-3zM1477 112v3h1v-3zM1477 118v3h1v-3zM1477 124v3h1v-3zM1477 130v3h1v-3zM1477 136v3h1v-3zM1477 142v3h1v-3zM1477 148v3h1v-3zM1477 154v3h1v-3zM1477 160v3h1v-3zM1477 166v3h1v-3zM1477 172v3h1v-3zM1477 178v3h1v-3zM1477 184v3h1v-3zM1477 190v3h1v-3zM1477 196v3h1v-3zM1477 202v3h1v-3zM1477 208v3h1v-3zM1477 214v3h1v-3zM1477 220v3h1v-3zM1477 226v3h1v-3zM1477 232v3h1v-3zM1477 238v3h1v-3zM1477 244v3h1v-3zM1477 250v3h1v-3zM1477 256v3h1v-3zM1477 262v3h1v-3zM1477 268v3h1v-3zM1477 274v3h1v-3zM1477 280v3h1v-3zM1477 286v3h1v-3zM1477 292v3h1v-3zM1477 298v3h1v-3zM1477 304v3h1v-3zM1477 310v3h1v-3zM1477 316v3h1v-3zM1477 322v3h1v-3zM1477 328v3h1v-3zM1477 334v3h1v-3zM1477 340v3h1v-3zM1477 346v3h1v-3zM1477 352v3h1v-3zM1477 358v3h1v-3zM1477 364v3h1v-3zM1477 370v3h1v-3zM1477 376v3h1v-3zM1477 382v3h1v-3zM1477 388v3h1v-3zM1477 394v3h1v-3zM1477 400v3h1v-3zM1477 406v3h1v-3zM1477 412v3h1v-3zM1477 418v3h1v-3zM1477 424v3h1v-3zM1477 430v3h1v-3zM1477 436v3h1v-3zM1477 442v3h1v-3zM1477 448v3h1v-3zM1477 454v3h1v-3zM1477 460v3h1v-3zM1477 466v3h1v-3zM1477 472v3h1v-3zM1477 478v3h1v-3zM1477 484v3h1v-3zM1477 490v3h1v-3zM1477 496v3h1v-3zM1477 502v3h1v-3zM1477 508v3h1v-3zM1477 514v3h1v-3zM1477 520v3h1v-3zM1477 526v3h1v-3zM1477 532v3h1v-3zM1477 538v3h1v-3zM1477 544v3h1v-3zM1477 550v3h1v-3zM1477 556v3h1v-3zM1509 5v2h1v-2zM1509 10v3h1v-3zM1509 16v3h1v-3zM1509 22v3h1v-3zM1509 28v3h1v-3zM1509 34v3h1v-3zM1509 40v3h1v-3zM1509 46v3h1v-3zM1509 52v3h1v-3zM1509 58v3h1v-3zM1509 64v3h1v-3zM1509 70v3h1v-3zM1509 76v3h1v-3zM1509 82v3h1v-3zM1509 88v3h1v-3zM1509 94v3h1v-3zM1509 100v3h1v-3zM1509 106v3h1v-3zM1509 112v3h1v-3zM1509 118v3h1v-3zM1509 124v3h1v-3zM1509 130v3h1v-3zM1509 136v3h1v-3zM1509 142v3h1v-3zM1509 148v3h1v-3zM1509 154v3h1v-3zM1509 160v3h1v-3zM1509 166v3h1v-3zM1509 172v3h1v-3zM1509 178v3h1v-3zM1509 184v3h1v-3zM1509 190v3h1v-3zM1509 196v3h1v-3zM1509 202v3h1v-3zM1509 208v3h1v-3zM1509 214v3h1v-3zM1509 220v3h1v-3zM1509 226v3h1v-3zM1509 232v3h1v-3zM1509 238v3h1v-3zM1509 244v3h1v-3zM1509 250v3h1v-3zM1509 256v3h1v-3zM1509 262v3h1v-3zM1509 268v3h1v-3zM1509 274v3h1v-3zM1509 280v3h1v-3zM1509 286v3h1v-3zM1509 292v3h1v-3zM1509 298v3h1v-3zM1509 304v3h1v-3zM1509 310v3h1v-3zM1509 316v3h1v-3zM1509 322v3h1v-3zM1509 328v3h1v-3zM1509 334v3h1v-3zM1509 340v3h1v-3zM1509 346v3h1v-3zM1509 352v3h1v-3zM1509 358v3h1v-3zM1509 364v3h1v-3zM1509 370v3h1v-3zM1509 376v3h1v-3zM1509 382v3h1v-3zM1509 388v3h1v-3zM1509 394v3h1v-3zM1509 400v3h1v-3zM1509 406v3h1v-3zM1509 412v3h1v-3zM1509 418v3h1v-3zM1509 424v3h1v-3zM1509 430v3h1v-3zM1509 436v3h1v-3zM1509 442v3h1v-3zM1509 448v3h1v-3zM1509 454v3h1v-3zM1509 460v3h1v-3zM1509 466v3h1v-3zM1509 472v3h1v-3zM1509 478v3h1v-3zM1509 484v3h1v-3zM1509 490v3h1v-3zM1509 496v3h1v-3zM1509 502v3h1v-3zM1509 508v3h1v-3zM1509 514v3h1v-3zM1509 520v3h1v-3zM1509 526v3h1v-3zM1509 532v3h1v-3zM1509 538v3h1v-3zM1509 544v3h1v-3zM1509 550v3h1v-3zM1509 556v3h1v-3zM1541 5v2h1v-2zM1541 10v3h1v-3zM1541 16v3h1v-3zM1541 22v3h1v-3zM1541 28v3h1v-3zM1541 34v3h1v-3zM1541 40v3h1v-3zM1541 46v3h1v-3zM1541 52v3h1v-3zM1541 58v3h1v-3zM1541 64v3h1v-3zM1541 70v3h1v-3zM1541 76v3h1v-3zM1541 82v3h1v-3zM1541 88v3h1v-3zM1541 94v3h1v-3zM1541 100v3h1v-3zM1541 106v3h1v-3zM1541 112v3h1v-3zM1541 118v3h1v-3zM1541 124v3h1v-3zM1541 130v3h1v-3zM1541 136v3h1v-3zM1541 142v3h1v-3zM1541 148v3h1v-3zM1541 154v3h1v-3zM1541 160v3h1v-3zM1541 166v3h1v-3zM1541 172v3h1v-3zM1541 178v3h1v-3zM1541 184v3h1v-3zM1541 190v3h1v-3zM1541 196v3h1v-3zM1541 202v3h1v-3zM1541 208v3h1v-3zM1541 214v3h1v-3zM1541 220v3h1v-3zM1541 226v3h1v-3zM1541 232v3h1v-3zM1541 238v3h1v-3zM1541 244v3h1v-3zM1541 250v3h1v-3zM1541 256v3h1v-3zM1541 262v3h1v-3zM1541 268v3h1v-3zM1541 274v3h1v-3zM1541 280v3h1v-3zM1541 286v3h1v-3zM1541 292v3h1v-3zM1541 298v3h1v-3zM1541 304v3h1v-3zM1541 310v3h1v-3zM1541 316v3h1v-3zM1541 322v3h1v-3zM1541 328v3h1v-3zM1541 334v3h1v-3zM1541 340v3h1v-3zM1541 346v3h1v-3zM1541 352v3h1v-3zM1541 358v3h1v-3zM1541 364v3h1v-3zM1541 370v3h1v-3zM1541 376v3h1v-3zM1541 382v3h1v-3zM1541 388v3h1v-3zM1541 394v3h1v-3zM1541 400v3h1v-3zM1541 406v3h1v-3zM1541 412v3h1v-3zM1541 418v3h1v-3zM1541 424v3h1v-3zM1541 430v3h1v-3zM1541 436v3h1v-3zM1541 442v3h1v-3zM1541 448v3h1v-3zM1541 454v3h1v-3zM1541 460v3h1v-3zM1541 466v3h1v-3zM1541 472v3h1v-3zM1541 478v3h1v-3zM1541 484v3h1v-3zM1541 490v3h1v-3zM1541 496v3h1v-3zM1541 502v3h1v-3zM1541 508v3h1v-3zM1541 514v3h1v-3zM1541 520v3h1v-3zM1541 526v3h1v-3zM1541 532v3h1v-3zM1541 538v3h1v-3zM1541 544v3h1v-3zM1541 550v3h1v-3zM1541 556v3h1v-3zM1573 5v2h1v-2zM1573 10v3h1v-3zM1573 16v3h1v-3zM1573 22v3h1v-3zM1573 28v3h1v-3zM1573 34v3h1v-3zM1573 40v3h1v-3zM1573 46v3h1v-3zM1573 52v3h1v-3zM1573 58v3h1v-3zM1573 64v3h1v-3zM1573 70v3h1v-3zM1573 76v3h1v-3zM1573 82v3h1v-3zM1573 88v3h1v-3zM1573 94v3h1v-3zM1573 100v3h1v-3zM1573 106v3h1v-3zM1573 112v3h1v-3zM1573 118v3h1v-3zM1573 124v3h1v-3zM1573 130v3h1v-3zM1573 136v3h1v-3zM1573 142v3h1v-3zM1573 148v3h1v-3zM1573 154v3h1v-3zM1573 160v3h1v-3zM1573 166v3h1v-3zM1573 172v3h1v-3zM1573 178v3h1v-3zM1573 184v3h1v-3zM1573 190v3h1v-3zM1573 196v3h1v-3zM1573 202v3h1v-3zM1573 208v3h1v-3zM1573 214v3h1v-3zM1573 220v3h1v-3zM1573 226v3h1v-3zM1573 232v3h1v-3zM1573 238v3h1v-3zM1573 244v3h1v-3zM1573 250v3h1v-3zM1573 256v3h1v-3zM1573 262v3h1v-3zM1573 268v3h1v-3zM1573 274v3h1v-3zM1573 280v3h1v-3zM1573 286v3h1v-3zM1573 292v3h1v-3zM1573 298v3h1v-3zM1573 304v3h1v-3zM1573 310v3h1v-3zM1573 316v3h1v-3zM1573 322v3h1v-3zM1573 328v3h1v-3zM1573 334v3h1v-3zM1573 340v3h1v-3zM1573 346v3h1v-3zM1573 352v3h1v-3zM1573 358v3h1v-3zM1573 364v3h1v-3zM1573 370v3h1v-3zM1573 376v3h1v-3zM1573 382v3h1v-3zM1573 388v3h1v-3zM1573 394v3h1v-3zM1573 400v3h1v-3zM1573 406v3h1v-3zM1573 412v3h1v-3zM1573 418v3h1v-3zM1573 424v3h1v-3zM1573 430v3h1v-3zM1573 436v3h1v-3zM1573 442v3h1v-3zM1573 448v3h1v-3zM1573 454v3h1v-3zM1573 460v3h1v-3zM1573 466v3h1v-3zM1573 472v3h1v-3zM1573 478v3h1v-3zM1573 484v3h1v-3zM1573 490v3h1v-3zM1573 496v3h1v-3zM1573 502v3h1v-3zM1573 508v3h1v-3zM1573 514v3h1v-3zM1573 520v3h1v-3zM1573 526v3h1v-3zM1573 532v3h1v-3zM1573 538v3h1v-3zM1573 544v3h1v-3zM1573 550v3h1v-3zM1573 556v3h1v-3zM1605 5v2h1v-2zM1605 10v3h1v-3zM1605 16v3h1v-3zM1605 22v3h1v-3zM1605 28v3h1v-3zM1605 34v3h1v-3zM1605 40v3h1v-3zM1605 46v3h1v-3zM1605 52v3h1v-3zM1605 58v3h1v-3zM1605 64v3h1v-3zM1605 70v3h1v-3zM1605 76v3h1v-3zM1605 82v3h1v-3zM1605 88v3h1v-3zM1605 94v3h1v-3zM1605 100v3h1v-3zM1605 106v3h1v-3zM1605 112v3h1v-3zM1605 118v3h1v-3zM1605 124v3h1v-3zM1605 130v3h1v-3zM1605 136v3h1v-3zM1605 142v3h1v-3zM1605 148v3h1v-3zM1605 154v3h1v-3zM1605 160v3h1v-3zM1605 166v3h1v-3zM1605 172v3h1v-3zM1605 178v3h1v-3zM1605 184v3h1v-3zM1605 190v3h1v-3zM1605 196v3h1v-3zM1605 202v3h1v-3zM1605 208v3h1v-3zM1605 214v3h1v-3zM1605 220v3h1v-3zM1605 226v3h1v-3zM1605 232v3h1v-3zM1605 238v3h1v-3zM1605 244v3h1v-3zM1605 250v3h1v-3zM1605 256v3h1v-3zM1605 262v3h1v-3zM1605 268v3h1v-3zM1605 274v3h1v-3zM1605 280v3h1v-3zM1605 286v3h1v-3zM1605 292v3h1v-3zM1605 298v3h1v-3zM1605 304v3h1v-3zM1605 310v3h1v-3zM1605 316v3h1v-3zM1605 322v3h1v-3zM1605 328v3h1v-3zM1605 334v3h1v-3zM1605 340v3h1v-3zM1605 346v3h1v-3zM1605 352v3h1v-3zM1605 358v3h1v-3zM1605 364v3h1v-3zM1605 370v3h1v-3zM1605 376v3h1v-3zM1605 382v3h1v-3zM1605 388v3h1v-3zM1605 394v3h1v-3zM1605 400v3h1v-3zM1605 406v3h1v-3zM1605 412v3h1v-3zM1605 418v3h1v-3zM1605 424v3h1v-3zM1605 430v3h1v-3zM1605 436v3h1v-3zM1605 442v3h1v-3zM1605 448v3h1v-3zM1605 454v3h1v-3zM1605 460v3h1v-3zM1605 466v3h1v-3zM1605 472v3h1v-3zM1605 478v3h1v-3zM1605 484v3h1v-3zM1605 490v3h1v-3zM1605 496v3h1v-3zM1605 502v3h1v-3zM1605 508v3h1v-3zM1605 514v3h1v-3zM1605 520v3h1v-3zM1605 526v3h1v-3zM1605 532v3h1v-3zM1605 538v3h1v-3zM1605 544v3h1v-3zM1605 550v3h1v-3zM1605 556v3h1v-3zM6 629h3v1h-3zM12 629h3v1h-3zM18 629h3v1h-3zM24 629h3v1h-3zM30 629h3v1h-3zM36 629h3v1h-3zM42 629h3v1h-3zM48 629h3v1h-3zM54 629h3v1h-3zM60 629h3v1h-3zM66 629h3v1h-3zM72 629h3v1h-3zM78 629h3v1h-3zM84 629h3v1h-3zM90 629h3v1h-3zM96 629h3v1h-3zM102 629h3v1h-3zM108 629h3v1h-3zM114 629h3v1h-3zM120 629h3v1h-3zM126 629h3v1h-3zM132 629h3v1h-3zM138 629h3v1h-3zM144 629h3v1h-3zM150 629h3v1h-3zM156 629h3v1h-3zM162 629h3v1h-3zM168 629h3v1h-3zM174 629h3v1h-3zM180 629h3v1h-3zM186 629h3v1h-3zM192 629h3v1h-3zM198 629h3v1h-3zM204 629h3v1h-3zM210 629h3v1h-3zM216 629h3v1h-3zM222 629h3v1h-3zM228 629h3v1h-3zM234 629h3v1h-3zM240 629h3v1h-3zM246 629h3v1h-3zM252 629h3v1h-3zM258 629h3v1h-3zM264 629h3v1h-3zM270 629h3v1h-3zM276 629h3v1h-3zM282 629h3v1h-3zM288 629h3v1h-3zM294 629h3v1h-3zM300 629h3v1h-3zM306 629h3v1h-3zM312 629h3v1h-3zM318 629h3v1h-3zM324 629h3v1h-3zM330 629h3v1h-3zM336 629h3v1h-3zM342 629h3v1h-3zM348 629h3v1h-3zM354 629h3v1h-3zM360 629h3v1h-3zM366 629h3v1h-3zM372 629h3v1h-3zM378 629h3v1h-3zM384 629h3v1h-3zM390 629h3v1h-3zM396 629h3v1h-3zM402 629h3v1h-3zM408 629h3v1h-3zM414 629h3v1h-3zM420 629h3v1h-3zM426 629h3v1h-3zM432 629h3v1h-3zM438 629h3v1h-3zM444 629h3v1h-3zM450 629h3v1h-3zM456 629h3v1h-3zM462 629h3v1h-3zM468 629h3v1h-3zM474 629h3v1h-3zM480 629h3v1h-3zM486 629h3v1h-3zM492 629h3v1h-3zM498 629h3v1h-3zM504 629h3v1h-3zM510 629h3v1h-3zM516 629h3v1h-3zM522 629h3v1h-3zM528 629h3v1h-3zM534 629h3v1h-3zM540 629h3v1h-3zM546 629h3v1h-3zM552 629h3v1h-3zM558 629h3v1h-3zM564 629h3v1h-3zM570 629h3v1h-3zM576 629h3v1h-3zM582 629h3v1h-3zM588 629h3v1h-3zM594 629h3v1h-3zM600 629h3v1h-3zM606 629h3v1h-3zM612 629h3v1h-3zM618 629h3v1h-3zM624 629h3v1h-3zM630 629h3v1h-3zM636 629h3v1h-3zM642 629h3v1h-3zM648 629h3v1h-3zM654 629h3v1h-3zM660 629h3v1h-3zM666 629h3v1h-3zM672 629h3v1h-3zM678 629h3v1h-3zM684 629h3v1h-3zM690 629h3v1h-3zM696 629h3v1h-3zM702 629h3v1h-3zM708 629h3v1h-3zM714 629h3v1h-3zM720 629h3v1h-3zM726 629h3v1h-3zM732 629h3v1h-3zM738 629h3v1h-3zM744 629h3v1h-3zM750 629h3v1h-3zM756 629h3v1h-3zM762 629h3v1h-3zM768 629h3v1h-3zM774 629h3v1h-3zM780 629h3v1h-3zM786 629h3v1h-3zM792 629h3v1h-3zM798 629h3v1h-3zM804 629h3v1h-3zM810 629h3v1h-3zM816 629h3v1h-3zM822 629h3v1h-3zM828 629h3v1h-3zM834 629h3v1h-3zM840 629h3v1h-3zM846 629h3v1h-3zM852 629h3v1h-3zM858 629h3v1h-3zM864 629h3v1h-3zM870 629h3v1h-3zM876 629h3v1h-3zM882 629h3v1h-3zM888 629h3v1h-3zM894 629h3v1h-3zM900 629h3v1h-3zM906 629h3v1h-3zM912 629h3v1h-3zM918 629h3v1h-3zM924 629h3v1h-3zM930 629h3v1h-3zM936 629h3v1h-3zM942 629h3v1h-3zM948 629h3v1h-3zM954 629h3v1h-3zM960 629h3v1h-3zM966 629h3v1h-3zM972 629h3v1h-3zM978 629h3v1h-3zM984 629h3v1h-3zM990 629h3v1h-3zM996 629h3v1h-3zM1002 629h3v1h-3zM1008 629h3v1h-3zM1014 629h3v1h-3zM1020 629h3v1h-3zM1026 629h3v1h-3zM1032 629h3v1h-3zM1038 629h3v1h-3zM1044 629h3v1h-3zM1050 629h3v1h-3zM1056 629h3v1h-3zM1062 629h3v1h-3zM1068 629h3v1h-3zM1074 629h3v1h-3zM1080 629h3v1h-3zM1086 629h3v1h-3zM1092 629h3v1h-3zM1098 629h3v1h-3zM1104 629h3v1h-3zM1110 629h3v1h-3zM1116 629h3v1h-3zM1122 629h3v1h-3zM1128 629h3v1h-3zM1134 629h3v1h-3zM1140 629h3v1h-3zM1146 629h3v1h-3zM1152 629h3v1h-3zM1158 629h3v1h-3zM1164 629h3v1h-3zM1170 629h3v1h-3zM1176 629h3v1h-3zM1182 629h3v1h-3zM1188 629h3v1h-3zM1194 629h3v1h-3zM1200 629h3v1h-3zM1206 629h3v1h-3zM1212 629h3v1h-3zM1218 629h3v1h-3zM1224 629h3v1h-3zM1230 629h3v1h-3zM1236 629h3v1h-3zM1242 629h3v1h-3zM1248 629h3v1h-3zM1254 629h3v1h-3zM1260 629h3v1h-3zM1266 629h3v1h-3zM1272 629h3v1h-3zM1278 629h3v1h-3zM1284 629h3v1h-3zM1290 629h3v1h-3zM1296 629h3v1h-3zM1302 629h3v1h-3zM1308 629h3v1h-3zM1314 629h3v1h-3zM1320 629h3v1h-3zM1326 629h3v1h-3zM1332 629h3v1h-3zM1338 629h3v1h-3zM1344 629h3v1h-3zM1350 629h3v1h-3zM1356 629h3v1h-3zM1362 629h3v1h-3zM1368 629h3v1h-3zM1374 629h3v1h-3zM1380 629h3v1h-3zM1386 629h3v1h-3zM1392 629h3v1h-3zM1398 629h3v1h-3zM1404 629h3v1h-3zM1410 629h3v1h-3zM1416 629h3v1h-3zM1422 629h3v1h-3zM1428 629h3v1h-3zM1434 629h3v1h-3zM1440 629h3v1h-3zM1446 629h3v1h-3zM1452 629h3v1h-3zM1458 629h3v1h-3zM1464 629h3v1h-3zM1470 629h3v1h-3zM1476 629h3v1h-3zM1482 629h3v1h-3zM1488 629h3v1h-3zM1494 629h3v1h-3zM1500 629h3v1h-3zM1506 629h3v1h-3zM1512 629h3v1h-3zM1518 629h3v1h-3zM1524 629h3v1h-3zM1530 629h3v1h-3zM1536 629h3v1h-3zM1542 629h3v1h-3zM1548 629h3v1h-3zM1554 629h3v1h-3zM1560 629h3v1h-3zM1566 629h3v1h-3zM1572 629h3v1h-3zM1578 629h3v1h-3zM1584 629h3v1h-3zM1590 629h3v1h-3zM1596 629h3v1h-3zM1602 629h3v1h-3zM1608 629h3v1h-3zM1614 629h3v1h-3zM1620 629h2v1h-2zM37 562v3h1v-3zM37 568v3h1v-3zM37 574v3h1v-3zM37 580v3h1v-3zM37 586v3h1v-3zM37 592v3h1v-3zM37 598v3h1v-3zM37 604v3h1v-3zM37 610v3h1v-3zM37 616v3h1v-3zM37 622v3h1v-3zM37 628v3h1v-3zM37 634v3h1v-3zM37 640v3h1v-3zM37 646v3h1v-3zM37 652v3h1v-3zM37 658v3h1v-3zM37 664v3h1v-3zM37 670v3h1v-3zM37 676v3h1v-3zM37 682v3h1v-3zM37 688v3h1v-3zM37 694v3h1v-3zM37 700v3h1v-3zM37 706v3h1v-3zM37 712v3h1v-3zM37 718v3h1v-3zM37 724v3h1v-3zM37 730v3h1v-3zM37 736v3h1v-3zM69 562v3h1v-3zM69 568v3h1v-3zM69 574v3h1v-3zM69 580v3h1v-3zM69 586v3h1v-3zM69 592v3h1v-3zM69 598v3h1v-3zM69 604v3h1v-3zM69 610v3h1v-3zM69 616v3h1v-3zM69 622v3h1v-3zM69 628v3h1v-3zM69 634v3h1v-3zM69 640v3h1v-3zM69 646v3h1v-3zM69 652v3h1v-3zM69 658v3h1v-3zM69 664v3h1v-3zM69 670v3h1v-3zM69 676v3h1v-3zM69 682v3h1v-3zM69 688v3h1v-3zM69 694v3h1v-3zM69 700v3h1v-3zM69 706v3h1v-3zM69 712v3h1v-3zM69 718v3h1v-3zM69 724v3h1v-3zM69 730v3h1v-3zM69 736v3h1v-3zM101 562v3h1v-3zM101 568v3h1v-3zM101 574v3h1v-3zM101 580v3h1v-3zM101 586v3h1v-3zM101 592v3h1v-3zM101 598v3h1v-3zM101 604v3h1v-3zM101 610v3h1v-3zM101 616v3h1v-3zM101 622v3h1v-3zM101 628v3h1v-3zM101 634v3h1v-3zM101 640v3h1v-3zM101 646v3h1v-3zM101 652v3h1v-3zM101 658v3h1v-3zM101 664v3h1v-3zM101 670v3h1v-3zM101 676v3h1v-3zM101 682v3h1v-3zM101 688v3h1v-3zM101 694v3h1v-3zM101 700v3h1v-3zM101 706v3h1v-3zM101 712v3h1v-3zM101 718v3h1v-3zM101 724v3h1v-3zM101 730v3h1v-3zM101 736v3h1v-3zM133 562v3h1v-3zM133 568v3h1v-3zM133 574v3h1v-3zM133 580v3h1v-3zM133 586v3h1v-3zM133 592v3h1v-3zM133 598v3h1v-3zM133 604v3h1v-3zM133 610v3h1v-3zM133 616v3h1v-3zM133 622v3h1v-3zM133 628v3h1v-3zM133 634v3h1v-3zM133 640v3h1v-3zM133 646v3h1v-3zM133 652v3h1v-3zM133 658v3h1v-3zM133 664v3h1v-3zM133 670v3h1v-3zM133 676v3h1v-3zM133 682v3h1v-3zM133 688v3h1v-3zM133 694v3h1v-3zM133 700v3h1v-3zM133 706v3h1v-3zM133 712v3h1v-3zM133 718v3h1v-3zM133 724v3h1v-3zM133 730v3h1v-3zM133 736v3h1v-3zM165 562v3h1v-3zM165 568v3h1v-3zM165 574v3h1v-3zM165 580v3h1v-3zM165 586v3h1v-3zM165 592v3h1v-3zM165 598v3h1v-3zM165 604v3h1v-3zM165 610v3h1v-3zM165 616v3h1v-3zM165 622v3h1v-3zM165 628v3h1v-3zM165 634v3h1v-3zM165 640v3h1v-3zM165 646v3h1v-3zM165 652v3h1v-3zM165 658v3h1v-3zM165 664v3h1v-3zM165 670v3h1v-3zM165 676v3h1v-3zM165 682v3h1v-3zM165 688v3h1v-3zM165 694v3h1v-3zM165 700v3h1v-3zM165 706v3h1v-3zM165 712v3h1v-3zM165 718v3h1v-3zM165 724v3h1v-3zM165 730v3h1v-3zM165 736v3h1v-3zM197 562v3h1v-3zM197 568v3h1v-3zM197 574v3h1v-3zM197 580v3h1v-3zM197 586v3h1v-3zM197 592v3h1v-3zM197 598v3h1v-3zM197 604v3h1v-3zM197 610v3h1v-3zM197 616v3h1v-3zM197 622v3h1v-3zM197 628v3h1v-3zM197 634v3h1v-3zM197 640v3h1v-3zM197 646v3h1v-3zM197 652v3h1v-3zM197 658v3h1v-3zM197 664v3h1v-3zM197 670v3h1v-3zM197 676v3h1v-3zM197 682v3h1v-3zM197 688v3h1v-3zM197 694v3h1v-3zM197 700v3h1v-3zM197 706v3h1v-3zM197 712v3h1v-3zM197 718v3h1v-3zM197 724v3h1v-3zM197 730v3h1v-3zM197 736v3h1v-3zM229 562v3h1v-3zM229 568v3h1v-3zM229 574v3h1v-3zM229 580v3h1v-3zM229 586v3h1v-3zM229 592v3h1v-3zM229 598v3h1v-3zM229 604v3h1v-3zM229 610v3h1v-3zM229 616v3h1v-3zM229 622v3h1v-3zM229 628v3h1v-3zM229 634v3h1v-3zM229 640v3h1v-3zM229 646v3h1v-3zM229 652v3h1v-3zM229 658v3h1v-3zM229 664v3h1v-3zM229 670v3h1v-3zM229 676v3h1v-3zM229 682v3h1v-3zM229 688v3h1v-3zM229 694v3h1v-3zM229 700v3h1v-3zM229 706v3h1v-3zM229 712v3h1v-3zM229 718v3h1v-3zM229 724v3h1v-3zM229 730v3h1v-3zM229 736v3h1v-3zM261 562v3h1v-3zM261 568v3h1v-3zM261 574v3h1v-3zM261 580v3h1v-3zM261 586v3h1v-3zM261 592v3h1v-3zM261 598v3h1v-3zM261 604v3h1v-3zM261 610v3h1v-3zM261 616v3h1v-3zM261 622v3h1v-3zM261 628v3h1v-3zM261 634v3h1v-3zM261 640v3h1v-3zM261 646v3h1v-3zM261 652v3h1v-3zM261 658v3h1v-3zM261 664v3h1v-3zM261 670v3h1v-3zM261 676v3h1v-3zM261 682v3h1v-3zM261 688v3h1v-3zM261 694v3h1v-3zM261 700v3h1v-3zM261 706v3h1v-3zM261 712v3h1v-3zM261 718v3h1v-3zM261 724v3h1v-3zM261 730v3h1v-3zM261 736v3h1v-3zM293 562v3h1v-3zM293 568v3h1v-3zM293 574v3h1v-3zM293 580v3h1v-3zM293 586v3h1v-3zM293 592v3h1v-3zM293 598v3h1v-3zM293 604v3h1v-3zM293 610v3h1v-3zM293 616v3h1v-3zM293 622v3h1v-3zM293 628v3h1v-3zM293 634v3h1v-3zM293 640v3h1v-3zM293 646v3h1v-3zM293 652v3h1v-3zM293 658v3h1v-3zM293 664v3h1v-3zM293 670v3h1v-3zM293 676v3h1v-3zM293 682v3h1v-3zM293 688v3h1v-3zM293 694v3h1v-3zM293 700v3h1v-3zM293 706v3h1v-3zM293 712v3h1v-3zM293 718v3h1v-3zM293 724v3h1v-3zM293 730v3h1v-3zM293 736v3h1v-3zM325 562v3h1v-3zM325 568v3h1v-3zM325 574v3h1v-3zM325 580v3h1v-3zM325 586v3h1v-3zM325 592v3h1v-3zM325 598v3h1v-3zM325 604v3h1v-3zM325 610v3h1v-3zM325 616v3h1v-3zM325 622v3h1v-3zM325 628v3h1v-3zM325 634v3h1v-3zM325 640v3h1v-3zM325 646v3h1v-3zM325 652v3h1v-3zM325 658v3h1v-3zM325 664v3h1v-3zM325 670v3h1v-3zM325 676v3h1v-3zM325 682v3h1v-3zM325 688v3h1v-3zM325 694v3h1v-3zM325 700v3h1v-3zM325 706v3h1v-3zM325 712v3h1v-3zM325 718v3h1v-3zM325 724v3h1v-3zM325 730v3h1v-3zM325 736v3h1v-3zM357 562v3h1v-3zM357 568v3h1v-3zM357 574v3h1v-3zM357 580v3h1v-3zM357 586v3h1v-3zM357 592v3h1v-3zM357 598v3h1v-3zM357 604v3h1v-3zM357 610v3h1v-3zM357 616v3h1v-3zM357 622v3h1v-3zM357 628v3h1v-3zM357 634v3h1v-3zM357 640v3h1v-3zM357 646v3h1v-3zM357 652v3h1v-3zM357 658v3h1v-3zM357 664v3h1v-3zM357 670v3h1v-3zM357 676v3h1v-3zM357 682v3h1v-3zM357 688v3h1v-3zM357 694v3h1v-3zM357 700v3h1v-3zM357 706v3h1v-3zM357 712v3h1v-3zM357 718v3h1v-3zM357 724v3h1v-3zM357 730v3h1v-3zM357 736v3h1v-3zM389 562v3h1v-3zM389 568v3h1v-3zM389 574v3h1v-3zM389 580v3h1v-3zM389 586v3h1v-3zM389 592v3h1v-3zM389 598v3h1v-3zM389 604v3h1v-3zM389 610v3h1v-3zM389 616v3h1v-3zM389 622v3h1v-3zM389 628v3h1v-3zM389 634v3h1v-3zM389 640v3h1v-3zM389 646v3h1v-3zM389 652v3h1v-3zM389 658v3h1v-3zM389 664v3h1v-3zM389 670v3h1v-3zM389 676v3h1v-3zM389 682v3h1v-3zM389 688v3h1v-3zM389 694v3h1v-3zM389 700v3h1v-3zM389 706v3h1v-3zM389 712v3h1v-3zM389 718v3h1v-3zM389 724v3h1v-3zM389 730v3h1v-3zM389 736v3h1v-3zM421 562v3h1v-3zM421 568v3h1v-3zM421 574v3h1v-3zM421 580v3h1v-3zM421 586v3h1v-3zM421 592v3h1v-3zM421 598v3h1v-3zM421 604v3h1v-3zM421 610v3h1v-3zM421 616v3h1v-3zM421 622v3h1v-3zM421 628v3h1v-3zM421 634v3h1v-3zM421 640v3h1v-3zM421 646v3h1v-3zM421 652v3h1v-3zM421 658v3h1v-3zM421 664v3h1v-3zM421 670v3h1v-3zM421 676v3h1v-3zM421 682v3h1v-3zM421 688v3h1v-3zM421 694v3h1v-3zM421 700v3h1v-3zM421 706v3h1v-3zM421 712v3h1v-3zM421 718v3h1v-3zM421 724v3h1v-3zM421 730v3h1v-3zM421 736v3h1v-3zM453 562v3h1v-3zM453 568v3h1v-3zM453 574v3h1v-3zM453 580v3h1v-3zM453 586v3h1v-3zM453 592v3h1v-3zM453 598v3h1v-3zM453 604v3h1v-3zM453 610v3h1v-3zM453 616v3h1v-3zM453 622v3h1v-3zM453 628v3h1v-3zM453 634v3h1v-3zM453 640v3h1v-3zM453 646v3h1v-3zM453 652v3h1v-3zM453 658v3h1v-3zM453 664v3h1v-3zM453 670v3h1v-3zM453 676v3h1v-3zM453 682v3h1v-3zM453 688v3h1v-3zM453 694v3h1v-3zM453 700v3h1v-3zM453 706v3h1v-3zM453 712v3h1v-3zM453 718v3h1v-3zM453 724v3h1v-3zM453 730v3h1v-3zM453 736v3h1v-3zM485 562v3h1v-3zM485 568v3h1v-3zM485 574v3h1v-3zM485 580v3h1v-3zM485 586v3h1v-3zM485 592v3h1v-3zM485 598v3h1v-3zM485 604v3h1v-3zM485 610v3h1v-3zM485 616v3h1v-3zM485 622v3h1v-3zM485 628v3h1v-3zM485 634v3h1v-3zM485 640v3h1v-3zM485 646v3h1v-3zM485 652v3h1v-3zM485 658v3h1v-3zM485 664v3h1v-3zM485 670v3h1v-3zM485 676v3h1v-3zM485 682v3h1v-3zM485 688v3h1v-3zM485 694v3h1v-3zM485 700v3h1v-3zM485 706v3h1v-3zM485 712v3h1v-3zM485 718v3h1v-3zM485 724v3h1v-3zM485 730v3h1v-3zM485 736v3h1v-3zM517 562v3h1v-3zM517 568v3h1v-3zM517 574v3h1v-3zM517 580v3h1v-3zM517 586v3h1v-3zM517 592v3h1v-3zM517 598v3h1v-3zM517 604v3h1v-3zM517 610v3h1v-3zM517 616v3h1v-3zM517 622v3h1v-3zM517 628v3h1v-3zM517 634v3h1v-3zM517 640v3h1v-3zM517 646v3h1v-3zM517 652v3h1v-3zM517 658v3h1v-3zM517 664v3h1v-3zM517 670v3h1v-3zM517 676v3h1v-3zM517 682v3h1v-3zM517 688v3h1v-3zM517 694v3h1v-3zM517 700v3h1v-3zM517 706v3h1v-3zM517 712v3h1v-3zM517 718v3h1v-3zM517 724v3h1v-3zM517 730v3h1v-3zM517 736v3h1v-3zM549 562v3h1v-3zM549 568v3h1v-3zM549 574v3h1v-3zM549 580v3h1v-3zM549 586v3h1v-3zM549 592v3h1v-3zM549 598v3h1v-3zM549 604v3h1v-3zM549 610v3h1v-3zM549 616v3h1v-3zM549 622v3h1v-3zM549 628v3h1v-3zM549 634v3h1v-3zM549 640v3h1v-3zM549 646v3h1v-3zM549 652v3h1v-3zM549 658v3h1v-3zM549 664v3h1v-3zM549 670v3h1v-3zM549 676v3h1v-3zM549 682v3h1v-3zM549 688v3h1v-3zM549 694v3h1v-3zM549 700v3h1v-3zM549 706v3h1v-3zM549 712v3h1v-3zM549 718v3h1v-3zM549 724v3h1v-3zM549 730v3h1v-3zM549 736v3h1v-3zM581 562v3h1v-3zM581 568v3h1v-3zM581 574v3h1v-3zM581 580v3h1v-3zM581 586v3h1v-3zM581 592v3h1v-3zM581 598v3h1v-3zM581 604v3h1v-3zM581 610v3h1v-3zM581 616v3h1v-3zM581 622v3h1v-3zM581 628v3h1v-3zM581 634v3h1v-3zM581 640v3h1v-3zM581 646v3h1v-3zM581 652v3h1v-3zM581 658v3h1v-3zM581 664v3h1v-3zM581 670v3h1v-3zM581 676v3h1v-3zM581 682v3h1v-3zM581 688v3h1v-3zM581 694v3h1v-3zM581 700v3h1v-3zM581 706v3h1v-3zM581 712v3h1v-3zM581 718v3h1v-3zM581 724v3h1v-3zM581 730v3h1v-3zM581 736v3h1v-3zM613 562v3h1v-3zM613 568v3h1v-3zM613 574v3h1v-3zM613 580v3h1v-3zM613 586v3h1v-3zM613 592v3h1v-3zM613 598v3h1v-3zM613 604v3h1v-3zM613 610v3h1v-3zM613 616v3h1v-3zM613 622v3h1v-3zM613 628v3h1v-3zM613 634v3h1v-3zM613 640v3h1v-3zM613 646v3h1v-3zM613 652v3h1v-3zM613 658v3h1v-3zM613 664v3h1v-3zM613 670v3h1v-3zM613 676v3h1v-3zM613 682v3h1v-3zM613 688v3h1v-3zM613 694v3h1v-3zM613 700v3h1v-3zM613 706v3h1v-3zM613 712v3h1v-3zM613 718v3h1v-3zM613 724v3h1v-3zM613 730v3h1v-3zM613 736v3h1v-3zM645 562v3h1v-3zM645 568v3h1v-3zM645 574v3h1v-3zM645 580v3h1v-3zM645 586v3h1v-3zM645 592v3h1v-3zM645 598v3h1v-3zM645 604v3h1v-3zM645 610v3h1v-3zM645 616v3h1v-3zM645 622v3h1v-3zM645 628v3h1v-3zM645 634v3h1v-3zM645 640v3h1v-3zM645 646v3h1v-3zM645 652v3h1v-3zM645 658v3h1v-3zM645 664v3h1v-3zM645 670v3h1v-3zM645 676v3h1v-3zM645 682v3h1v-3zM645 688v3h1v-3zM645 694v3h1v-3zM645 700v3h1v-3zM645 706v3h1v-3zM645 712v3h1v-3zM645 718v3h1v-3zM645 724v3h1v-3zM645 730v3h1v-3zM645 736v3h1v-3zM677 562v3h1v-3zM677 568v3h1v-3zM677 574v3h1v-3zM677 580v3h1v-3zM677 586v3h1v-3zM677 592v3h1v-3zM677 598v3h1v-3zM677 604v3h1v-3zM677 610v3h1v-3zM677 616v3h1v-3zM677 622v3h1v-3zM677 628v3h1v-3zM677 634v3h1v-3zM677 640v3h1v-3zM677 646v3h1v-3zM677 652v3h1v-3zM677 658v3h1v-3zM677 664v3h1v-3zM677 670v3h1v-3zM677 676v3h1v-3zM677 682v3h1v-3zM677 688v3h1v-3zM677 694v3h1v-3zM677 700v3h1v-3zM677 706v3h1v-3zM677 712v3h1v-3zM677 718v3h1v-3zM677 724v3h1v-3zM677 730v3h1v-3zM677 736v3h1v-3zM709 562v3h1v-3zM709 568v3h1v-3zM709 574v3h1v-3zM709 580v3h1v-3zM709 586v3h1v-3zM709 592v3h1v-3zM709 598v3h1v-3zM709 604v3h1v-3zM709 610v3h1v-3zM709 616v3h1v-3zM709 622v3h1v-3zM709 628v3h1v-3zM709 634v3h1v-3zM709 640v3h1v-3zM709 646v3h1v-3zM709 652v3h1v-3zM709 658v3h1v-3zM709 664v3h1v-3zM709 670v3h1v-3zM709 676v3h1v-3zM709 682v3h1v-3zM709 688v3h1v-3zM709 694v3h1v-3zM709 700v3h1v-3zM709 706v3h1v-3zM709 712v3h1v-3zM709 718v3h1v-3zM709 724v3h1v-3zM709 730v3h1v-3zM709 736v3h1v-3zM741 562v3h1v-3zM741 568v3h1v-3zM741 574v3h1v-3zM741 580v3h1v-3zM741 586v3h1v-3zM741 592v3h1v-3zM741 598v3h1v-3zM741 604v3h1v-3zM741 610v3h1v-3zM741 616v3h1v-3zM741 622v3h1v-3zM741 628v3h1v-3zM741 634v3h1v-3zM741 640v3h1v-3zM741 646v3h1v-3zM741 652v3h1v-3zM741 658v3h1v-3zM741 664v3h1v-3zM741 670v3h1v-3zM741 676v3h1v-3zM741 682v3h1v-3zM741 688v3h1v-3zM741 694v3h1v-3zM741 700v3h1v-3zM741 706v3h1v-3zM741 712v3h1v-3zM741 718v3h1v-3zM741 724v3h1v-3zM741 730v3h1v-3zM741 736v3h1v-3zM773 562v3h1v-3zM773 568v3h1v-3zM773 574v3h1v-3zM773 580v3h1v-3zM773 586v3h1v-3zM773 592v3h1v-3zM773 598v3h1v-3zM773 604v3h1v-3zM773 610v3h1v-3zM773 616v3h1v-3zM773 622v3h1v-3zM773 628v3h1v-3zM773 634v3h1v-3zM773 640v3h1v-3zM773 646v3h1v-3zM773 652v3h1v-3zM773 658v3h1v-3zM773 664v3h1v-3zM773 670v3h1v-3zM773 676v3h1v-3zM773 682v3h1v-3zM773 688v3h1v-3zM773 694v3h1v-3zM773 700v3h1v-3zM773 706v3h1v-3zM773 712v3h1v-3zM773 718v3h1v-3zM773 724v3h1v-3zM773 730v3h1v-3zM773 736v3h1v-3zM805 562v3h1v-3zM805 568v3h1v-3zM805 574v3h1v-3zM805 580v3h1v-3zM805 586v3h1v-3zM805 592v3h1v-3zM805 598v3h1v-3zM805 604v3h1v-3zM805 610v3h1v-3zM805 616v3h1v-3zM805 622v3h1v-3zM805 628v3h1v-3zM805 634v3h1v-3zM805 640v3h1v-3zM805 646v3h1v-3zM805 652v3h1v-3zM805 658v3h1v-3zM805 664v3h1v-3zM805 670v3h1v-3zM805 676v3h1v-3zM805 682v3h1v-3zM805 688v3h1v-3zM805 694v3h1v-3zM805 700v3h1v-3zM805 706v3h1v-3zM805 712v3h1v-3zM805 718v3h1v-3zM805 724v3h1v-3zM805 730v3h1v-3zM805 736v3h1v-3zM837 562v3h1v-3zM837 568v3h1v-3zM837 574v3h1v-3zM837 580v3h1v-3zM837 586v3h1v-3zM837 592v3h1v-3zM837 598v3h1v-3zM837 604v3h1v-3zM837 610v3h1v-3zM837 616v3h1v-3zM837 622v3h1v-3zM837 628v3h1v-3zM837 634v3h1v-3zM837 640v3h1v-3zM837 646v3h1v-3zM837 652v3h1v-3zM837 658v3h1v-3zM837 664v3h1v-3zM837 670v3h1v-3zM837 676v3h1v-3zM837 682v3h1v-3zM837 688v3h1v-3zM837 694v3h1v-3zM837 700v3h1v-3zM837 706v3h1v-3zM837 712v3h1v-3zM837 718v3h1v-3zM837 724v3h1v-3zM837 730v3h1v-3zM837 736v3h1v-3zM869 562v3h1v-3zM869 568v3h1v-3zM869 574v3h1v-3zM869 580v3h1v-3zM869 586v3h1v-3zM869 592v3h1v-3zM869 598v3h1v-3zM869 604v3h1v-3zM869 610v3h1v-3zM869 616v3h1v-3zM869 622v3h1v-3zM869 628v3h1v-3zM869 634v3h1v-3zM869 640v3h1v-3zM869 646v3h1v-3zM869 652v3h1v-3zM869 658v3h1v-3zM869 664v3h1v-3zM869 670v3h1v-3zM869 676v3h1v-3zM869 682v3h1v-3zM869 688v3h1v-3zM869 694v3h1v-3zM869 700v3h1v-3zM869 706v3h1v-3zM869 712v3h1v-3zM869 718v3h1v-3zM869 724v3h1v-3zM869 730v3h1v-3zM869 736v3h1v-3zM901 562v3h1v-3zM901 568v3h1v-3zM901 574v3h1v-3zM901 580v3h1v-3zM901 586v3h1v-3zM901 592v3h1v-3zM901 598v3h1v-3zM901 604v3h1v-3zM901 610v3h1v-3zM901 616v3h1v-3zM901 622v3h1v-3zM901 628v3h1v-3zM901 634v3h1v-3zM901 640v3h1v-3zM901 646v3h1v-3zM901 652v3h1v-3zM901 658v3h1v-3zM901 664v3h1v-3zM901 670v3h1v-3zM901 676v3h1v-3zM901 682v3h1v-3zM901 688v3h1v-3zM901 694v3h1v-3zM901 700v3h1v-3zM901 706v3h1v-3zM901 712v3h1v-3zM901 718v3h1v-3zM901 724v3h1v-3zM901 730v3h1v-3zM901 736v3h1v-3zM933 562v3h1v-3zM933 568v3h1v-3zM933 574v3h1v-3zM933 580v3h1v-3zM933 586v3h1v-3zM933 592v3h1v-3zM933 598v3h1v-3zM933 604v3h1v-3zM933 610v3h1v-3zM933 616v3h1v-3zM933 622v3h1v-3zM933 628v3h1v-3zM933 634v3h1v-3zM933 640v3h1v-3zM933 646v3h1v-3zM933 652v3h1v-3zM933 658v3h1v-3zM933 664v3h1v-3zM933 670v3h1v-3zM933 676v3h1v-3zM933 682v3h1v-3zM933 688v3h1v-3zM933 694v3h1v-3zM933 700v3h1v-3zM933 706v3h1v-3zM933 712v3h1v-3zM933 718v3h1v-3zM933 724v3h1v-3zM933 730v3h1v-3zM933 736v3h1v-3zM965 562v3h1v-3zM965 568v3h1v-3zM965 574v3h1v-3zM965 580v3h1v-3zM965 586v3h1v-3zM965 592v3h1v-3zM965 598v3h1v-3zM965 604v3h1v-3zM965 610v3h1v-3zM965 616v3h1v-3zM965 622v3h1v-3zM965 628v3h1v-3zM965 634v3h1v-3zM965 640v3h1v-3zM965 646v3h1v-3zM965 652v3h1v-3zM965 658v3h1v-3zM965 664v3h1v-3zM965 670v3h1v-3zM965 676v3h1v-3zM965 682v3h1v-3zM965 688v3h1v-3zM965 694v3h1v-3zM965 700v3h1v-3zM965 706v3h1v-3zM965 712v3h1v-3zM965 718v3h1v-3zM965 724v3h1v-3zM965 730v3h1v-3zM965 736v3h1v-3zM997 562v3h1v-3zM997 568v3h1v-3zM997 574v3h1v-3zM997 580v3h1v-3zM997 586v3h1v-3zM997 592v3h1v-3zM997 598v3h1v-3zM997 604v3h1v-3zM997 610v3h1v-3zM997 616v3h1v-3zM997 622v3h1v-3zM997 628v3h1v-3zM997 634v3h1v-3zM997 640v3h1v-3zM997 646v3h1v-3zM997 652v3h1v-3zM997 658v3h1v-3zM997 664v3h1v-3zM997 670v3h1v-3zM997 676v3h1v-3zM997 682v3h1v-3zM997 688v3h1v-3zM997 694v3h1v-3zM997 700v3h1v-3zM997 706v3h1v-3zM997 712v3h1v-3zM997 718v3h1v-3zM997 724v3h1v-3zM997 730v3h1v-3zM997 736v3h1v-3zM1029 562v3h1v-3zM1029 568v3h1v-3zM1029 574v3h1v-3zM1029 580v3h1v-3zM1029 586v3h1v-3zM1029 592v3h1v-3zM1029 598v3h1v-3zM1029 604v3h1v-3zM1029 610v3h1v-3zM1029 616v3h1v-3zM1029 622v3h1v-3zM1029 628v3h1v-3zM1029 634v3h1v-3zM1029 640v3h1v-3zM1029 646v3h1v-3zM1029 652v3h1v-3zM1029 658v3h1v-3zM1029 664v3h1v-3zM1029 670v3h1v-3zM1029 676v3h1v-3zM1029 682v3h1v-3zM1029 688v3h1v-3zM1029 694v3h1v-3zM1029 700v3h1v-3zM1029 706v3h1v-3zM1029 712v3h1v-3zM1029 718v3h1v-3zM1029 724v3h1v-3zM1029 730v3h1v-3zM1029 736v3h1v-3zM1061 562v3h1v-3zM1061 568v3h1v-3zM1061 574v3h1v-3zM1061 580v3h1v-3zM1061 586v3h1v-3zM1061 592v3h1v-3zM1061 598v3h1v-3zM1061 604v3h1v-3zM1061 610v3h1v-3zM1061 616v3h1v-3zM1061 622v3h1v-3zM1061 628v3h1v-3zM1061 634v3h1v-3zM1061 640v3h1v-3zM1061 646v3h1v-3zM1061 652v3h1v-3zM1061 658v3h1v-3zM1061 664v3h1v-3zM1061 670v3h1v-3zM1061 676v3h1v-3zM1061 682v3h1v-3zM1061 688v3h1v-3zM1061 694v3h1v-3zM1061 700v3h1v-3zM1061 706v3h1v-3zM1061 712v3h1v-3zM1061 718v3h1v-3zM1061 724v3h1v-3zM1061 730v3h1v-3zM1061 736v3h1v-3zM1093 562v3h1v-3zM1093 568v3h1v-3zM1093 574v3h1v-3zM1093 580v3h1v-3zM1093 586v3h1v-3zM1093 592v3h1v-3zM1093 598v3h1v-3zM1093 604v3h1v-3zM1093 610v3h1v-3zM1093 616v3h1v-3zM1093 622v3h1v-3zM1093 628v3h1v-3zM1093 634v3h1v-3zM1093 640v3h1v-3zM1093 646v3h1v-3zM1093 652v3h1v-3zM1093 658v3h1v-3zM1093 664v3h1v-3zM1093 670v3h1v-3zM1093 676v3h1v-3zM1093 682v3h1v-3zM1093 688v3h1v-3zM1093 694v3h1v-3zM1093 700v3h1v-3zM1093 706v3h1v-3zM1093 712v3h1v-3zM1093 718v3h1v-3zM1093 724v3h1v-3zM1093 730v3h1v-3zM1093 736v3h1v-3zM1125 562v3h1v-3zM1125 568v3h1v-3zM1125 574v3h1v-3zM1125 580v3h1v-3zM1125 586v3h1v-3zM1125 592v3h1v-3zM1125 598v3h1v-3zM1125 604v3h1v-3zM1125 610v3h1v-3zM1125 616v3h1v-3zM1125 622v3h1v-3zM1125 628v3h1v-3zM1125 634v3h1v-3zM1125 640v3h1v-3zM1125 646v3h1v-3zM1125 652v3h1v-3zM1125 658v3h1v-3zM1125 664v3h1v-3zM1125 670v3h1v-3zM1125 676v3h1v-3zM1125 682v3h1v-3zM1125 688v3h1v-3zM1125 694v3h1v-3zM1125 700v3h1v-3zM1125 706v3h1v-3zM1125 712v3h1v-3zM1125 718v3h1v-3zM1125 724v3h1v-3zM1125 730v3h1v-3zM1125 736v3h1v-3zM1157 562v3h1v-3zM1157 568v3h1v-3zM1157 574v3h1v-3zM1157 580v3h1v-3zM1157 586v3h1v-3zM1157 592v3h1v-3zM1157 598v3h1v-3zM1157 604v3h1v-3zM1157 610v3h1v-3zM1157 616v3h1v-3zM1157 622v3h1v-3zM1157 628v3h1v-3zM1157 634v3h1v-3zM1157 640v3h1v-3zM1157 646v3h1v-3zM1157 652v3h1v-3zM1157 658v3h1v-3zM1157 664v3h1v-3zM1157 670v3h1v-3zM1157 676v3h1v-3zM1157 682v3h1v-3zM1157 688v3h1v-3zM1157 694v3h1v-3zM1157 700v3h1v-3zM1157 706v3h1v-3zM1157 712v3h1v-3zM1157 718v3h1v-3zM1157 724v3h1v-3zM1157 730v3h1v-3zM1157 736v3h1v-3zM1189 562v3h1v-3zM1189 568v3h1v-3zM1189 574v3h1v-3zM1189 580v3h1v-3zM1189 586v3h1v-3zM1189 592v3h1v-3zM1189 598v3h1v-3zM1189 604v3h1v-3zM1189 610v3h1v-3zM1189 616v3h1v-3zM1189 622v3h1v-3zM1189 628v3h1v-3zM1189 634v3h1v-3zM1189 640v3h1v-3zM1189 646v3h1v-3zM1189 652v3h1v-3zM1189 658v3h1v-3zM1189 664v3h1v-3zM1189 670v3h1v-3zM1189 676v3h1v-3zM1189 682v3h1v-3zM1189 688v3h1v-3zM1189 694v3h1v-3zM1189 700v3h1v-3zM1189 706v3h1v-3zM1189 712v3h1v-3zM1189 718v3h1v-3zM1189 724v3h1v-3zM1189 730v3h1v-3zM1189 736v3h1v-3zM1221 562v3h1v-3zM1221 568v3h1v-3zM1221 574v3h1v-3zM1221 580v3h1v-3zM1221 586v3h1v-3zM1221 592v3h1v-3zM1221 598v3h1v-3zM1221 604v3h1v-3zM1221 610v3h1v-3zM1221 616v3h1v-3zM1221 622v3h1v-3zM1221 628v3h1v-3zM1221 634v3h1v-3zM1221 640v3h1v-3zM1221 646v3h1v-3zM1221 652v3h1v-3zM1221 658v3h1v-3zM1221 664v3h1v-3zM1221 670v3h1v-3zM1221 676v3h1v-3zM1221 682v3h1v-3zM1221 688v3h1v-3zM1221 694v3h1v-3zM1221 700v3h1v-3zM1221 706v3h1v-3zM1221 712v3h1v-3zM1221 718v3h1v-3zM1221 724v3h1v-3zM1221 730v3h1v-3zM1221 736v3h1v-3zM1253 562v3h1v-3zM1253 568v3h1v-3zM1253 574v3h1v-3zM1253 580v3h1v-3zM1253 586v3h1v-3zM1253 592v3h1v-3zM1253 598v3h1v-3zM1253 604v3h1v-3zM1253 610v3h1v-3zM1253 616v3h1v-3zM1253 622v3h1v-3zM1253 628v3h1v-3zM1253 634v3h1v-3zM1253 640v3h1v-3zM1253 646v3h1v-3zM1253 652v3h1v-3zM1253 658v3h1v-3zM1253 664v3h1v-3zM1253 670v3h1v-3zM1253 676v3h1v-3zM1253 682v3h1v-3zM1253 688v3h1v-3zM1253 694v3h1v-3zM1253 700v3h1v-3zM1253 706v3h1v-3zM1253 712v3h1v-3zM1253 718v3h1v-3zM1253 724v3h1v-3zM1253 730v3h1v-3zM1253 736v3h1v-3zM1285 562v3h1v-3zM1285 568v3h1v-3zM1285 574v3h1v-3zM1285 580v3h1v-3zM1285 586v3h1v-3zM1285 592v3h1v-3zM1285 598v3h1v-3zM1285 604v3h1v-3zM1285 610v3h1v-3zM1285 616v3h1v-3zM1285 622v3h1v-3zM1285 628v3h1v-3zM1285 634v3h1v-3zM1285 640v3h1v-3zM1285 646v3h1v-3zM1285 652v3h1v-3zM1285 658v3h1v-3zM1285 664v3h1v-3zM1285 670v3h1v-3zM1285 676v3h1v-3zM1285 682v3h1v-3zM1285 688v3h1v-3zM1285 694v3h1v-3zM1285 700v3h1v-3zM1285 706v3h1v-3zM1285 712v3h1v-3zM1285 718v3h1v-3zM1285 724v3h1v-3zM1285 730v3h1v-3zM1285 736v3h1v-3zM1317 562v3h1v-3zM1317 568v3h1v-3zM1317 574v3h1v-3zM1317 580v3h1v-3zM1317 586v3h1v-3zM1317 592v3h1v-3zM1317 598v3h1v-3zM1317 604v3h1v-3zM1317 610v3h1v-3zM1317 616v3h1v-3zM1317 622v3h1v-3zM1317 628v3h1v-3zM1317 634v3h1v-3zM1317 640v3h1v-3zM1317 646v3h1v-3zM1317 652v3h1v-3zM1317 658v3h1v-3zM1317 664v3h1v-3zM1317 670v3h1v-3zM1317 676v3h1v-3zM1317 682v3h1v-3zM1317 688v3h1v-3zM1317 694v3h1v-3zM1317 700v3h1v-3zM1317 706v3h1v-3zM1317 712v3h1v-3zM1317 718v3h1v-3zM1317 724v3h1v-3zM1317 730v3h1v-3zM1317 736v3h1v-3zM1349 562v3h1v-3zM1349 568v3h1v-3zM1349 574v3h1v-3zM1349 580v3h1v-3zM1349 586v3h1v-3zM1349 592v3h1v-3zM1349 598v3h1v-3zM1349 604v3h1v-3zM1349 610v3h1v-3zM1349 616v3h1v-3zM1349 622v3h1v-3zM1349 628v3h1v-3zM1349 634v3h1v-3zM1349 640v3h1v-3zM1349 646v3h1v-3zM1349 652v3h1v-3zM1349 658v3h1v-3zM1349 664v3h1v-3zM1349 670v3h1v-3zM1349 676v3h1v-3zM1349 682v3h1v-3zM1349 688v3h1v-3zM1349 694v3h1v-3zM1349 700v3h1v-3zM1349 706v3h1v-3zM1349 712v3h1v-3zM1349 718v3h1v-3zM1349 724v3h1v-3zM1349 730v3h1v-3zM1349 736v3h1v-3zM1381 562v3h1v-3zM1381 568v3h1v-3zM1381 574v3h1v-3zM1381 580v3h1v-3zM1381 586v3h1v-3zM1381 592v3h1v-3zM1381 598v3h1v-3zM1381 604v3h1v-3zM1381 610v3h1v-3zM1381 616v3h1v-3zM1381 622v3h1v-3zM1381 628v3h1v-3zM1381 634v3h1v-3zM1381 640v3h1v-3zM1381 646v3h1v-3zM1381 652v3h1v-3zM1381 658v3h1v-3zM1381 664v3h1v-3zM1381 670v3h1v-3zM1381 676v3h1v-3zM1381 682v3h1v-3zM1381 688v3h1v-3zM1381 694v3h1v-3zM1381 700v3h1v-3zM1381 706v3h1v-3zM1381 712v3h1v-3zM1381 718v3h1v-3zM1381 724v3h1v-3zM1381 730v3h1v-3zM1381 736v3h1v-3zM1413 562v3h1v-3zM1413 568v3h1v-3zM1413 574v3h1v-3zM1413 580v3h1v-3zM1413 586v3h1v-3zM1413 592v3h1v-3zM1413 598v3h1v-3zM1413 604v3h1v-3zM1413 610v3h1v-3zM1413 616v3h1v-3zM1413 622v3h1v-3zM1413 628v3h1v-3zM1413 634v3h1v-3zM1413 640v3h1v-3zM1413 646v3h1v-3zM1413 652v3h1v-3zM1413 658v3h1v-3zM1413 664v3h1v-3zM1413 670v3h1v-3zM1413 676v3h1v-3zM1413 682v3h1v-3zM1413 688v3h1v-3zM1413 694v3h1v-3zM1413 700v3h1v-3zM1413 706v3h1v-3zM1413 712v3h1v-3zM1413 718v3h1v-3zM1413 724v3h1v-3zM1413 730v3h1v-3zM1413 736v3h1v-3zM1445 562v3h1v-3zM1445 568v3h1v-3zM1445 574v3h1v-3zM1445 580v3h1v-3zM1445 586v3h1v-3zM1445 592v3h1v-3zM1445 598v3h1v-3zM1445 604v3h1v-3zM1445 610v3h1v-3zM1445 616v3h1v-3zM1445 622v3h1v-3zM1445 628v3h1v-3zM1445 634v3h1v-3zM1445 640v3h1v-3zM1445 646v3h1v-3zM1445 652v3h1v-3zM1445 658v3h1v-3zM1445 664v3h1v-3zM1445 670v3h1v-3zM1445 676v3h1v-3zM1445 682v3h1v-3zM1445 688v3h1v-3zM1445 694v3h1v-3zM1445 700v3h1v-3zM1445 706v3h1v-3zM1445 712v3h1v-3zM1445 718v3h1v-3zM1445 724v3h1v-3zM1445 730v3h1v-3zM1445 736v3h1v-3zM1477 562v3h1v-3zM1477 568v3h1v-3zM1477 574v3h1v-3zM1477 580v3h1v-3zM1477 586v3h1v-3zM1477 592v3h1v-3zM1477 598v3h1v-3zM1477 604v3h1v-3zM1477 610v3h1v-3zM1477 616v3h1v-3zM1477 622v3h1v-3zM1477 628v3h1v-3zM1477 634v3h1v-3zM1477 640v3h1v-3zM1477 646v3h1v-3zM1477 652v3h1v-3zM1477 658v3h1v-3zM1477 664v3h1v-3zM1477 670v3h1v-3zM1477 676v3h1v-3zM1477 682v3h1v-3zM1477 688v3h1v-3zM1477 694v3h1v-3zM1477 700v3h1v-3zM1477 706v3h1v-3zM1477 712v3h1v-3zM1477 718v3h1v-3zM1477 724v3h1v-3zM1477 730v3h1v-3zM1477 736v3h1v-3zM1509 562v3h1v-3zM1509 568v3h1v-3zM1509 574v3h1v-3zM1509 580v3h1v-3zM1509 586v3h1v-3zM1509 592v3h1v-3zM1509 598v3h1v-3zM1509 604v3h1v-3zM1509 610v3h1v-3zM1509 616v3h1v-3zM1509 622v3h1v-3zM1509 628v3h1v-3zM1509 634v3h1v-3zM1509 640v3h1v-3zM1509 646v3h1v-3zM1509 652v3h1v-3zM1509 658v3h1v-3zM1509 664v3h1v-3zM1509 670v3h1v-3zM1509 676v3h1v-3zM1509 682v3h1v-3zM1509 688v3h1v-3zM1509 694v3h1v-3zM1509 700v3h1v-3zM1509 706v3h1v-3zM1509 712v3h1v-3zM1509 718v3h1v-3zM1509 724v3h1v-3zM1509 730v3h1v-3zM1509 736v3h1v-3zM1541 562v3h1v-3zM1541 568v3h1v-3zM1541 574v3h1v-3zM1541 580v3h1v-3zM1541 586v3h1v-3zM1541 592v3h1v-3zM1541 598v3h1v-3zM1541 604v3h1v-3zM1541 610v3h1v-3zM1541 616v3h1v-3zM1541 622v3h1v-3zM1541 628v3h1v-3zM1541 634v3h1v-3zM1541 640v3h1v-3zM1541 646v3h1v-3zM1541 652v3h1v-3zM1541 658v3h1v-3zM1541 664v3h1v-3zM1541 670v3h1v-3zM1541 676v3h1v-3zM1541 682v3h1v-3zM1541 688v3h1v-3zM1541 694v3h1v-3zM1541 700v3h1v-3zM1541 706v3h1v-3zM1541 712v3h1v-3zM1541 718v3h1v-3zM1541 724v3h1v-3zM1541 730v3h1v-3zM1541 736v3h1v-3zM1573 562v3h1v-3zM1573 568v3h1v-3zM1573 574v3h1v-3zM1573 580v3h1v-3zM1573 586v3h1v-3zM1573 592v3h1v-3zM1573 598v3h1v-3zM1573 604v3h1v-3zM1573 610v3h1v-3zM1573 616v3h1v-3zM1573 622v3h1v-3zM1573 628v3h1v-3zM1573 634v3h1v-3zM1573 640v3h1v-3zM1573 646v3h1v-3zM1573 652v3h1v-3zM1573 658v3h1v-3zM1573 664v3h1v-3zM1573 670v3h1v-3zM1573 676v3h1v-3zM1573 682v3h1v-3zM1573 688v3h1v-3zM1573 694v3h1v-3zM1573 700v3h1v-3zM1573 706v3h1v-3zM1573 712v3h1v-3zM1573 718v3h1v-3zM1573 724v3h1v-3zM1573 730v3h1v-3zM1573 736v3h1v-3zM1605 562v3h1v-3zM1605 568v3h1v-3zM1605 574v3h1v-3zM1605 580v3h1v-3zM1605 586v3h1v-3zM1605 592v3h1v-3zM1605 598v3h1v-3zM1605 604v3h1v-3zM1605 610v3h1v-3zM1605 616v3h1v-3zM1605 622v3h1v-3zM1605 628v3h1v-3zM1605 634v3h1v-3zM1605 640v3h1v-3zM1605 646v3h1v-3zM1605 652v3h1v-3zM1605 658v3h1v-3zM1605 664v3h1v-3zM1605 670v3h1v-3zM1605 676v3h1v-3zM1605 682v3h1v-3zM1605 688v3h1v-3zM1605 694v3h1v-3zM1605 700v3h1v-3zM1605 706v3h1v-3zM1605 712v3h1v-3zM1605 718v3h1v-3zM1605 724v3h1v-3zM1605 730v3h1v-3zM1605 736v3h1v-3z" fill="#778899"/><defs><clipPath id="cm"><rect x="5" y="5" width="1617" height="554"/></clipPath><clipPath id="cd"><rect x="5" y="562" width="1617" height="180"/></clipPath></defs><g clip-path="url(#cm)"><path d="M5 284h1v7h-1zM5 323h1v11h-1zM13 222h1v6h-1zM13 289h1v9h-1zM21 224h1v4h-1zM21 297h1v27h-1zM29 263h1v33h-1zM37 290h1v6h-1zM37 322h1v7h-1zM45 279h1v17h-1zM45 303h1v6h-1zM53 260h1v6h-1zM53 295h1v3h-1zM61 221h1v39h-1zM69 243h1v3h-1zM69 251h1v13h-1zM77 210h1v19h-1zM77 259h1v3h-1zM85 192h1v2h-1zM85 228h1v1h-1zM93 190h1v13h-1zM93 207h1v11h-1zM101 198h1v2h-1zM101 202h1v15h-1zM109 206h1v4h-1zM109 251h1v3h-1zM117 219h1v9h-1zM117 243h1v11h-1zM125 209h1v6h-1zM125 238h1v5h-1zM133 220h1v18h-1zM133 239h1v8h-1zM141 209h1v4h-1zM141 228h1v20h-1zM149 217h1v11h-1zM149 240h1v1h-1zM157 207h1v26h-1zM157 238h1v22h-1zM165 182h1v3h-1zM165 239h1v3h-1zM173 152h1v23h-1zM173 181h1v4h-1zM181 166h1v4h-1zM181 181h1v3h-1zM189 130h1v4h-1zM189 159h1v11h-1zM197 118h1v16h-1zM197 135h1v17h-1zM205 127h1v5h-1zM205 133h1v14h-1zM213 106h1v4h-1zM213 131h1v12h-1zM229 122h1v6h-1zM229 135h1v9h-1zM237 71h1v18h-1zM237 120h1v8h-1zM245 79h1v19h-1zM253 73h1v3h-1zM253 102h1v9h-1zM261 94h1v9h-1zM261 108h1v6h-1zM269 92h1v11h-1zM269 116h1v2h-1zM277 116h1v1h-1zM277 121h1v19h-1zM285 114h1v22h-1zM293 112h1v4h-1zM293 127h1v7h-1zM301 137h1v2h-1zM301 144h1v19h-1zM309 129h1v11h-1zM309 158h1v10h-1zM317 117h1v21h-1zM317 141h1v6h-1zM325 128h1v4h-1zM325 138h1v10h-1zM333 87h1v2h-1zM333 132h1v4h-1zM341 53h1v4h-1zM341 89h1v4h-1zM349 30h1v25h-1zM349 70h1v1h-1zM357 37h1v9h-1zM357 55h1v7h-1zM365 45h1v2h-1zM365 63h1v9h-1zM373 57h1v11h-1zM373 89h1v6h-1zM381 86h1v5h-1zM381 120h1v2h-1zM389 108h1v9h-1zM389 119h1v8h-1zM397 98h1v4h-1zM397 152h1v1h-1zM405 149h1v3h-1zM405 201h1v3h-1zM413 190h1v1h-1zM413 225h1v15h-1zM421 225h1v1h-1zM421 263h1v25h-1zM429 252h1v8h-1zM429 287h1v24h-1zM437 280h1v8h-1zM437 289h1v44h-1zM445 281h1v8h-1zM445 298h1v19h-1zM453 274h1v17h-1zM453 297h1v6h-1zM461 281h1v8h-1zM461 304h1v9h-1zM469 235h1v19h-1zM469 287h1v4h-1zM477 211h1v6h-1zM477 251h1v1h-1zM485 202h1v8h-1zM485 213h1v25h-1zM493 205h1v15h-1zM493 228h1v16h-1zM501 206h1v2h-1zM501 218h1v5h-1zM509 191h1v12h-1zM509 233h1v23h-1zM517 219h1v9h-1zM517 233h1v9h-1zM525 162h1v19h-1zM525 212h1v13h-1zM533 167h1v12h-1zM533 181h1v4h-1zM541 134h1v15h-1zM541 173h1v17h-1zM549 137h1v12h-1zM549 216h1v2h-1zM557 214h1v1h-1zM557 253h1v7h-1zM573 229h1v13h-1zM573 248h1v6h-1zM581 240h1v9h-1zM581 262h1v5h-1zM589 244h1v20h-1zM589 288h1v15h-1zM597 285h1v5h-1zM597 329h1v3h-1zM605 304h1v36h-1zM613 245h1v4h-1zM613 329h1v2h-1zM621 239h1v13h-1zM621 253h1v16h-1zM629 252h1v3h-1zM629 268h1v21h-1zM637 262h1v14h-1zM637 287h1v5h-1zM645 284h1v5h-1zM645 300h1v14h-1zM653 268h1v12h-1zM653 293h1v4h-1zM661 276h1v4h-1zM661 309h1v25h-1zM669 298h1v12h-1zM669 336h1v23h-1zM677 307h1v2h-1zM677 329h1v12h-1zM685 273h1v45h-1zM685 329h1v18h-1zM693 289h1v17h-1zM693 316h1v19h-1zM701 291h1v15h-1zM701 330h1v18h-1zM709 329h1v1h-1zM709 382h1v3h-1zM717 388h1v6h-1zM717 399h1v29h-1zM725 384h1v17h-1zM725 444h1v5h-1zM733 442h1v12h-1zM733 466h1v13h-1zM741 449h1v13h-1zM741 467h1v35h-1zM749 459h1v8h-1zM749 473h1v31h-1zM757 438h1v15h-1zM757 472h1v1h-1zM765 426h1v2h-1zM765 482h1v14h-1zM773 464h1v9h-1zM773 482h1v13h-1zM781 456h1v20h-1zM781 516h1v9h-1zM789 463h1v9h-1zM789 516h1v20h-1zM797 482h1v8h-1zM797 522h1v7h-1zM805 502h1v15h-1zM805 524h1v18h-1zM813 463h1v17h-1zM813 521h1v5h-1zM821 465h1v15h-1zM821 506h1v10h-1zM829 431h1v8h-1zM829 478h1v1h-1zM837 426h1v25h-1zM845 438h1v2h-1zM845 456h1v9h-1zM853 453h1v4h-1zM853 461h1v17h-1zM861 423h1v34h-1zM861 466h1v22h-1zM869 453h1v4h-1zM869 511h1v6h-1zM877 485h1v11h-1zM877 517h1v12h-1zM885 500h1v16h-1zM885 527h1v17h-1zM893 501h1v45h-1zM901 465h1v25h-1zM901 519h1v10h-1zM909 467h1v13h-1zM909 486h1v8h-1zM917 459h1v5h-1zM917 485h1v5h-1zM925 464h1v8h-1zM925 478h1v10h-1zM933 430h1v32h-1zM933 470h1v9h-1zM941 442h1v4h-1zM941 467h1v1h-1zM949 418h1v9h-1zM949 443h1v10h-1zM957 391h1v6h-1zM957 415h1v4h-1zM965 388h1v8h-1zM965 427h1v2h-1zM973 391h1v9h-1zM973 411h1v7h-1zM981 345h1v2h-1zM981 398h1v5h-1zM989 352h1v7h-1zM989 377h1v1h-1zM997 321h1v17h-1zM997 357h1v8h-1zM1005 341h1v3h-1zM1005 373h1v8h-1zM1013 366h1v10h-1zM1013 377h1v6h-1zM1021 361h1v11h-1zM1021 376h1v13h-1zM1029 360h1v11h-1zM1029 386h1v6h-1zM1037 389h1v18h-1zM1037 412h1v12h-1zM1045 409h1v4h-1zM1045 461h1v2h-1zM1053 482h1v6h-1zM1053 494h1v39h-1zM1061 493h1v1h-1zM1061 512h1v18h-1zM1069 494h1v2h-1zM1069 506h1v21h-1zM1077 468h1v15h-1zM1077 495h1v3h-1zM1085 482h1v12h-1zM1085 505h1v21h-1zM1093 472h1v6h-1zM1093 504h1v9h-1zM1101 470h1v1h-1zM1101 505h1v9h-1zM1109 477h1v21h-1zM1109 505h1v6h-1zM1117 448h1v1h-1zM1117 502h1v7h-1zM1125 442h1v9h-1zM1125 469h1v5h-1zM1133 395h1v2h-1zM1133 454h1v4h-1zM1141 395h1v2h-1zM1141 412h1v5h-1zM1149 401h1v5h-1zM1149 417h1v5h-1zM1157 399h1v4h-1zM1157 405h1v16h-1zM1165 403h1v6h-1zM1165 434h1v2h-1zM1173 427h1v9h-1zM1173 441h1v8h-1zM1181 422h1v33h-1zM1181 476h1v3h-1zM1189 466h1v19h-1zM1197 476h1v13h-1zM1197 502h1v4h-1zM1205 472h1v25h-1zM1205 503h1v1h-1zM1213 439h1v30h-1zM1213 473h1v3h-1zM1221 467h1v5h-1zM1221 474h1v15h-1zM1229 432h1v2h-1zM1229 454h1v15h-1zM1237 430h1v4h-1zM1237 436h1v19h-1zM1245 426h1v8h-1zM1245 437h1v13h-1zM1253 428h1v6h-1zM1253 463h1v12h-1zM1261 389h1v12h-1zM1261 440h1v3h-1zM1269 376h1v7h-1zM1269 398h1v7h-1zM1277 369h1v20h-1zM1285 370h1v5h-1zM1285 384h1v4h-1zM3 290h5v34h-5zM11 227h5v63h-5zM19 227h5v71h-5zM27 293h5v2h-5zM35 295h5v28h-5zM43 295h5v9h-5zM51 265h5v31h-5zM59 250h5v2h-5zM67 245h5v7h-5zM75 228h5v32h-5zM83 193h5v36h-5zM91 202h5v6h-5zM99 199h5v4h-5zM107 209h5v43h-5zM115 227h5v17h-5zM123 214h5v25h-5zM131 237h5v3h-5zM139 212h5v17h-5zM147 227h5v14h-5zM155 232h5v7h-5zM163 184h5v56h-5zM171 174h5v8h-5zM179 169h5v13h-5zM187 133h5v27h-5zM195 133h5v3h-5zM203 131h5v3h-5zM211 109h5v23h-5zM227 127h5v9h-5zM235 88h5v33h-5zM243 88h5v1h-5zM251 75h5v28h-5zM259 102h5v7h-5zM267 102h5v15h-5zM275 116h5v6h-5zM283 114h5v2h-5zM291 115h5v13h-5zM299 138h5v7h-5zM307 139h5v20h-5zM315 137h5v5h-5zM323 131h5v8h-5zM331 88h5v45h-5zM339 56h5v34h-5zM347 54h5v17h-5zM355 45h5v11h-5zM363 46h5v18h-5zM371 67h5v23h-5zM379 90h5v31h-5zM387 116h5v4h-5zM395 101h5v52h-5zM403 151h5v51h-5zM411 190h5v36h-5zM419 225h5v39h-5zM427 259h5v29h-5zM435 287h5v3h-5zM443 288h5v11h-5zM451 290h5v8h-5zM459 288h5v17h-5zM467 253h5v35h-5zM475 216h5v36h-5zM483 209h5v5h-5zM491 219h5v10h-5zM499 207h5v12h-5zM507 202h5v32h-5zM515 227h5v7h-5zM523 180h5v33h-5zM531 178h5v4h-5zM539 148h5v26h-5zM547 148h5v69h-5zM555 214h5v40h-5zM571 241h5v8h-5zM579 248h5v15h-5zM587 263h5v26h-5zM595 289h5v41h-5zM603 329h5v2h-5zM611 248h5v82h-5zM619 251h5v3h-5zM627 254h5v15h-5zM635 275h5v13h-5zM643 288h5v13h-5zM651 279h5v15h-5zM659 279h5v31h-5zM667 309h5v28h-5zM675 308h5v22h-5zM683 317h5v13h-5zM691 305h5v12h-5zM699 305h5v26h-5zM707 329h5v54h-5zM715 393h5v7h-5zM723 400h5v45h-5zM731 453h5v14h-5zM739 461h5v7h-5zM747 466h5v8h-5zM755 452h5v21h-5zM763 427h5v56h-5zM771 472h5v11h-5zM779 475h5v42h-5zM787 471h5v46h-5zM795 489h5v34h-5zM803 516h5v9h-5zM811 479h5v43h-5zM819 479h5v28h-5zM827 438h5v41h-5zM835 438h5v2h-5zM843 439h5v18h-5zM851 456h5v6h-5zM859 456h5v11h-5zM867 456h5v56h-5zM875 495h5v23h-5zM883 515h5v13h-5zM891 520h5v2h-5zM899 489h5v31h-5zM907 479h5v8h-5zM915 463h5v23h-5zM923 471h5v8h-5zM931 461h5v10h-5zM939 445h5v23h-5zM947 426h5v18h-5zM955 396h5v20h-5zM963 395h5v33h-5zM971 399h5v13h-5zM979 346h5v53h-5zM987 358h5v20h-5zM995 337h5v21h-5zM1003 343h5v31h-5zM1011 375h5v3h-5zM1019 371h5v6h-5zM1027 370h5v17h-5zM1035 406h5v7h-5zM1043 412h5v50h-5zM1051 487h5v8h-5zM1059 493h5v20h-5zM1067 495h5v12h-5zM1075 482h5v14h-5zM1083 493h5v13h-5zM1091 477h5v28h-5zM1099 470h5v36h-5zM1107 497h5v9h-5zM1115 448h5v55h-5zM1123 450h5v20h-5zM1131 396h5v59h-5zM1139 396h5v17h-5zM1147 405h5v13h-5zM1155 402h5v4h-5zM1163 408h5v27h-5zM1171 435h5v7h-5zM1179 454h5v23h-5zM1187 477h5v2h-5zM1195 488h5v15h-5zM1203 496h5v8h-5zM1211 468h5v6h-5zM1219 471h5v4h-5zM1227 433h5v22h-5zM1235 433h5v4h-5zM1243 433h5v5h-5zM1251 433h5v31h-5zM1259 400h5v41h-5zM1267 382h5v17h-5zM1275 373h5v1h-5zM1283 374h5v11h-5z" fill="#000"/><path d="M12 228h3v61h-3zM44 296h3v7h-3zM52 266h3v29h-3zM68 246h3v5h-3zM76 229h3v30h-3zM84 194h3v34h-3zM92 203h3v4h-3zM100 200h3v2h-3zM116 228h3v15h-3zM132 238h3v1h-3zM164 185h3v54h-3zM180 170h3v11h-3zM188 134h3v25h-3zM204 132h3v1h-3zM212 110h3v21h-3zM228 128h3v7h-3zM236 89h3v31h-3zM300 139h3v5h-3zM316 138h3v3h-3zM324 132h3v6h-3zM332 89h3v43h-3zM340 57h3v32h-3zM348 55h3v15h-3zM356 46h3v9h-3zM388 117h3v2h-3zM444 289h3v9h-3zM460 289h3v15h-3zM468 254h3v33h-3zM476 217h3v34h-3zM484 210h3v3h-3zM492 220h3v8h-3zM500 208h3v10h-3zM516 228h3v5h-3zM524 181h3v31h-3zM532 179h3v2h-3zM540 149h3v24h-3zM612 249h3v80h-3zM652 280h3v13h-3zM668 310h3v26h-3zM684 318h3v11h-3zM692 306h3v10h-3zM740 462h3v5h-3zM756 453h3v19h-3zM772 473h3v9h-3zM788 472h3v44h-3zM804 517h3v7h-3zM812 480h3v41h-3zM828 439h3v39h-3zM860 457h3v9h-3zM900 490h3v29h-3zM916 464h3v21h-3zM924 472h3v6h-3zM932 462h3v8h-3zM940 446h3v21h-3zM948 427h3v16h-3zM956 397h3v18h-3zM972 400h3v11h-3zM980 347h3v51h-3zM988 359h3v18h-3zM996 338h3v19h-3zM1012 376h3v1h-3zM1020 372h3v4h-3zM1068 496h3v10h-3zM1076 483h3v12h-3zM1092 478h3v26h-3zM1108 498h3v7h-3zM1116 449h3v53h-3zM1132 397h3v57h-3zM1148 406h3v11h-3zM1156 403h3v2h-3zM1204 497h3v6h-3zM1220 472h3v2h-3zM1228 434h3v20h-3zM1244 434h3v3h-3zM1260 401h3v39h-3zM1268 383h3v15h-3z" fill="#ff0000"/><path d="M4 291h3v32h-3zM20 228h3v69h-3zM36 296h3v26h-3zM108 210h3v41h-3zM124 215h3v23h-3zM140 213h3v15h-3zM148 228h3v12h-3zM156 233h3v5h-3zM172 175h3v6h-3zM196 134h3v1h-3zM252 76h3v26h-3zM260 103h3v5h-3zM268 103h3v13h-3zM276 117h3v4h-3zM292 116h3v11h-3zM308 140h3v18h-3zM364 47h3v16h-3zM372 68h3v21h-3zM380 91h3v29h-3zM396 102h3v50h-3zM404 152h3v49h-3zM412 191h3v34h-3zM420 226h3v37h-3zM428 260h3v27h-3zM436 288h3v1h-3zM452 291h3v6h-3zM508 203h3v30h-3zM548 149h3v67h-3zM556 215h3v38h-3zM572 242h3v6h-3zM580 249h3v13h-3zM588 264h3v24h-3zM596 290h3v39h-3zM620 252h3v1h-3zM628 255h3v13h-3zM636 276h3v11h-3zM644 289h3v11h-3zM660 280h3v29h-3zM676 309h3v20h-3zM700 306h3v24h-3zM708 330h3v52h-3zM716 394h3v5h-3zM724 401h3v43h-3zM732 454h3v12h-3zM748 467h3v6h-3zM764 428h3v54h-3zM780 476h3v40h-3zM796 490h3v32h-3zM820 480h3v26h-3zM844 440h3v16h-3zM852 457h3v4h-3zM868 457h3v54h-3zM876 496h3v21h-3zM884 516h3v11h-3zM908 480h3v6h-3zM964 396h3v31h-3zM1004 344h3v29h-3zM1028 371h3v15h-3zM1036 407h3v5h-3zM1044 413h3v48h-3zM1052 488h3v6h-3zM1060 494h3v18h-3zM1084 494h3v11h-3zM1100 471h3v34h-3zM1124 451h3v18h-3zM1140 397h3v15h-3zM1164 409h3v25h-3zM1172 436h3v5h-3zM1180 455h3v21h-3zM1196 489h3v13h-3zM1212 469h3v4h-3zM1236 434h3v2h-3zM1252 434h3v29h-3zM1284 375h3v9h-3z" fill="#00ff00"/><path d="M221 116h1v21h-1zM219 129h5v1h-5zM565 227h1v36h-1zM563 253h5v1h-5z" fill="#00ff00"/><rect x="5" y="384" width="1617" height="1" fill="#778899"/><rect x="5" y="322" width="1617" height="3" fill="#000000"/><rect x="5" y="398" width="1617" height="3" fill="#0000cd"/><rect x="5" y="424" width="1617" height="3" fill="#0000cd"/></g><g clip-path="url(#cd)"><path d="M4 629h3v74h-3zM12 629h3v64h-3zM20 629h3v65h-3zM28 629h3v65h-3zM36 629h3v65h-3zM44 629h3v65h-3zM52 629h3v59h-3zM60 629h3v51h-3zM68 629h3v45h-3zM76 629h3v35h-3zM84 629h3v24h-3zM92 629h3v16h-3zM100 629h3v9h-3zM108 629h3v10h-3zM116 629h3v8h-3zM124 629h3v7h-3zM132 629h3v7h-3zM140 629h3v5h-3zM148 629h3v5h-3zM156 629h3v5h-3zM164 626h3v3h-3zM172 619h3v10h-3zM180 612h3v17h-3zM188 603h3v26h-3zM196 597h3v32h-3zM204 592h3v37h-3zM212 585h3v44h-3zM220 582h3v47h-3zM228 581h3v48h-3zM236 575h3v54h-3zM244 571h3v58h-3zM252 571h3v58h-3zM260 572h3v57h-3zM268 573h3v56h-3zM276 577h3v52h-3zM284 580h3v49h-3zM292 583h3v46h-3zM300 589h3v40h-3zM308 596h3v33h-3zM316 599h3v30h-3zM324 601h3v28h-3zM332 597h3v32h-3zM340 591h3v38h-3zM348 585h3v44h-3zM356 581h3v48h-3zM364 580h3v49h-3zM372 582h3v47h-3zM380 590h3v39h-3zM388 596h3v33h-3zM396 606h3v23h-3zM404 620h3v9h-3zM412 629h3v6h-3zM420 629h3v23h-3zM428 629h3v38h-3zM436 629h3v51h-3zM444 629h3v59h-3zM452 629h3v68h-3zM460 629h3v71h-3zM468 629h3v68h-3zM476 629h3v61h-3zM484 629h3v53h-3zM492 629h3v48h-3zM500 629h3v42h-3zM508 629h3v40h-3zM516 629h3v38h-3zM524 629h3v29h-3zM532 629h3v21h-3zM540 629h3v11h-3zM548 629h3v13h-3zM556 629h3v18h-3zM564 629h3v22h-3zM572 629h3v23h-3zM580 629h3v28h-3zM588 629h3v33h-3zM596 629h3v43h-3zM604 629h3v50h-3zM612 629h3v45h-3zM620 629h3v40h-3zM628 629h3v38h-3zM636 629h3v38h-3zM644 629h3v39h-3zM652 629h3v41h-3zM660 629h3v41h-3zM668 629h3v41h-3zM676 629h3v45h-3zM684 629h3v46h-3zM692 629h3v44h-3zM700 629h3v45h-3zM708 629h3v53h-3zM716 629h3v60h-3zM724 629h3v71h-3zM732 629h3v82h-3zM740 629h3v89h-3zM748 629h3v95h-3zM756 629h3v96h-3zM764 629h3v100h-3zM772 629h3v100h-3zM780 629h3v105h-3zM788 629h3v102h-3zM796 629h3v105h-3zM804 629h3v105h-3zM812 629h3v100h-3zM820 629h3v98h-3zM828 629h3v86h-3zM836 629h3v76h-3zM844 629h3v69h-3zM852 629h3v64h-3zM860 629h3v59h-3zM868 629h3v61h-3zM876 629h3v63h-3zM884 629h3v65h-3zM892 629h3v65h-3zM900 629h3v61h-3zM908 629h3v56h-3zM916 629h3v48h-3zM924 629h3v43h-3zM932 629h3v38h-3zM940 629h3v30h-3zM948 629h3v21h-3zM956 629h3v10h-3zM964 629h3v7h-3zM972 626h3v3h-3zM980 614h3v15h-3zM988 605h3v24h-3zM996 596h3v33h-3zM1004 593h3v36h-3zM1012 593h3v36h-3zM1020 593h3v36h-3zM1028 595h3v34h-3zM1036 600h3v29h-3zM1044 611h3v18h-3zM1052 623h3v6h-3zM1060 629h3v9h-3zM1068 629h3v17h-3zM1076 629h3v21h-3zM1084 629h3v27h-3zM1092 629h3v27h-3zM1100 629h3v31h-3zM1108 629h3v33h-3zM1116 629h3v28h-3zM1124 629h3v25h-3zM1132 629h3v14h-3zM1140 629h3v7h-3zM1148 629h3v1h-3zM1156 623h3v6h-3zM1164 623h3v6h-3zM1172 624h3v5h-3zM1180 629h3v2h-3zM1188 629h3v3h-3zM1196 629h3v13h-3zM1204 629h3v17h-3zM1212 629h3v18h-3zM1220 629h3v17h-3zM1228 629h3v12h-3zM1236 629h3v9h-3zM1244 629h3v4h-3zM1252 629h3v5h-3zM1260 626h3v3h-3zM1268 617h3v12h-3zM1276 610h3v19h-3zM1284 606h3v23h-3z" fill="#00ff00"/><polyline points="5.0,695.00 13.0,695.00 21.0,695.00 29.0,695.00 37.0,695.00 45.0,695.00 53.0,695.00 61.0,692.20 69.0,689.48 77.0,685.11 85.0,680.70 93.0,675.27 101.0,669.07 109.0,662.99 117.0,656.67 125.0,650.90 133.0,645.99 141.0,641.59 149.0,638.29 157.0,636.14 165.0,634.20 173.0,632.33 181.0,629.56 189.0,626.03 197.0,621.87 205.0,617.13 213.0,611.87 221.0,606.22 229.0,600.51 237.0,594.83 245.0,589.42 253.0,584.80 261.0,581.27 269.0,578.68 277.0,577.02 285.0,576.48 293.0,576.68 301.0,577.57 309.0,579.91 317.0,583.00 325.0,586.31 333.0,589.10 341.0,591.02 349.0,591.89 357.0,591.99 365.0,591.57 373.0,590.88 381.0,590.27 389.0,589.94 397.0,590.51 405.0,593.06 413.0,597.73 421.0,605.03 429.0,614.46 437.0,625.43 445.0,636.98 453.0,648.59 461.0,659.96 469.0,669.92 477.0,677.57 485.0,682.83 493.0,685.60 501.0,686.02 509.0,684.77 517.0,682.37 525.0,678.10 533.0,672.54 541.0,666.22 549.0,660.79 557.0,656.89 565.0,654.00 573.0,651.90 581.0,650.57 589.0,650.08 597.0,651.63 605.0,654.90 613.0,658.68 621.0,661.77 629.0,663.99 637.0,665.71 645.0,667.49 653.0,668.91 661.0,669.77 669.0,669.51 677.0,668.97 685.0,669.04 693.0,669.49 701.0,670.30 709.0,672.03 717.0,674.38 725.0,677.71 733.0,682.29 741.0,687.68 749.0,693.23 757.0,698.79 765.0,705.01 773.0,711.11 781.0,716.86 789.0,721.50 797.0,725.28 805.0,727.81 813.0,728.97 821.0,729.27 829.0,728.16 837.0,725.47 845.0,722.01 853.0,717.50 861.0,712.73 869.0,707.90 877.0,703.27 885.0,699.44 893.0,695.76 901.0,693.01 909.0,690.79 917.0,688.44 925.0,686.10 933.0,683.70 941.0,680.24 949.0,675.60 957.0,669.48 965.0,662.99 973.0,656.01 981.0,648.31 989.0,640.47 997.0,632.18 1005.0,624.27 1013.0,617.17 1021.0,610.98 1029.0,606.22 1037.0,602.46 1045.0,600.78 1053.0,601.84 1061.0,605.39 1069.0,610.79 1077.0,616.90 1085.0,623.66 1093.0,630.49 1101.0,637.59 1109.0,644.32 1117.0,649.28 1125.0,652.50 1133.0,653.04 1141.0,651.91 1149.0,649.59 1157.0,646.07 1165.0,642.54 1173.0,638.67 1181.0,635.21 1189.0,632.44 1197.0,631.09 1205.0,631.38 1213.0,632.63 1221.0,634.46 1229.0,636.30 1237.0,637.77 1245.0,638.58 1253.0,638.94 1261.0,638.43 1269.0,635.82 1277.0,632.01 1285.0,627.60" fill="none" stroke="#ff0000" stroke-width="2" stroke-linejoin="round"/></g><g fill="none" stroke="#000" stroke-width="1"><rect x="4.5" y="4.5" width="1618" height="555"/><rect x="4.5" y="561.5" width="1618" height="181"/></g><g fill="#ff0000" shape-rendering="auto"><line x1="1294.6" y1="400.3" x2="1314.5" y2="328" stroke="#ff0000" stroke-width="6" stroke-linecap="round"/><polygon points="1321.7,298.5 1301.4,329.6 1324.3,335.6"/></g><path d="M1293 5h9v1h-9zM1294 6h7v1h-7zM1295 7h5v1h-5zM1296 8h3v1h-3zM1297 9h1v1h-1z" fill="#778899"/><path d="M1293 5h1v1h-1zM1301 5h1v1h-1zM1294 6h1v1h-1zM1300 6h1v1h-1zM1295 7h1v1h-1zM1299 7h1v1h-1zM1296 8h1v1h-1zM1298 8h1v1h-1zM1297 9h1v1h-1z" fill="#5f6f80"/><path d="M8 11h7v1h-7zM9 12h5v1h-5zM10 13h3v1h-3zM11 14h1v1h-1z" fill="#000"/><rect x="1624" y="317" width="36" height="11" fill="#000"/><rect x="1624" y="379" width="36" height="11" fill="#000"/><rect x="1624" y="393" width="36" height="11" fill="#0000cd"/><rect x="1624" y="419" width="36" height="11" fill="#0000cd"/><path d="M1623 28h2v1h-2zM1623 61h2v1h-2zM1623 94h2v1h-2zM1623 127h2v1h-2zM1623 160h2v1h-2zM1623 193h2v1h-2zM1623 226h2v1h-2zM1623 259h2v1h-2zM1623 292h2v1h-2zM1623 325h2v1h-2zM1623 358h2v1h-2zM1623 391h2v1h-2zM1623 424h2v1h-2zM1623 457h2v1h-2zM1623 490h2v1h-2zM1623 523h2v1h-2zM1623 556h2v1h-2zM1623 563h2v1h-2zM1623 629h2v1h-2zM5 743h1v3h-1zM69 743h1v3h-1zM133 743h1v3h-1zM197 743h1v3h-1zM261 743h1v3h-1zM325 743h1v3h-1zM389 743h1v3h-1zM453 743h1v3h-1zM517 743h1v3h-1zM581 743h1v3h-1zM645 743h1v3h-1zM709 743h1v3h-1zM773 743h1v3h-1zM837 743h1v3h-1zM901 743h1v3h-1zM965 743h1v3h-1zM1029 743h1v3h-1zM1093 743h1v3h-1zM1157 743h1v3h-1zM1221 743h1v3h-1zM1285 743h1v3h-1z" fill="#000"/><g font-family='"Liberation Sans", sans-serif' font-size="10.0" shape-rendering="auto" text-rendering="geometricPrecision" stroke-width="0.15"><text transform="translate(21.000,16) scale(0.9692,1)" fill="#000" stroke="#000">CHINA300-,H4</text><text transform="translate(91.062,16) scale(0.9298,1)" fill="#000" stroke="#000">3900.5 3903.6 3890.0 3892.7</text><text transform="translate(1628.000,32) scale(0.9310,1)" fill="#000" stroke="#000">4173.0</text><text transform="translate(1628.000,65) scale(0.9310,1)" fill="#000" stroke="#000">4147.0</text><text transform="translate(1628.000,98) scale(0.9310,1)" fill="#000" stroke="#000">4121.0</text><text transform="translate(1628.000,131) scale(0.9310,1)" fill="#000" stroke="#000">4095.0</text><text transform="translate(1628.000,164) scale(0.9310,1)" fill="#000" stroke="#000">4069.0</text><text transform="translate(1628.000,197) scale(0.9310,1)" fill="#000" stroke="#000">4043.0</text><text transform="translate(1628.000,230) scale(0.9310,1)" fill="#000" stroke="#000">4017.0</text><text transform="translate(1628.035,263) scale(0.9323,1)" fill="#000" stroke="#000">3991.0</text><text transform="translate(1628.035,296) scale(0.9323,1)" fill="#000" stroke="#000">3965.0</text><text transform="translate(1628.035,329) scale(0.9323,1)" fill="#000" stroke="#000">3939.0</text><text transform="translate(1628.035,362) scale(0.9323,1)" fill="#000" stroke="#000">3913.0</text><text transform="translate(1628.033,395) scale(0.8978,1)" fill="#000" stroke="#000">3887.0</text><text transform="translate(1628.033,428) scale(0.8978,1)" fill="#000" stroke="#000">3861.0</text><text transform="translate(1628.035,461) scale(0.9323,1)" fill="#000" stroke="#000">3835.0</text><text transform="translate(1628.035,494) scale(0.9323,1)" fill="#000" stroke="#000">3809.0</text><text transform="translate(1628.035,527) scale(0.9323,1)" fill="#000" stroke="#000">3783.0</text><text transform="translate(1628.035,560) scale(0.9323,1)" fill="#000" stroke="#000">3757.0</text><text transform="translate(1628.035,326) scale(0.9323,1)" fill="#fff" stroke="#fff">3940.7</text><text transform="translate(1628.034,388) scale(0.9298,1)" fill="#fff" stroke="#fff">3892.7</text><text transform="translate(1628.034,402) scale(0.9298,1)" fill="#fff" stroke="#fff">3880.9</text><text transform="translate(1628.033,428) scale(0.8978,1)" fill="#fff" stroke="#fff">3860.5</text><text transform="translate(9.045,574) scale(0.9552,1)" fill="#000" stroke="#000">MACD(12,26,9)</text><text transform="translate(78.045,574) scale(0.9545,1)" fill="#000" stroke="#000">11.07</text><text transform="translate(104.000,574) scale(0.9444,1)" fill="#000" stroke="#000">0.84</text><text transform="translate(1626.042,572) scale(0.9149,1)" fill="#000" stroke="#000">31.43</text><text transform="translate(1626.000,633) scale(0.9444,1)" fill="#000" stroke="#000">0.00</text><text transform="translate(1626.037,739) scale(0.9246,1)" fill="#000" stroke="#000">-53.31</text><text transform="translate(4.074,755) scale(0.9259,1)" fill="#000" stroke="#000">16 Mar 2023</text><text transform="translate(68.000,755) scale(0.9310,1)" fill="#000" stroke="#000">22 Mar 05:00</text><text transform="translate(132.000,755) scale(0.9310,1)" fill="#000" stroke="#000">28 Mar 05:00</text><text transform="translate(196.020,755) scale(0.9596,1)" fill="#000" stroke="#000">3 Apr 05:00</text><text transform="translate(259.036,755) scale(0.9636,1)" fill="#000" stroke="#000">10 Apr 05:00</text><text transform="translate(324.055,755) scale(0.9455,1)" fill="#000" stroke="#000">14 Apr 05:00</text><text transform="translate(388.000,755) scale(0.9464,1)" fill="#000" stroke="#000">20 Apr 05:00</text><text transform="translate(452.000,755) scale(0.9464,1)" fill="#000" stroke="#000">26 Apr 05:00</text><text transform="translate(516.019,755) scale(0.9626,1)" fill="#000" stroke="#000">5 May 05:00</text><text transform="translate(579.017,755) scale(0.9828,1)" fill="#000" stroke="#000">11 May 05:00</text><text transform="translate(643.017,755) scale(0.9828,1)" fill="#000" stroke="#000">17 May 05:00</text><text transform="translate(708.000,755) scale(0.9497,1)" fill="#000" stroke="#000">23 May 05:00</text><text transform="translate(772.000,755) scale(0.9497,1)" fill="#000" stroke="#000">29 May 05:00</text><text transform="translate(836.000,755) scale(0.9216,1)" fill="#000" stroke="#000">2 Jun 05:00</text><text transform="translate(900.000,755) scale(0.9216,1)" fill="#000" stroke="#000">8 Jun 05:00</text><text transform="translate(963.071,755) scale(0.9286,1)" fill="#000" stroke="#000">14 Jun 05:00</text><text transform="translate(1028.000,755) scale(0.9123,1)" fill="#000" stroke="#000">20 Jun 05:00</text><text transform="translate(1092.000,755) scale(0.9123,1)" fill="#000" stroke="#000">28 Jun 05:00</text><text transform="translate(1156.000,755) scale(0.9167,1)" fill="#000" stroke="#000">4 Jul 05:00</text><text transform="translate(1219.058,755) scale(0.9423,1)" fill="#000" stroke="#000">10 Jul 05:00</text><text transform="translate(1283.058,755) scale(0.9423,1)" fill="#000" stroke="#000">14 Jul 05:00</text></g></svg></body></html>
